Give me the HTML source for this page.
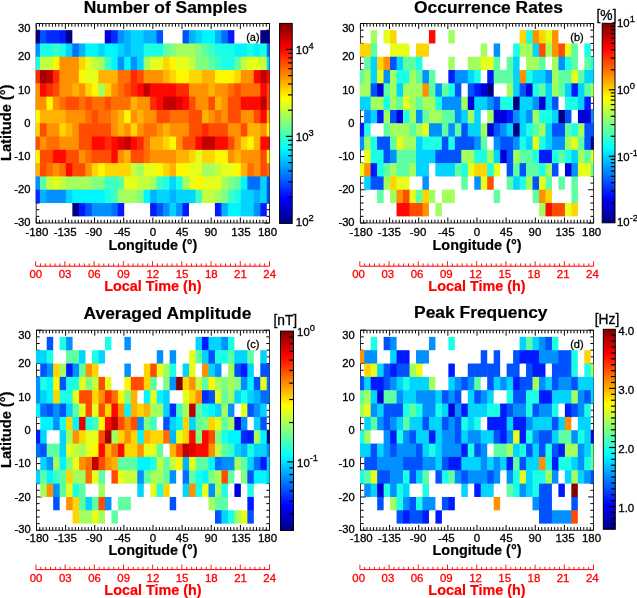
<!DOCTYPE html><html><head><meta charset="utf-8"><style>html,body{margin:0;padding:0;background:#fff;}svg{display:block;will-change:transform;filter:blur(0.35px);}text{font-family:"Liberation Sans",sans-serif;}</style></head><body>
<svg width="637" height="598" viewBox="0 0 637 598">
<rect x="0" y="0" width="637" height="598" fill="#fff"/>
<defs><linearGradient id="jetg" x1="0" y1="1" x2="0" y2="0"><stop offset="0.0000" stop-color="#000080"/><stop offset="0.0312" stop-color="#00009f"/><stop offset="0.0625" stop-color="#0000bf"/><stop offset="0.0938" stop-color="#0000df"/><stop offset="0.1250" stop-color="#0000ff"/><stop offset="0.1562" stop-color="#0020ff"/><stop offset="0.1875" stop-color="#0040ff"/><stop offset="0.2188" stop-color="#0060ff"/><stop offset="0.2500" stop-color="#0080ff"/><stop offset="0.2812" stop-color="#009fff"/><stop offset="0.3125" stop-color="#00bfff"/><stop offset="0.3438" stop-color="#00dfff"/><stop offset="0.3750" stop-color="#00ffff"/><stop offset="0.4062" stop-color="#20ffdf"/><stop offset="0.4375" stop-color="#40ffbf"/><stop offset="0.4688" stop-color="#60ff9f"/><stop offset="0.5000" stop-color="#80ff80"/><stop offset="0.5312" stop-color="#9fff60"/><stop offset="0.5625" stop-color="#bfff40"/><stop offset="0.5938" stop-color="#dfff20"/><stop offset="0.6250" stop-color="#ffff00"/><stop offset="0.6562" stop-color="#ffdf00"/><stop offset="0.6875" stop-color="#ffbf00"/><stop offset="0.7188" stop-color="#ff9f00"/><stop offset="0.7500" stop-color="#ff8000"/><stop offset="0.7812" stop-color="#ff6000"/><stop offset="0.8125" stop-color="#ff4000"/><stop offset="0.8438" stop-color="#ff2000"/><stop offset="0.8750" stop-color="#ff0000"/><stop offset="0.9062" stop-color="#df0000"/><stop offset="0.9375" stop-color="#bf0000"/><stop offset="0.9688" stop-color="#9f0000"/><stop offset="1.0000" stop-color="#800000"/></linearGradient></defs>
<line x1="36.20" y1="223.00" x2="36.20" y2="217.60" stroke="#000" stroke-width="1.00"/>
<line x1="36.20" y1="23.50" x2="36.20" y2="28.90" stroke="#000" stroke-width="1.00"/>
<line x1="39.44" y1="223.00" x2="39.44" y2="219.80" stroke="#000" stroke-width="1.00"/>
<line x1="39.44" y1="23.50" x2="39.44" y2="26.70" stroke="#000" stroke-width="1.00"/>
<line x1="42.68" y1="223.00" x2="42.68" y2="219.80" stroke="#000" stroke-width="1.00"/>
<line x1="42.68" y1="23.50" x2="42.68" y2="26.70" stroke="#000" stroke-width="1.00"/>
<line x1="45.92" y1="223.00" x2="45.92" y2="219.80" stroke="#000" stroke-width="1.00"/>
<line x1="45.92" y1="23.50" x2="45.92" y2="26.70" stroke="#000" stroke-width="1.00"/>
<line x1="49.16" y1="223.00" x2="49.16" y2="219.80" stroke="#000" stroke-width="1.00"/>
<line x1="49.16" y1="23.50" x2="49.16" y2="26.70" stroke="#000" stroke-width="1.00"/>
<line x1="52.40" y1="223.00" x2="52.40" y2="219.80" stroke="#000" stroke-width="1.00"/>
<line x1="52.40" y1="23.50" x2="52.40" y2="26.70" stroke="#000" stroke-width="1.00"/>
<line x1="55.64" y1="223.00" x2="55.64" y2="219.80" stroke="#000" stroke-width="1.00"/>
<line x1="55.64" y1="23.50" x2="55.64" y2="26.70" stroke="#000" stroke-width="1.00"/>
<line x1="58.88" y1="223.00" x2="58.88" y2="219.80" stroke="#000" stroke-width="1.00"/>
<line x1="58.88" y1="23.50" x2="58.88" y2="26.70" stroke="#000" stroke-width="1.00"/>
<line x1="62.12" y1="223.00" x2="62.12" y2="219.80" stroke="#000" stroke-width="1.00"/>
<line x1="62.12" y1="23.50" x2="62.12" y2="26.70" stroke="#000" stroke-width="1.00"/>
<line x1="65.36" y1="223.00" x2="65.36" y2="217.60" stroke="#000" stroke-width="1.00"/>
<line x1="65.36" y1="23.50" x2="65.36" y2="28.90" stroke="#000" stroke-width="1.00"/>
<line x1="68.60" y1="223.00" x2="68.60" y2="219.80" stroke="#000" stroke-width="1.00"/>
<line x1="68.60" y1="23.50" x2="68.60" y2="26.70" stroke="#000" stroke-width="1.00"/>
<line x1="71.84" y1="223.00" x2="71.84" y2="219.80" stroke="#000" stroke-width="1.00"/>
<line x1="71.84" y1="23.50" x2="71.84" y2="26.70" stroke="#000" stroke-width="1.00"/>
<line x1="75.08" y1="223.00" x2="75.08" y2="219.80" stroke="#000" stroke-width="1.00"/>
<line x1="75.08" y1="23.50" x2="75.08" y2="26.70" stroke="#000" stroke-width="1.00"/>
<line x1="78.32" y1="223.00" x2="78.32" y2="219.80" stroke="#000" stroke-width="1.00"/>
<line x1="78.32" y1="23.50" x2="78.32" y2="26.70" stroke="#000" stroke-width="1.00"/>
<line x1="81.56" y1="223.00" x2="81.56" y2="219.80" stroke="#000" stroke-width="1.00"/>
<line x1="81.56" y1="23.50" x2="81.56" y2="26.70" stroke="#000" stroke-width="1.00"/>
<line x1="84.80" y1="223.00" x2="84.80" y2="219.80" stroke="#000" stroke-width="1.00"/>
<line x1="84.80" y1="23.50" x2="84.80" y2="26.70" stroke="#000" stroke-width="1.00"/>
<line x1="88.04" y1="223.00" x2="88.04" y2="219.80" stroke="#000" stroke-width="1.00"/>
<line x1="88.04" y1="23.50" x2="88.04" y2="26.70" stroke="#000" stroke-width="1.00"/>
<line x1="91.28" y1="223.00" x2="91.28" y2="219.80" stroke="#000" stroke-width="1.00"/>
<line x1="91.28" y1="23.50" x2="91.28" y2="26.70" stroke="#000" stroke-width="1.00"/>
<line x1="94.53" y1="223.00" x2="94.53" y2="217.60" stroke="#000" stroke-width="1.00"/>
<line x1="94.53" y1="23.50" x2="94.53" y2="28.90" stroke="#000" stroke-width="1.00"/>
<line x1="97.77" y1="223.00" x2="97.77" y2="219.80" stroke="#000" stroke-width="1.00"/>
<line x1="97.77" y1="23.50" x2="97.77" y2="26.70" stroke="#000" stroke-width="1.00"/>
<line x1="101.01" y1="223.00" x2="101.01" y2="219.80" stroke="#000" stroke-width="1.00"/>
<line x1="101.01" y1="23.50" x2="101.01" y2="26.70" stroke="#000" stroke-width="1.00"/>
<line x1="104.25" y1="223.00" x2="104.25" y2="219.80" stroke="#000" stroke-width="1.00"/>
<line x1="104.25" y1="23.50" x2="104.25" y2="26.70" stroke="#000" stroke-width="1.00"/>
<line x1="107.49" y1="223.00" x2="107.49" y2="219.80" stroke="#000" stroke-width="1.00"/>
<line x1="107.49" y1="23.50" x2="107.49" y2="26.70" stroke="#000" stroke-width="1.00"/>
<line x1="110.73" y1="223.00" x2="110.73" y2="219.80" stroke="#000" stroke-width="1.00"/>
<line x1="110.73" y1="23.50" x2="110.73" y2="26.70" stroke="#000" stroke-width="1.00"/>
<line x1="113.97" y1="223.00" x2="113.97" y2="219.80" stroke="#000" stroke-width="1.00"/>
<line x1="113.97" y1="23.50" x2="113.97" y2="26.70" stroke="#000" stroke-width="1.00"/>
<line x1="117.21" y1="223.00" x2="117.21" y2="219.80" stroke="#000" stroke-width="1.00"/>
<line x1="117.21" y1="23.50" x2="117.21" y2="26.70" stroke="#000" stroke-width="1.00"/>
<line x1="120.45" y1="223.00" x2="120.45" y2="219.80" stroke="#000" stroke-width="1.00"/>
<line x1="120.45" y1="23.50" x2="120.45" y2="26.70" stroke="#000" stroke-width="1.00"/>
<line x1="123.69" y1="223.00" x2="123.69" y2="217.60" stroke="#000" stroke-width="1.00"/>
<line x1="123.69" y1="23.50" x2="123.69" y2="28.90" stroke="#000" stroke-width="1.00"/>
<line x1="126.93" y1="223.00" x2="126.93" y2="219.80" stroke="#000" stroke-width="1.00"/>
<line x1="126.93" y1="23.50" x2="126.93" y2="26.70" stroke="#000" stroke-width="1.00"/>
<line x1="130.17" y1="223.00" x2="130.17" y2="219.80" stroke="#000" stroke-width="1.00"/>
<line x1="130.17" y1="23.50" x2="130.17" y2="26.70" stroke="#000" stroke-width="1.00"/>
<line x1="133.41" y1="223.00" x2="133.41" y2="219.80" stroke="#000" stroke-width="1.00"/>
<line x1="133.41" y1="23.50" x2="133.41" y2="26.70" stroke="#000" stroke-width="1.00"/>
<line x1="136.65" y1="223.00" x2="136.65" y2="219.80" stroke="#000" stroke-width="1.00"/>
<line x1="136.65" y1="23.50" x2="136.65" y2="26.70" stroke="#000" stroke-width="1.00"/>
<line x1="139.89" y1="223.00" x2="139.89" y2="219.80" stroke="#000" stroke-width="1.00"/>
<line x1="139.89" y1="23.50" x2="139.89" y2="26.70" stroke="#000" stroke-width="1.00"/>
<line x1="143.13" y1="223.00" x2="143.13" y2="219.80" stroke="#000" stroke-width="1.00"/>
<line x1="143.13" y1="23.50" x2="143.13" y2="26.70" stroke="#000" stroke-width="1.00"/>
<line x1="146.37" y1="223.00" x2="146.37" y2="219.80" stroke="#000" stroke-width="1.00"/>
<line x1="146.37" y1="23.50" x2="146.37" y2="26.70" stroke="#000" stroke-width="1.00"/>
<line x1="149.61" y1="223.00" x2="149.61" y2="219.80" stroke="#000" stroke-width="1.00"/>
<line x1="149.61" y1="23.50" x2="149.61" y2="26.70" stroke="#000" stroke-width="1.00"/>
<line x1="152.85" y1="223.00" x2="152.85" y2="217.60" stroke="#000" stroke-width="1.00"/>
<line x1="152.85" y1="23.50" x2="152.85" y2="28.90" stroke="#000" stroke-width="1.00"/>
<line x1="156.09" y1="223.00" x2="156.09" y2="219.80" stroke="#000" stroke-width="1.00"/>
<line x1="156.09" y1="23.50" x2="156.09" y2="26.70" stroke="#000" stroke-width="1.00"/>
<line x1="159.33" y1="223.00" x2="159.33" y2="219.80" stroke="#000" stroke-width="1.00"/>
<line x1="159.33" y1="23.50" x2="159.33" y2="26.70" stroke="#000" stroke-width="1.00"/>
<line x1="162.57" y1="223.00" x2="162.57" y2="219.80" stroke="#000" stroke-width="1.00"/>
<line x1="162.57" y1="23.50" x2="162.57" y2="26.70" stroke="#000" stroke-width="1.00"/>
<line x1="165.81" y1="223.00" x2="165.81" y2="219.80" stroke="#000" stroke-width="1.00"/>
<line x1="165.81" y1="23.50" x2="165.81" y2="26.70" stroke="#000" stroke-width="1.00"/>
<line x1="169.05" y1="223.00" x2="169.05" y2="219.80" stroke="#000" stroke-width="1.00"/>
<line x1="169.05" y1="23.50" x2="169.05" y2="26.70" stroke="#000" stroke-width="1.00"/>
<line x1="172.29" y1="223.00" x2="172.29" y2="219.80" stroke="#000" stroke-width="1.00"/>
<line x1="172.29" y1="23.50" x2="172.29" y2="26.70" stroke="#000" stroke-width="1.00"/>
<line x1="175.53" y1="223.00" x2="175.53" y2="219.80" stroke="#000" stroke-width="1.00"/>
<line x1="175.53" y1="23.50" x2="175.53" y2="26.70" stroke="#000" stroke-width="1.00"/>
<line x1="178.77" y1="223.00" x2="178.77" y2="219.80" stroke="#000" stroke-width="1.00"/>
<line x1="178.77" y1="23.50" x2="178.77" y2="26.70" stroke="#000" stroke-width="1.00"/>
<line x1="182.01" y1="223.00" x2="182.01" y2="217.60" stroke="#000" stroke-width="1.00"/>
<line x1="182.01" y1="23.50" x2="182.01" y2="28.90" stroke="#000" stroke-width="1.00"/>
<line x1="185.25" y1="223.00" x2="185.25" y2="219.80" stroke="#000" stroke-width="1.00"/>
<line x1="185.25" y1="23.50" x2="185.25" y2="26.70" stroke="#000" stroke-width="1.00"/>
<line x1="188.49" y1="223.00" x2="188.49" y2="219.80" stroke="#000" stroke-width="1.00"/>
<line x1="188.49" y1="23.50" x2="188.49" y2="26.70" stroke="#000" stroke-width="1.00"/>
<line x1="191.73" y1="223.00" x2="191.73" y2="219.80" stroke="#000" stroke-width="1.00"/>
<line x1="191.73" y1="23.50" x2="191.73" y2="26.70" stroke="#000" stroke-width="1.00"/>
<line x1="194.97" y1="223.00" x2="194.97" y2="219.80" stroke="#000" stroke-width="1.00"/>
<line x1="194.97" y1="23.50" x2="194.97" y2="26.70" stroke="#000" stroke-width="1.00"/>
<line x1="198.21" y1="223.00" x2="198.21" y2="219.80" stroke="#000" stroke-width="1.00"/>
<line x1="198.21" y1="23.50" x2="198.21" y2="26.70" stroke="#000" stroke-width="1.00"/>
<line x1="201.45" y1="223.00" x2="201.45" y2="219.80" stroke="#000" stroke-width="1.00"/>
<line x1="201.45" y1="23.50" x2="201.45" y2="26.70" stroke="#000" stroke-width="1.00"/>
<line x1="204.69" y1="223.00" x2="204.69" y2="219.80" stroke="#000" stroke-width="1.00"/>
<line x1="204.69" y1="23.50" x2="204.69" y2="26.70" stroke="#000" stroke-width="1.00"/>
<line x1="207.93" y1="223.00" x2="207.93" y2="219.80" stroke="#000" stroke-width="1.00"/>
<line x1="207.93" y1="23.50" x2="207.93" y2="26.70" stroke="#000" stroke-width="1.00"/>
<line x1="211.18" y1="223.00" x2="211.18" y2="217.60" stroke="#000" stroke-width="1.00"/>
<line x1="211.18" y1="23.50" x2="211.18" y2="28.90" stroke="#000" stroke-width="1.00"/>
<line x1="214.42" y1="223.00" x2="214.42" y2="219.80" stroke="#000" stroke-width="1.00"/>
<line x1="214.42" y1="23.50" x2="214.42" y2="26.70" stroke="#000" stroke-width="1.00"/>
<line x1="217.66" y1="223.00" x2="217.66" y2="219.80" stroke="#000" stroke-width="1.00"/>
<line x1="217.66" y1="23.50" x2="217.66" y2="26.70" stroke="#000" stroke-width="1.00"/>
<line x1="220.90" y1="223.00" x2="220.90" y2="219.80" stroke="#000" stroke-width="1.00"/>
<line x1="220.90" y1="23.50" x2="220.90" y2="26.70" stroke="#000" stroke-width="1.00"/>
<line x1="224.14" y1="223.00" x2="224.14" y2="219.80" stroke="#000" stroke-width="1.00"/>
<line x1="224.14" y1="23.50" x2="224.14" y2="26.70" stroke="#000" stroke-width="1.00"/>
<line x1="227.38" y1="223.00" x2="227.38" y2="219.80" stroke="#000" stroke-width="1.00"/>
<line x1="227.38" y1="23.50" x2="227.38" y2="26.70" stroke="#000" stroke-width="1.00"/>
<line x1="230.62" y1="223.00" x2="230.62" y2="219.80" stroke="#000" stroke-width="1.00"/>
<line x1="230.62" y1="23.50" x2="230.62" y2="26.70" stroke="#000" stroke-width="1.00"/>
<line x1="233.86" y1="223.00" x2="233.86" y2="219.80" stroke="#000" stroke-width="1.00"/>
<line x1="233.86" y1="23.50" x2="233.86" y2="26.70" stroke="#000" stroke-width="1.00"/>
<line x1="237.10" y1="223.00" x2="237.10" y2="219.80" stroke="#000" stroke-width="1.00"/>
<line x1="237.10" y1="23.50" x2="237.10" y2="26.70" stroke="#000" stroke-width="1.00"/>
<line x1="240.34" y1="223.00" x2="240.34" y2="217.60" stroke="#000" stroke-width="1.00"/>
<line x1="240.34" y1="23.50" x2="240.34" y2="28.90" stroke="#000" stroke-width="1.00"/>
<line x1="243.58" y1="223.00" x2="243.58" y2="219.80" stroke="#000" stroke-width="1.00"/>
<line x1="243.58" y1="23.50" x2="243.58" y2="26.70" stroke="#000" stroke-width="1.00"/>
<line x1="246.82" y1="223.00" x2="246.82" y2="219.80" stroke="#000" stroke-width="1.00"/>
<line x1="246.82" y1="23.50" x2="246.82" y2="26.70" stroke="#000" stroke-width="1.00"/>
<line x1="250.06" y1="223.00" x2="250.06" y2="219.80" stroke="#000" stroke-width="1.00"/>
<line x1="250.06" y1="23.50" x2="250.06" y2="26.70" stroke="#000" stroke-width="1.00"/>
<line x1="253.30" y1="223.00" x2="253.30" y2="219.80" stroke="#000" stroke-width="1.00"/>
<line x1="253.30" y1="23.50" x2="253.30" y2="26.70" stroke="#000" stroke-width="1.00"/>
<line x1="256.54" y1="223.00" x2="256.54" y2="219.80" stroke="#000" stroke-width="1.00"/>
<line x1="256.54" y1="23.50" x2="256.54" y2="26.70" stroke="#000" stroke-width="1.00"/>
<line x1="259.78" y1="223.00" x2="259.78" y2="219.80" stroke="#000" stroke-width="1.00"/>
<line x1="259.78" y1="23.50" x2="259.78" y2="26.70" stroke="#000" stroke-width="1.00"/>
<line x1="263.02" y1="223.00" x2="263.02" y2="219.80" stroke="#000" stroke-width="1.00"/>
<line x1="263.02" y1="23.50" x2="263.02" y2="26.70" stroke="#000" stroke-width="1.00"/>
<line x1="266.26" y1="223.00" x2="266.26" y2="219.80" stroke="#000" stroke-width="1.00"/>
<line x1="266.26" y1="23.50" x2="266.26" y2="26.70" stroke="#000" stroke-width="1.00"/>
<line x1="269.50" y1="223.00" x2="269.50" y2="217.60" stroke="#000" stroke-width="1.00"/>
<line x1="269.50" y1="23.50" x2="269.50" y2="28.90" stroke="#000" stroke-width="1.00"/>
<line x1="36.20" y1="223.00" x2="41.60" y2="223.00" stroke="#000" stroke-width="1.00"/>
<line x1="269.50" y1="223.00" x2="264.10" y2="223.00" stroke="#000" stroke-width="1.00"/>
<line x1="36.20" y1="216.35" x2="39.40" y2="216.35" stroke="#000" stroke-width="1.00"/>
<line x1="269.50" y1="216.35" x2="266.30" y2="216.35" stroke="#000" stroke-width="1.00"/>
<line x1="36.20" y1="209.70" x2="39.40" y2="209.70" stroke="#000" stroke-width="1.00"/>
<line x1="269.50" y1="209.70" x2="266.30" y2="209.70" stroke="#000" stroke-width="1.00"/>
<line x1="36.20" y1="203.05" x2="39.40" y2="203.05" stroke="#000" stroke-width="1.00"/>
<line x1="269.50" y1="203.05" x2="266.30" y2="203.05" stroke="#000" stroke-width="1.00"/>
<line x1="36.20" y1="196.40" x2="39.40" y2="196.40" stroke="#000" stroke-width="1.00"/>
<line x1="269.50" y1="196.40" x2="266.30" y2="196.40" stroke="#000" stroke-width="1.00"/>
<line x1="36.20" y1="189.75" x2="41.60" y2="189.75" stroke="#000" stroke-width="1.00"/>
<line x1="269.50" y1="189.75" x2="264.10" y2="189.75" stroke="#000" stroke-width="1.00"/>
<line x1="36.20" y1="183.10" x2="39.40" y2="183.10" stroke="#000" stroke-width="1.00"/>
<line x1="269.50" y1="183.10" x2="266.30" y2="183.10" stroke="#000" stroke-width="1.00"/>
<line x1="36.20" y1="176.45" x2="39.40" y2="176.45" stroke="#000" stroke-width="1.00"/>
<line x1="269.50" y1="176.45" x2="266.30" y2="176.45" stroke="#000" stroke-width="1.00"/>
<line x1="36.20" y1="169.80" x2="39.40" y2="169.80" stroke="#000" stroke-width="1.00"/>
<line x1="269.50" y1="169.80" x2="266.30" y2="169.80" stroke="#000" stroke-width="1.00"/>
<line x1="36.20" y1="163.15" x2="39.40" y2="163.15" stroke="#000" stroke-width="1.00"/>
<line x1="269.50" y1="163.15" x2="266.30" y2="163.15" stroke="#000" stroke-width="1.00"/>
<line x1="36.20" y1="156.50" x2="41.60" y2="156.50" stroke="#000" stroke-width="1.00"/>
<line x1="269.50" y1="156.50" x2="264.10" y2="156.50" stroke="#000" stroke-width="1.00"/>
<line x1="36.20" y1="149.85" x2="39.40" y2="149.85" stroke="#000" stroke-width="1.00"/>
<line x1="269.50" y1="149.85" x2="266.30" y2="149.85" stroke="#000" stroke-width="1.00"/>
<line x1="36.20" y1="143.20" x2="39.40" y2="143.20" stroke="#000" stroke-width="1.00"/>
<line x1="269.50" y1="143.20" x2="266.30" y2="143.20" stroke="#000" stroke-width="1.00"/>
<line x1="36.20" y1="136.55" x2="39.40" y2="136.55" stroke="#000" stroke-width="1.00"/>
<line x1="269.50" y1="136.55" x2="266.30" y2="136.55" stroke="#000" stroke-width="1.00"/>
<line x1="36.20" y1="129.90" x2="39.40" y2="129.90" stroke="#000" stroke-width="1.00"/>
<line x1="269.50" y1="129.90" x2="266.30" y2="129.90" stroke="#000" stroke-width="1.00"/>
<line x1="36.20" y1="123.25" x2="41.60" y2="123.25" stroke="#000" stroke-width="1.00"/>
<line x1="269.50" y1="123.25" x2="264.10" y2="123.25" stroke="#000" stroke-width="1.00"/>
<line x1="36.20" y1="116.60" x2="39.40" y2="116.60" stroke="#000" stroke-width="1.00"/>
<line x1="269.50" y1="116.60" x2="266.30" y2="116.60" stroke="#000" stroke-width="1.00"/>
<line x1="36.20" y1="109.95" x2="39.40" y2="109.95" stroke="#000" stroke-width="1.00"/>
<line x1="269.50" y1="109.95" x2="266.30" y2="109.95" stroke="#000" stroke-width="1.00"/>
<line x1="36.20" y1="103.30" x2="39.40" y2="103.30" stroke="#000" stroke-width="1.00"/>
<line x1="269.50" y1="103.30" x2="266.30" y2="103.30" stroke="#000" stroke-width="1.00"/>
<line x1="36.20" y1="96.65" x2="39.40" y2="96.65" stroke="#000" stroke-width="1.00"/>
<line x1="269.50" y1="96.65" x2="266.30" y2="96.65" stroke="#000" stroke-width="1.00"/>
<line x1="36.20" y1="90.00" x2="41.60" y2="90.00" stroke="#000" stroke-width="1.00"/>
<line x1="269.50" y1="90.00" x2="264.10" y2="90.00" stroke="#000" stroke-width="1.00"/>
<line x1="36.20" y1="83.35" x2="39.40" y2="83.35" stroke="#000" stroke-width="1.00"/>
<line x1="269.50" y1="83.35" x2="266.30" y2="83.35" stroke="#000" stroke-width="1.00"/>
<line x1="36.20" y1="76.70" x2="39.40" y2="76.70" stroke="#000" stroke-width="1.00"/>
<line x1="269.50" y1="76.70" x2="266.30" y2="76.70" stroke="#000" stroke-width="1.00"/>
<line x1="36.20" y1="70.05" x2="39.40" y2="70.05" stroke="#000" stroke-width="1.00"/>
<line x1="269.50" y1="70.05" x2="266.30" y2="70.05" stroke="#000" stroke-width="1.00"/>
<line x1="36.20" y1="63.40" x2="39.40" y2="63.40" stroke="#000" stroke-width="1.00"/>
<line x1="269.50" y1="63.40" x2="266.30" y2="63.40" stroke="#000" stroke-width="1.00"/>
<line x1="36.20" y1="56.75" x2="41.60" y2="56.75" stroke="#000" stroke-width="1.00"/>
<line x1="269.50" y1="56.75" x2="264.10" y2="56.75" stroke="#000" stroke-width="1.00"/>
<line x1="36.20" y1="50.10" x2="39.40" y2="50.10" stroke="#000" stroke-width="1.00"/>
<line x1="269.50" y1="50.10" x2="266.30" y2="50.10" stroke="#000" stroke-width="1.00"/>
<line x1="36.20" y1="43.45" x2="39.40" y2="43.45" stroke="#000" stroke-width="1.00"/>
<line x1="269.50" y1="43.45" x2="266.30" y2="43.45" stroke="#000" stroke-width="1.00"/>
<line x1="36.20" y1="36.80" x2="39.40" y2="36.80" stroke="#000" stroke-width="1.00"/>
<line x1="269.50" y1="36.80" x2="266.30" y2="36.80" stroke="#000" stroke-width="1.00"/>
<line x1="36.20" y1="30.15" x2="39.40" y2="30.15" stroke="#000" stroke-width="1.00"/>
<line x1="269.50" y1="30.15" x2="266.30" y2="30.15" stroke="#000" stroke-width="1.00"/>
<line x1="36.20" y1="23.50" x2="41.60" y2="23.50" stroke="#000" stroke-width="1.00"/>
<line x1="269.50" y1="23.50" x2="264.10" y2="23.50" stroke="#000" stroke-width="1.00"/>
<rect x="36.20" y="23.50" width="233.30" height="199.50" fill="none" stroke="#111" stroke-width="0.85"/>
<g>
<rect x="35.70" y="30.15" width="4.84" height="13.90" fill="#000080"/>
<rect x="39.94" y="30.15" width="7.08" height="13.90" fill="#0052ff"/>
<rect x="46.42" y="30.15" width="7.08" height="13.90" fill="#002aff"/>
<rect x="52.90" y="30.15" width="7.08" height="13.90" fill="#002aff"/>
<rect x="59.38" y="30.15" width="7.08" height="13.90" fill="#001aff"/>
<rect x="65.86" y="30.15" width="6.48" height="13.90" fill="#000080"/>
<rect x="104.75" y="30.15" width="7.08" height="13.90" fill="#0000db"/>
<rect x="111.23" y="30.15" width="7.08" height="13.90" fill="#002aff"/>
<rect x="117.71" y="30.15" width="7.08" height="13.90" fill="#0090ff"/>
<rect x="124.19" y="30.15" width="7.08" height="13.90" fill="#00b2ff"/>
<rect x="130.67" y="30.15" width="7.08" height="13.90" fill="#00d4ff"/>
<rect x="137.15" y="30.15" width="7.08" height="13.90" fill="#00d4ff"/>
<rect x="143.63" y="30.15" width="7.08" height="13.90" fill="#00b2ff"/>
<rect x="150.11" y="30.15" width="7.08" height="13.90" fill="#00b2ff"/>
<rect x="156.59" y="30.15" width="6.48" height="13.90" fill="#0052ff"/>
<rect x="182.51" y="30.15" width="7.08" height="13.90" fill="#0052ff"/>
<rect x="188.99" y="30.15" width="7.08" height="13.90" fill="#00b2ff"/>
<rect x="195.47" y="30.15" width="7.08" height="13.90" fill="#00d4ff"/>
<rect x="201.95" y="30.15" width="7.08" height="13.90" fill="#00f6ff"/>
<rect x="208.43" y="30.15" width="7.08" height="13.90" fill="#00f6ff"/>
<rect x="214.92" y="30.15" width="7.08" height="13.90" fill="#00b2ff"/>
<rect x="221.40" y="30.15" width="7.08" height="13.90" fill="#006eff"/>
<rect x="227.88" y="30.15" width="6.48" height="13.90" fill="#001aff"/>
<rect x="260.28" y="30.15" width="7.08" height="13.90" fill="#000080"/>
<rect x="266.76" y="30.15" width="2.74" height="13.90" fill="#000080"/>
<rect x="35.70" y="43.45" width="4.84" height="13.90" fill="#0090ff"/>
<rect x="39.94" y="43.45" width="7.08" height="13.90" fill="#1affe5"/>
<rect x="46.42" y="43.45" width="7.08" height="13.90" fill="#1affe5"/>
<rect x="52.90" y="43.45" width="7.08" height="13.90" fill="#3cffc3"/>
<rect x="59.38" y="43.45" width="7.08" height="13.90" fill="#1affe5"/>
<rect x="65.86" y="43.45" width="7.08" height="13.90" fill="#00d4ff"/>
<rect x="72.34" y="43.45" width="7.08" height="13.90" fill="#006eff"/>
<rect x="78.82" y="43.45" width="7.08" height="13.90" fill="#00b2ff"/>
<rect x="85.30" y="43.45" width="7.08" height="13.90" fill="#00f6ff"/>
<rect x="91.78" y="43.45" width="7.08" height="13.90" fill="#00f6ff"/>
<rect x="98.27" y="43.45" width="7.08" height="13.90" fill="#00d4ff"/>
<rect x="104.75" y="43.45" width="7.08" height="13.90" fill="#00f6ff"/>
<rect x="111.23" y="43.45" width="7.08" height="13.90" fill="#00f6ff"/>
<rect x="117.71" y="43.45" width="7.08" height="13.90" fill="#00d4ff"/>
<rect x="124.19" y="43.45" width="7.08" height="13.90" fill="#00b2ff"/>
<rect x="130.67" y="43.45" width="7.08" height="13.90" fill="#00d4ff"/>
<rect x="137.15" y="43.45" width="7.08" height="13.90" fill="#00d4ff"/>
<rect x="143.63" y="43.45" width="7.08" height="13.90" fill="#1affe5"/>
<rect x="150.11" y="43.45" width="7.08" height="13.90" fill="#1affe5"/>
<rect x="156.59" y="43.45" width="7.08" height="13.90" fill="#1affe5"/>
<rect x="163.07" y="43.45" width="7.08" height="13.90" fill="#5effa2"/>
<rect x="169.55" y="43.45" width="7.08" height="13.90" fill="#80ff80"/>
<rect x="176.03" y="43.45" width="7.08" height="13.90" fill="#a2ff5e"/>
<rect x="182.51" y="43.45" width="7.08" height="13.90" fill="#a2ff5e"/>
<rect x="188.99" y="43.45" width="7.08" height="13.90" fill="#a2ff5e"/>
<rect x="195.47" y="43.45" width="7.08" height="13.90" fill="#80ff80"/>
<rect x="201.95" y="43.45" width="7.08" height="13.90" fill="#5effa2"/>
<rect x="208.43" y="43.45" width="7.08" height="13.90" fill="#3cffc3"/>
<rect x="214.92" y="43.45" width="7.08" height="13.90" fill="#1affe5"/>
<rect x="221.40" y="43.45" width="7.08" height="13.90" fill="#1affe5"/>
<rect x="227.88" y="43.45" width="7.08" height="13.90" fill="#1affe5"/>
<rect x="234.36" y="43.45" width="7.08" height="13.90" fill="#00f6ff"/>
<rect x="240.84" y="43.45" width="7.08" height="13.90" fill="#00f6ff"/>
<rect x="247.32" y="43.45" width="7.08" height="13.90" fill="#1affe5"/>
<rect x="253.80" y="43.45" width="7.08" height="13.90" fill="#00f6ff"/>
<rect x="260.28" y="43.45" width="7.08" height="13.90" fill="#1affe5"/>
<rect x="266.76" y="43.45" width="2.74" height="13.90" fill="#006eff"/>
<rect x="35.70" y="56.75" width="4.84" height="13.90" fill="#1affe5"/>
<rect x="39.94" y="56.75" width="7.08" height="13.90" fill="#c3ff3c"/>
<rect x="46.42" y="56.75" width="7.08" height="13.90" fill="#c3ff3c"/>
<rect x="52.90" y="56.75" width="7.08" height="13.90" fill="#fff700"/>
<rect x="59.38" y="56.75" width="7.08" height="13.90" fill="#ff9100"/>
<rect x="65.86" y="56.75" width="7.08" height="13.90" fill="#ff9100"/>
<rect x="72.34" y="56.75" width="7.08" height="13.90" fill="#ff9100"/>
<rect x="78.82" y="56.75" width="7.08" height="13.90" fill="#ffd500"/>
<rect x="85.30" y="56.75" width="7.08" height="13.90" fill="#e5ff1a"/>
<rect x="91.78" y="56.75" width="7.08" height="13.90" fill="#c3ff3c"/>
<rect x="98.27" y="56.75" width="7.08" height="13.90" fill="#a2ff5e"/>
<rect x="104.75" y="56.75" width="7.08" height="13.90" fill="#3cffc3"/>
<rect x="111.23" y="56.75" width="7.08" height="13.90" fill="#00f6ff"/>
<rect x="117.71" y="56.75" width="7.08" height="13.90" fill="#0090ff"/>
<rect x="124.19" y="56.75" width="7.08" height="13.90" fill="#00f6ff"/>
<rect x="130.67" y="56.75" width="7.08" height="13.90" fill="#0090ff"/>
<rect x="137.15" y="56.75" width="7.08" height="13.90" fill="#00d4ff"/>
<rect x="143.63" y="56.75" width="7.08" height="13.90" fill="#a2ff5e"/>
<rect x="150.11" y="56.75" width="7.08" height="13.90" fill="#e5ff1a"/>
<rect x="156.59" y="56.75" width="7.08" height="13.90" fill="#e5ff1a"/>
<rect x="163.07" y="56.75" width="7.08" height="13.90" fill="#ffd500"/>
<rect x="169.55" y="56.75" width="7.08" height="13.90" fill="#fff700"/>
<rect x="176.03" y="56.75" width="7.08" height="13.90" fill="#e5ff1a"/>
<rect x="182.51" y="56.75" width="7.08" height="13.90" fill="#e5ff1a"/>
<rect x="188.99" y="56.75" width="7.08" height="13.90" fill="#c3ff3c"/>
<rect x="195.47" y="56.75" width="7.08" height="13.90" fill="#80ff80"/>
<rect x="201.95" y="56.75" width="7.08" height="13.90" fill="#80ff80"/>
<rect x="208.43" y="56.75" width="7.08" height="13.90" fill="#5effa2"/>
<rect x="214.92" y="56.75" width="7.08" height="13.90" fill="#3cffc3"/>
<rect x="221.40" y="56.75" width="7.08" height="13.90" fill="#1affe5"/>
<rect x="227.88" y="56.75" width="7.08" height="13.90" fill="#1affe5"/>
<rect x="234.36" y="56.75" width="7.08" height="13.90" fill="#5effa2"/>
<rect x="240.84" y="56.75" width="7.08" height="13.90" fill="#c3ff3c"/>
<rect x="247.32" y="56.75" width="7.08" height="13.90" fill="#e5ff1a"/>
<rect x="253.80" y="56.75" width="7.08" height="13.90" fill="#e5ff1a"/>
<rect x="260.28" y="56.75" width="7.08" height="13.90" fill="#c3ff3c"/>
<rect x="266.76" y="56.75" width="2.74" height="13.90" fill="#00d4ff"/>
<rect x="35.70" y="70.05" width="4.84" height="13.90" fill="#ff2a00"/>
<rect x="39.94" y="70.05" width="7.08" height="13.90" fill="#a20000"/>
<rect x="46.42" y="70.05" width="7.08" height="13.90" fill="#c30000"/>
<rect x="52.90" y="70.05" width="7.08" height="13.90" fill="#ff2a00"/>
<rect x="59.38" y="70.05" width="7.08" height="13.90" fill="#ff9100"/>
<rect x="65.86" y="70.05" width="7.08" height="13.90" fill="#ff9100"/>
<rect x="72.34" y="70.05" width="7.08" height="13.90" fill="#ff9100"/>
<rect x="78.82" y="70.05" width="7.08" height="13.90" fill="#fff700"/>
<rect x="85.30" y="70.05" width="7.08" height="13.90" fill="#e5ff1a"/>
<rect x="91.78" y="70.05" width="7.08" height="13.90" fill="#e5ff1a"/>
<rect x="98.27" y="70.05" width="7.08" height="13.90" fill="#ffb300"/>
<rect x="104.75" y="70.05" width="7.08" height="13.90" fill="#ffb300"/>
<rect x="111.23" y="70.05" width="7.08" height="13.90" fill="#ffb300"/>
<rect x="117.71" y="70.05" width="7.08" height="13.90" fill="#ff6e00"/>
<rect x="124.19" y="70.05" width="7.08" height="13.90" fill="#ff6e00"/>
<rect x="130.67" y="70.05" width="7.08" height="13.90" fill="#ff2a00"/>
<rect x="137.15" y="70.05" width="7.08" height="13.90" fill="#ff4c00"/>
<rect x="143.63" y="70.05" width="7.08" height="13.90" fill="#ff9100"/>
<rect x="150.11" y="70.05" width="7.08" height="13.90" fill="#ff9100"/>
<rect x="156.59" y="70.05" width="7.08" height="13.90" fill="#ff9100"/>
<rect x="163.07" y="70.05" width="7.08" height="13.90" fill="#ffb300"/>
<rect x="169.55" y="70.05" width="7.08" height="13.90" fill="#ffd500"/>
<rect x="176.03" y="70.05" width="7.08" height="13.90" fill="#fff700"/>
<rect x="182.51" y="70.05" width="7.08" height="13.90" fill="#fff700"/>
<rect x="188.99" y="70.05" width="7.08" height="13.90" fill="#ffd500"/>
<rect x="195.47" y="70.05" width="7.08" height="13.90" fill="#ffd500"/>
<rect x="201.95" y="70.05" width="7.08" height="13.90" fill="#ffb300"/>
<rect x="208.43" y="70.05" width="7.08" height="13.90" fill="#ffb300"/>
<rect x="214.92" y="70.05" width="7.08" height="13.90" fill="#fff700"/>
<rect x="221.40" y="70.05" width="7.08" height="13.90" fill="#fff700"/>
<rect x="227.88" y="70.05" width="7.08" height="13.90" fill="#fff700"/>
<rect x="234.36" y="70.05" width="7.08" height="13.90" fill="#ffd500"/>
<rect x="240.84" y="70.05" width="7.08" height="13.90" fill="#ff9100"/>
<rect x="247.32" y="70.05" width="7.08" height="13.90" fill="#ff9100"/>
<rect x="253.80" y="70.05" width="7.08" height="13.90" fill="#ff0800"/>
<rect x="260.28" y="70.05" width="7.08" height="13.90" fill="#c30000"/>
<rect x="266.76" y="70.05" width="2.74" height="13.90" fill="#ff0800"/>
<rect x="35.70" y="83.35" width="4.84" height="13.90" fill="#ff9100"/>
<rect x="39.94" y="83.35" width="7.08" height="13.90" fill="#ff0800"/>
<rect x="46.42" y="83.35" width="7.08" height="13.90" fill="#ff2a00"/>
<rect x="52.90" y="83.35" width="7.08" height="13.90" fill="#ff4c00"/>
<rect x="59.38" y="83.35" width="7.08" height="13.90" fill="#ff9100"/>
<rect x="65.86" y="83.35" width="7.08" height="13.90" fill="#ff9100"/>
<rect x="72.34" y="83.35" width="7.08" height="13.90" fill="#ffb300"/>
<rect x="78.82" y="83.35" width="7.08" height="13.90" fill="#ff9100"/>
<rect x="85.30" y="83.35" width="7.08" height="13.90" fill="#ffd500"/>
<rect x="91.78" y="83.35" width="7.08" height="13.90" fill="#fff700"/>
<rect x="98.27" y="83.35" width="7.08" height="13.90" fill="#a2ff5e"/>
<rect x="104.75" y="83.35" width="7.08" height="13.90" fill="#ffd500"/>
<rect x="111.23" y="83.35" width="7.08" height="13.90" fill="#ff9100"/>
<rect x="117.71" y="83.35" width="7.08" height="13.90" fill="#ff6e00"/>
<rect x="124.19" y="83.35" width="7.08" height="13.90" fill="#ff4c00"/>
<rect x="130.67" y="83.35" width="7.08" height="13.90" fill="#ff2a00"/>
<rect x="137.15" y="83.35" width="7.08" height="13.90" fill="#ff0800"/>
<rect x="143.63" y="83.35" width="7.08" height="13.90" fill="#c30000"/>
<rect x="150.11" y="83.35" width="7.08" height="13.90" fill="#ff0800"/>
<rect x="156.59" y="83.35" width="7.08" height="13.90" fill="#ff0800"/>
<rect x="163.07" y="83.35" width="7.08" height="13.90" fill="#ff0800"/>
<rect x="169.55" y="83.35" width="7.08" height="13.90" fill="#ff0800"/>
<rect x="176.03" y="83.35" width="7.08" height="13.90" fill="#ff2a00"/>
<rect x="182.51" y="83.35" width="7.08" height="13.90" fill="#ff2a00"/>
<rect x="188.99" y="83.35" width="7.08" height="13.90" fill="#ff9100"/>
<rect x="195.47" y="83.35" width="7.08" height="13.90" fill="#ff9100"/>
<rect x="201.95" y="83.35" width="7.08" height="13.90" fill="#ff9100"/>
<rect x="208.43" y="83.35" width="7.08" height="13.90" fill="#ffb300"/>
<rect x="214.92" y="83.35" width="7.08" height="13.90" fill="#ff9100"/>
<rect x="221.40" y="83.35" width="7.08" height="13.90" fill="#ff9100"/>
<rect x="227.88" y="83.35" width="7.08" height="13.90" fill="#ff6e00"/>
<rect x="234.36" y="83.35" width="7.08" height="13.90" fill="#ff4c00"/>
<rect x="240.84" y="83.35" width="7.08" height="13.90" fill="#ff6e00"/>
<rect x="247.32" y="83.35" width="7.08" height="13.90" fill="#ff6e00"/>
<rect x="253.80" y="83.35" width="7.08" height="13.90" fill="#ff6e00"/>
<rect x="260.28" y="83.35" width="7.08" height="13.90" fill="#ff0800"/>
<rect x="266.76" y="83.35" width="2.74" height="13.90" fill="#ff4c00"/>
<rect x="35.70" y="96.65" width="4.84" height="13.90" fill="#ff9100"/>
<rect x="39.94" y="96.65" width="7.08" height="13.90" fill="#ff9100"/>
<rect x="46.42" y="96.65" width="7.08" height="13.90" fill="#fff700"/>
<rect x="52.90" y="96.65" width="7.08" height="13.90" fill="#ff9100"/>
<rect x="59.38" y="96.65" width="7.08" height="13.90" fill="#ff6e00"/>
<rect x="65.86" y="96.65" width="7.08" height="13.90" fill="#ff4c00"/>
<rect x="72.34" y="96.65" width="7.08" height="13.90" fill="#ff4c00"/>
<rect x="78.82" y="96.65" width="7.08" height="13.90" fill="#ff6e00"/>
<rect x="85.30" y="96.65" width="7.08" height="13.90" fill="#ff4c00"/>
<rect x="91.78" y="96.65" width="7.08" height="13.90" fill="#ff6e00"/>
<rect x="98.27" y="96.65" width="7.08" height="13.90" fill="#ff6e00"/>
<rect x="104.75" y="96.65" width="7.08" height="13.90" fill="#ff4c00"/>
<rect x="111.23" y="96.65" width="7.08" height="13.90" fill="#ff6e00"/>
<rect x="117.71" y="96.65" width="7.08" height="13.90" fill="#ff6e00"/>
<rect x="124.19" y="96.65" width="7.08" height="13.90" fill="#ff6e00"/>
<rect x="130.67" y="96.65" width="7.08" height="13.90" fill="#ffb300"/>
<rect x="137.15" y="96.65" width="7.08" height="13.90" fill="#ff9100"/>
<rect x="143.63" y="96.65" width="7.08" height="13.90" fill="#ff9100"/>
<rect x="150.11" y="96.65" width="7.08" height="13.90" fill="#ff2a00"/>
<rect x="156.59" y="96.65" width="7.08" height="13.90" fill="#ff0800"/>
<rect x="163.07" y="96.65" width="7.08" height="13.90" fill="#c30000"/>
<rect x="169.55" y="96.65" width="7.08" height="13.90" fill="#c30000"/>
<rect x="176.03" y="96.65" width="7.08" height="13.90" fill="#e50000"/>
<rect x="182.51" y="96.65" width="7.08" height="13.90" fill="#ff0800"/>
<rect x="188.99" y="96.65" width="7.08" height="13.90" fill="#ff4c00"/>
<rect x="195.47" y="96.65" width="7.08" height="13.90" fill="#ff9100"/>
<rect x="201.95" y="96.65" width="7.08" height="13.90" fill="#ff9100"/>
<rect x="208.43" y="96.65" width="7.08" height="13.90" fill="#ff4c00"/>
<rect x="214.92" y="96.65" width="7.08" height="13.90" fill="#ffb300"/>
<rect x="221.40" y="96.65" width="7.08" height="13.90" fill="#ff9100"/>
<rect x="227.88" y="96.65" width="7.08" height="13.90" fill="#ff4c00"/>
<rect x="234.36" y="96.65" width="7.08" height="13.90" fill="#ff4c00"/>
<rect x="240.84" y="96.65" width="7.08" height="13.90" fill="#ff0800"/>
<rect x="247.32" y="96.65" width="7.08" height="13.90" fill="#ff0800"/>
<rect x="253.80" y="96.65" width="7.08" height="13.90" fill="#ff0800"/>
<rect x="260.28" y="96.65" width="7.08" height="13.90" fill="#c30000"/>
<rect x="266.76" y="96.65" width="2.74" height="13.90" fill="#ff4c00"/>
<rect x="35.70" y="109.95" width="4.84" height="13.90" fill="#fff700"/>
<rect x="39.94" y="109.95" width="7.08" height="13.90" fill="#ffb300"/>
<rect x="46.42" y="109.95" width="7.08" height="13.90" fill="#ffb300"/>
<rect x="52.90" y="109.95" width="7.08" height="13.90" fill="#ffb300"/>
<rect x="59.38" y="109.95" width="7.08" height="13.90" fill="#ffb300"/>
<rect x="65.86" y="109.95" width="7.08" height="13.90" fill="#ff9100"/>
<rect x="72.34" y="109.95" width="7.08" height="13.90" fill="#ff9100"/>
<rect x="78.82" y="109.95" width="7.08" height="13.90" fill="#ff9100"/>
<rect x="85.30" y="109.95" width="7.08" height="13.90" fill="#ff6e00"/>
<rect x="91.78" y="109.95" width="7.08" height="13.90" fill="#ff4c00"/>
<rect x="98.27" y="109.95" width="7.08" height="13.90" fill="#ff6e00"/>
<rect x="104.75" y="109.95" width="7.08" height="13.90" fill="#ff6e00"/>
<rect x="111.23" y="109.95" width="7.08" height="13.90" fill="#ff9100"/>
<rect x="117.71" y="109.95" width="7.08" height="13.90" fill="#ffb300"/>
<rect x="124.19" y="109.95" width="7.08" height="13.90" fill="#fff700"/>
<rect x="130.67" y="109.95" width="7.08" height="13.90" fill="#ff9100"/>
<rect x="137.15" y="109.95" width="7.08" height="13.90" fill="#ffb300"/>
<rect x="143.63" y="109.95" width="7.08" height="13.90" fill="#ff9100"/>
<rect x="150.11" y="109.95" width="7.08" height="13.90" fill="#ff9100"/>
<rect x="156.59" y="109.95" width="7.08" height="13.90" fill="#ff4c00"/>
<rect x="163.07" y="109.95" width="7.08" height="13.90" fill="#ff4c00"/>
<rect x="169.55" y="109.95" width="7.08" height="13.90" fill="#ff6e00"/>
<rect x="176.03" y="109.95" width="7.08" height="13.90" fill="#ff6e00"/>
<rect x="182.51" y="109.95" width="7.08" height="13.90" fill="#ff6e00"/>
<rect x="188.99" y="109.95" width="7.08" height="13.90" fill="#ff4c00"/>
<rect x="195.47" y="109.95" width="7.08" height="13.90" fill="#ff4c00"/>
<rect x="201.95" y="109.95" width="7.08" height="13.90" fill="#ffb300"/>
<rect x="208.43" y="109.95" width="7.08" height="13.90" fill="#ff9100"/>
<rect x="214.92" y="109.95" width="7.08" height="13.90" fill="#ff6e00"/>
<rect x="221.40" y="109.95" width="7.08" height="13.90" fill="#ff9100"/>
<rect x="227.88" y="109.95" width="7.08" height="13.90" fill="#ff4c00"/>
<rect x="234.36" y="109.95" width="7.08" height="13.90" fill="#ff4c00"/>
<rect x="240.84" y="109.95" width="7.08" height="13.90" fill="#ff9100"/>
<rect x="247.32" y="109.95" width="7.08" height="13.90" fill="#ff9100"/>
<rect x="253.80" y="109.95" width="7.08" height="13.90" fill="#ff4c00"/>
<rect x="260.28" y="109.95" width="7.08" height="13.90" fill="#ff0800"/>
<rect x="266.76" y="109.95" width="2.74" height="13.90" fill="#ffb300"/>
<rect x="35.70" y="123.25" width="4.84" height="13.90" fill="#ffd500"/>
<rect x="39.94" y="123.25" width="7.08" height="13.90" fill="#ff4c00"/>
<rect x="46.42" y="123.25" width="7.08" height="13.90" fill="#ff9100"/>
<rect x="52.90" y="123.25" width="7.08" height="13.90" fill="#ff9100"/>
<rect x="59.38" y="123.25" width="7.08" height="13.90" fill="#ffd500"/>
<rect x="65.86" y="123.25" width="7.08" height="13.90" fill="#ffb300"/>
<rect x="72.34" y="123.25" width="7.08" height="13.90" fill="#ff9100"/>
<rect x="78.82" y="123.25" width="7.08" height="13.90" fill="#ff4c00"/>
<rect x="85.30" y="123.25" width="7.08" height="13.90" fill="#ff4c00"/>
<rect x="91.78" y="123.25" width="7.08" height="13.90" fill="#ff4c00"/>
<rect x="98.27" y="123.25" width="7.08" height="13.90" fill="#ff4c00"/>
<rect x="104.75" y="123.25" width="7.08" height="13.90" fill="#ff4c00"/>
<rect x="111.23" y="123.25" width="7.08" height="13.90" fill="#ff9100"/>
<rect x="117.71" y="123.25" width="7.08" height="13.90" fill="#ffb300"/>
<rect x="124.19" y="123.25" width="7.08" height="13.90" fill="#ff9100"/>
<rect x="130.67" y="123.25" width="7.08" height="13.90" fill="#ffd500"/>
<rect x="137.15" y="123.25" width="7.08" height="13.90" fill="#ff9100"/>
<rect x="143.63" y="123.25" width="7.08" height="13.90" fill="#ff6e00"/>
<rect x="150.11" y="123.25" width="7.08" height="13.90" fill="#ff6e00"/>
<rect x="156.59" y="123.25" width="7.08" height="13.90" fill="#ff9100"/>
<rect x="163.07" y="123.25" width="7.08" height="13.90" fill="#ffb300"/>
<rect x="169.55" y="123.25" width="7.08" height="13.90" fill="#ff9100"/>
<rect x="176.03" y="123.25" width="7.08" height="13.90" fill="#ff9100"/>
<rect x="182.51" y="123.25" width="7.08" height="13.90" fill="#ff9100"/>
<rect x="188.99" y="123.25" width="7.08" height="13.90" fill="#ff4c00"/>
<rect x="195.47" y="123.25" width="7.08" height="13.90" fill="#ff4c00"/>
<rect x="201.95" y="123.25" width="7.08" height="13.90" fill="#ff2a00"/>
<rect x="208.43" y="123.25" width="7.08" height="13.90" fill="#ff4c00"/>
<rect x="214.92" y="123.25" width="7.08" height="13.90" fill="#ff4c00"/>
<rect x="221.40" y="123.25" width="7.08" height="13.90" fill="#ff4c00"/>
<rect x="227.88" y="123.25" width="7.08" height="13.90" fill="#ff9100"/>
<rect x="234.36" y="123.25" width="7.08" height="13.90" fill="#ff9100"/>
<rect x="240.84" y="123.25" width="7.08" height="13.90" fill="#ff4c00"/>
<rect x="247.32" y="123.25" width="7.08" height="13.90" fill="#ffb300"/>
<rect x="253.80" y="123.25" width="7.08" height="13.90" fill="#ffb300"/>
<rect x="260.28" y="123.25" width="7.08" height="13.90" fill="#ff9100"/>
<rect x="266.76" y="123.25" width="2.74" height="13.90" fill="#fff700"/>
<rect x="35.70" y="136.55" width="4.84" height="13.90" fill="#ff4c00"/>
<rect x="39.94" y="136.55" width="7.08" height="13.90" fill="#ff9100"/>
<rect x="46.42" y="136.55" width="7.08" height="13.90" fill="#ff6e00"/>
<rect x="52.90" y="136.55" width="7.08" height="13.90" fill="#ff6e00"/>
<rect x="59.38" y="136.55" width="7.08" height="13.90" fill="#ff9100"/>
<rect x="65.86" y="136.55" width="7.08" height="13.90" fill="#ff9100"/>
<rect x="72.34" y="136.55" width="7.08" height="13.90" fill="#ff9100"/>
<rect x="78.82" y="136.55" width="7.08" height="13.90" fill="#ff4c00"/>
<rect x="85.30" y="136.55" width="7.08" height="13.90" fill="#ff4c00"/>
<rect x="91.78" y="136.55" width="7.08" height="13.90" fill="#ff0800"/>
<rect x="98.27" y="136.55" width="7.08" height="13.90" fill="#ff0800"/>
<rect x="104.75" y="136.55" width="7.08" height="13.90" fill="#ff2a00"/>
<rect x="111.23" y="136.55" width="7.08" height="13.90" fill="#ff0800"/>
<rect x="117.71" y="136.55" width="7.08" height="13.90" fill="#e50000"/>
<rect x="124.19" y="136.55" width="7.08" height="13.90" fill="#c30000"/>
<rect x="130.67" y="136.55" width="7.08" height="13.90" fill="#ff0800"/>
<rect x="137.15" y="136.55" width="7.08" height="13.90" fill="#ff2a00"/>
<rect x="143.63" y="136.55" width="7.08" height="13.90" fill="#ff6e00"/>
<rect x="150.11" y="136.55" width="7.08" height="13.90" fill="#ffb300"/>
<rect x="156.59" y="136.55" width="7.08" height="13.90" fill="#ffb300"/>
<rect x="163.07" y="136.55" width="7.08" height="13.90" fill="#ffd500"/>
<rect x="169.55" y="136.55" width="7.08" height="13.90" fill="#fff700"/>
<rect x="176.03" y="136.55" width="7.08" height="13.90" fill="#ff9100"/>
<rect x="182.51" y="136.55" width="7.08" height="13.90" fill="#ff4c00"/>
<rect x="188.99" y="136.55" width="7.08" height="13.90" fill="#ff4c00"/>
<rect x="195.47" y="136.55" width="7.08" height="13.90" fill="#ff0800"/>
<rect x="201.95" y="136.55" width="7.08" height="13.90" fill="#c30000"/>
<rect x="208.43" y="136.55" width="7.08" height="13.90" fill="#c30000"/>
<rect x="214.92" y="136.55" width="7.08" height="13.90" fill="#ff0800"/>
<rect x="221.40" y="136.55" width="7.08" height="13.90" fill="#ff0800"/>
<rect x="227.88" y="136.55" width="7.08" height="13.90" fill="#ff4c00"/>
<rect x="234.36" y="136.55" width="7.08" height="13.90" fill="#ff9100"/>
<rect x="240.84" y="136.55" width="7.08" height="13.90" fill="#ffd500"/>
<rect x="247.32" y="136.55" width="7.08" height="13.90" fill="#fff700"/>
<rect x="253.80" y="136.55" width="7.08" height="13.90" fill="#ffb300"/>
<rect x="260.28" y="136.55" width="7.08" height="13.90" fill="#ff0800"/>
<rect x="266.76" y="136.55" width="2.74" height="13.90" fill="#ff0800"/>
<rect x="35.70" y="149.85" width="4.84" height="13.90" fill="#fff700"/>
<rect x="39.94" y="149.85" width="7.08" height="13.90" fill="#ff4c00"/>
<rect x="46.42" y="149.85" width="7.08" height="13.90" fill="#ff4c00"/>
<rect x="52.90" y="149.85" width="7.08" height="13.90" fill="#ff0800"/>
<rect x="59.38" y="149.85" width="7.08" height="13.90" fill="#ff0800"/>
<rect x="65.86" y="149.85" width="7.08" height="13.90" fill="#ff4c00"/>
<rect x="72.34" y="149.85" width="7.08" height="13.90" fill="#ff4c00"/>
<rect x="78.82" y="149.85" width="7.08" height="13.90" fill="#ff9100"/>
<rect x="85.30" y="149.85" width="7.08" height="13.90" fill="#ff6e00"/>
<rect x="91.78" y="149.85" width="7.08" height="13.90" fill="#ff4c00"/>
<rect x="98.27" y="149.85" width="7.08" height="13.90" fill="#ff4c00"/>
<rect x="104.75" y="149.85" width="7.08" height="13.90" fill="#ff4c00"/>
<rect x="111.23" y="149.85" width="7.08" height="13.90" fill="#ff0800"/>
<rect x="117.71" y="149.85" width="7.08" height="13.90" fill="#ff9100"/>
<rect x="124.19" y="149.85" width="7.08" height="13.90" fill="#ffb300"/>
<rect x="130.67" y="149.85" width="7.08" height="13.90" fill="#ff4c00"/>
<rect x="137.15" y="149.85" width="7.08" height="13.90" fill="#ff4c00"/>
<rect x="143.63" y="149.85" width="7.08" height="13.90" fill="#ff6e00"/>
<rect x="150.11" y="149.85" width="7.08" height="13.90" fill="#ff9100"/>
<rect x="156.59" y="149.85" width="7.08" height="13.90" fill="#ff9100"/>
<rect x="163.07" y="149.85" width="7.08" height="13.90" fill="#ff9100"/>
<rect x="169.55" y="149.85" width="7.08" height="13.90" fill="#ff9100"/>
<rect x="176.03" y="149.85" width="7.08" height="13.90" fill="#ffb300"/>
<rect x="182.51" y="149.85" width="7.08" height="13.90" fill="#ffb300"/>
<rect x="188.99" y="149.85" width="7.08" height="13.90" fill="#ffd500"/>
<rect x="195.47" y="149.85" width="7.08" height="13.90" fill="#e5ff1a"/>
<rect x="201.95" y="149.85" width="7.08" height="13.90" fill="#ffd500"/>
<rect x="208.43" y="149.85" width="7.08" height="13.90" fill="#ffd500"/>
<rect x="214.92" y="149.85" width="7.08" height="13.90" fill="#fff700"/>
<rect x="221.40" y="149.85" width="7.08" height="13.90" fill="#fff700"/>
<rect x="227.88" y="149.85" width="7.08" height="13.90" fill="#ff9100"/>
<rect x="234.36" y="149.85" width="7.08" height="13.90" fill="#ffb300"/>
<rect x="240.84" y="149.85" width="7.08" height="13.90" fill="#ff9100"/>
<rect x="247.32" y="149.85" width="7.08" height="13.90" fill="#ff9100"/>
<rect x="253.80" y="149.85" width="7.08" height="13.90" fill="#ff9100"/>
<rect x="260.28" y="149.85" width="7.08" height="13.90" fill="#ff4c00"/>
<rect x="266.76" y="149.85" width="2.74" height="13.90" fill="#fff700"/>
<rect x="35.70" y="163.15" width="4.84" height="13.90" fill="#ffb300"/>
<rect x="39.94" y="163.15" width="7.08" height="13.90" fill="#ff4c00"/>
<rect x="46.42" y="163.15" width="7.08" height="13.90" fill="#ff6e00"/>
<rect x="52.90" y="163.15" width="7.08" height="13.90" fill="#ff9100"/>
<rect x="59.38" y="163.15" width="7.08" height="13.90" fill="#ff6e00"/>
<rect x="65.86" y="163.15" width="7.08" height="13.90" fill="#ff0800"/>
<rect x="72.34" y="163.15" width="7.08" height="13.90" fill="#ff4c00"/>
<rect x="78.82" y="163.15" width="7.08" height="13.90" fill="#ff4c00"/>
<rect x="85.30" y="163.15" width="7.08" height="13.90" fill="#ff9100"/>
<rect x="91.78" y="163.15" width="7.08" height="13.90" fill="#ffd500"/>
<rect x="98.27" y="163.15" width="7.08" height="13.90" fill="#fff700"/>
<rect x="104.75" y="163.15" width="7.08" height="13.90" fill="#ffd500"/>
<rect x="111.23" y="163.15" width="7.08" height="13.90" fill="#ffd500"/>
<rect x="117.71" y="163.15" width="7.08" height="13.90" fill="#ffd500"/>
<rect x="124.19" y="163.15" width="7.08" height="13.90" fill="#ffd500"/>
<rect x="130.67" y="163.15" width="7.08" height="13.90" fill="#c3ff3c"/>
<rect x="137.15" y="163.15" width="7.08" height="13.90" fill="#a2ff5e"/>
<rect x="143.63" y="163.15" width="7.08" height="13.90" fill="#e5ff1a"/>
<rect x="150.11" y="163.15" width="7.08" height="13.90" fill="#e5ff1a"/>
<rect x="156.59" y="163.15" width="7.08" height="13.90" fill="#fff700"/>
<rect x="163.07" y="163.15" width="7.08" height="13.90" fill="#ffd500"/>
<rect x="169.55" y="163.15" width="7.08" height="13.90" fill="#ffb300"/>
<rect x="176.03" y="163.15" width="7.08" height="13.90" fill="#fff700"/>
<rect x="182.51" y="163.15" width="7.08" height="13.90" fill="#fff700"/>
<rect x="188.99" y="163.15" width="7.08" height="13.90" fill="#e5ff1a"/>
<rect x="195.47" y="163.15" width="7.08" height="13.90" fill="#e5ff1a"/>
<rect x="201.95" y="163.15" width="7.08" height="13.90" fill="#a2ff5e"/>
<rect x="208.43" y="163.15" width="7.08" height="13.90" fill="#a2ff5e"/>
<rect x="214.92" y="163.15" width="7.08" height="13.90" fill="#c3ff3c"/>
<rect x="221.40" y="163.15" width="7.08" height="13.90" fill="#e5ff1a"/>
<rect x="227.88" y="163.15" width="7.08" height="13.90" fill="#e5ff1a"/>
<rect x="234.36" y="163.15" width="7.08" height="13.90" fill="#fff700"/>
<rect x="240.84" y="163.15" width="7.08" height="13.90" fill="#ffb300"/>
<rect x="247.32" y="163.15" width="7.08" height="13.90" fill="#ff6e00"/>
<rect x="253.80" y="163.15" width="7.08" height="13.90" fill="#ff9100"/>
<rect x="260.28" y="163.15" width="7.08" height="13.90" fill="#ff4c00"/>
<rect x="266.76" y="163.15" width="2.74" height="13.90" fill="#ff6e00"/>
<rect x="35.70" y="176.45" width="4.84" height="13.90" fill="#0090ff"/>
<rect x="39.94" y="176.45" width="7.08" height="13.90" fill="#5effa2"/>
<rect x="46.42" y="176.45" width="7.08" height="13.90" fill="#c3ff3c"/>
<rect x="52.90" y="176.45" width="7.08" height="13.90" fill="#e5ff1a"/>
<rect x="59.38" y="176.45" width="7.08" height="13.90" fill="#c3ff3c"/>
<rect x="65.86" y="176.45" width="7.08" height="13.90" fill="#a2ff5e"/>
<rect x="72.34" y="176.45" width="7.08" height="13.90" fill="#a2ff5e"/>
<rect x="78.82" y="176.45" width="7.08" height="13.90" fill="#a2ff5e"/>
<rect x="85.30" y="176.45" width="7.08" height="13.90" fill="#a2ff5e"/>
<rect x="91.78" y="176.45" width="7.08" height="13.90" fill="#80ff80"/>
<rect x="98.27" y="176.45" width="7.08" height="13.90" fill="#80ff80"/>
<rect x="104.75" y="176.45" width="7.08" height="13.90" fill="#3cffc3"/>
<rect x="111.23" y="176.45" width="7.08" height="13.90" fill="#3cffc3"/>
<rect x="117.71" y="176.45" width="7.08" height="13.90" fill="#5effa2"/>
<rect x="124.19" y="176.45" width="7.08" height="13.90" fill="#e5ff1a"/>
<rect x="130.67" y="176.45" width="7.08" height="13.90" fill="#e5ff1a"/>
<rect x="137.15" y="176.45" width="7.08" height="13.90" fill="#c3ff3c"/>
<rect x="143.63" y="176.45" width="7.08" height="13.90" fill="#c3ff3c"/>
<rect x="150.11" y="176.45" width="7.08" height="13.90" fill="#a2ff5e"/>
<rect x="156.59" y="176.45" width="7.08" height="13.90" fill="#3cffc3"/>
<rect x="163.07" y="176.45" width="7.08" height="13.90" fill="#1affe5"/>
<rect x="169.55" y="176.45" width="7.08" height="13.90" fill="#00d4ff"/>
<rect x="176.03" y="176.45" width="7.08" height="13.90" fill="#1affe5"/>
<rect x="182.51" y="176.45" width="7.08" height="13.90" fill="#a2ff5e"/>
<rect x="188.99" y="176.45" width="7.08" height="13.90" fill="#e5ff1a"/>
<rect x="195.47" y="176.45" width="7.08" height="13.90" fill="#fff700"/>
<rect x="201.95" y="176.45" width="7.08" height="13.90" fill="#e5ff1a"/>
<rect x="208.43" y="176.45" width="7.08" height="13.90" fill="#e5ff1a"/>
<rect x="214.92" y="176.45" width="7.08" height="13.90" fill="#e5ff1a"/>
<rect x="221.40" y="176.45" width="7.08" height="13.90" fill="#a2ff5e"/>
<rect x="227.88" y="176.45" width="7.08" height="13.90" fill="#80ff80"/>
<rect x="234.36" y="176.45" width="7.08" height="13.90" fill="#5effa2"/>
<rect x="240.84" y="176.45" width="7.08" height="13.90" fill="#00f6ff"/>
<rect x="247.32" y="176.45" width="7.08" height="13.90" fill="#006eff"/>
<rect x="253.80" y="176.45" width="7.08" height="13.90" fill="#006eff"/>
<rect x="260.28" y="176.45" width="7.08" height="13.90" fill="#00d4ff"/>
<rect x="266.76" y="176.45" width="2.74" height="13.90" fill="#0052ff"/>
<rect x="35.70" y="189.75" width="4.84" height="13.30" fill="#002aff"/>
<rect x="39.94" y="189.75" width="7.08" height="13.30" fill="#00b2ff"/>
<rect x="46.42" y="189.75" width="7.08" height="13.30" fill="#0090ff"/>
<rect x="52.90" y="189.75" width="7.08" height="13.30" fill="#0090ff"/>
<rect x="59.38" y="189.75" width="7.08" height="13.30" fill="#0090ff"/>
<rect x="65.86" y="189.75" width="7.08" height="13.30" fill="#00d4ff"/>
<rect x="72.34" y="189.75" width="7.08" height="13.90" fill="#00f6ff"/>
<rect x="78.82" y="189.75" width="7.08" height="13.90" fill="#00f6ff"/>
<rect x="85.30" y="189.75" width="7.08" height="13.90" fill="#00f6ff"/>
<rect x="91.78" y="189.75" width="7.08" height="13.90" fill="#00f6ff"/>
<rect x="98.27" y="189.75" width="7.08" height="13.90" fill="#00f6ff"/>
<rect x="104.75" y="189.75" width="7.08" height="13.90" fill="#1affe5"/>
<rect x="111.23" y="189.75" width="7.08" height="13.90" fill="#3cffc3"/>
<rect x="117.71" y="189.75" width="7.08" height="13.90" fill="#a2ff5e"/>
<rect x="124.19" y="189.75" width="7.08" height="13.30" fill="#a2ff5e"/>
<rect x="130.67" y="189.75" width="7.08" height="13.30" fill="#a2ff5e"/>
<rect x="137.15" y="189.75" width="7.08" height="13.30" fill="#80ff80"/>
<rect x="143.63" y="189.75" width="7.08" height="13.30" fill="#00f6ff"/>
<rect x="150.11" y="189.75" width="7.08" height="13.90" fill="#00b2ff"/>
<rect x="156.59" y="189.75" width="7.08" height="13.90" fill="#00d4ff"/>
<rect x="163.07" y="189.75" width="7.08" height="13.90" fill="#00d4ff"/>
<rect x="169.55" y="189.75" width="7.08" height="13.90" fill="#00b2ff"/>
<rect x="176.03" y="189.75" width="7.08" height="13.90" fill="#00d4ff"/>
<rect x="182.51" y="189.75" width="7.08" height="13.90" fill="#00d4ff"/>
<rect x="188.99" y="189.75" width="7.08" height="13.30" fill="#00d4ff"/>
<rect x="195.47" y="189.75" width="7.08" height="13.30" fill="#3cffc3"/>
<rect x="201.95" y="189.75" width="7.08" height="13.30" fill="#c3ff3c"/>
<rect x="208.43" y="189.75" width="7.08" height="13.30" fill="#c3ff3c"/>
<rect x="214.92" y="189.75" width="7.08" height="13.90" fill="#a2ff5e"/>
<rect x="221.40" y="189.75" width="7.08" height="13.90" fill="#80ff80"/>
<rect x="227.88" y="189.75" width="7.08" height="13.90" fill="#3cffc3"/>
<rect x="234.36" y="189.75" width="7.08" height="13.90" fill="#1affe5"/>
<rect x="240.84" y="189.75" width="7.08" height="13.90" fill="#00d4ff"/>
<rect x="247.32" y="189.75" width="7.08" height="13.90" fill="#00d4ff"/>
<rect x="253.80" y="189.75" width="7.08" height="13.90" fill="#00b2ff"/>
<rect x="260.28" y="189.75" width="7.08" height="13.90" fill="#00d4ff"/>
<rect x="266.76" y="189.75" width="2.74" height="13.30" fill="#0052ff"/>
<rect x="72.34" y="203.05" width="7.08" height="13.30" fill="#000080"/>
<rect x="78.82" y="203.05" width="7.08" height="13.30" fill="#001aff"/>
<rect x="85.30" y="203.05" width="7.08" height="13.30" fill="#0052ff"/>
<rect x="91.78" y="203.05" width="7.08" height="13.30" fill="#0090ff"/>
<rect x="98.27" y="203.05" width="7.08" height="13.30" fill="#0090ff"/>
<rect x="104.75" y="203.05" width="7.08" height="13.30" fill="#0090ff"/>
<rect x="111.23" y="203.05" width="7.08" height="13.30" fill="#006eff"/>
<rect x="117.71" y="203.05" width="6.48" height="13.30" fill="#001aff"/>
<rect x="150.11" y="203.05" width="7.08" height="13.30" fill="#001aff"/>
<rect x="156.59" y="203.05" width="7.08" height="13.30" fill="#0052ff"/>
<rect x="163.07" y="203.05" width="7.08" height="13.30" fill="#0090ff"/>
<rect x="169.55" y="203.05" width="7.08" height="13.30" fill="#00d4ff"/>
<rect x="176.03" y="203.05" width="7.08" height="13.30" fill="#0090ff"/>
<rect x="182.51" y="203.05" width="6.48" height="13.30" fill="#001aff"/>
<rect x="214.92" y="203.05" width="7.08" height="13.30" fill="#001aff"/>
<rect x="221.40" y="203.05" width="7.08" height="13.30" fill="#00b2ff"/>
<rect x="227.88" y="203.05" width="7.08" height="13.30" fill="#00f6ff"/>
<rect x="234.36" y="203.05" width="7.08" height="13.30" fill="#00f6ff"/>
<rect x="240.84" y="203.05" width="7.08" height="13.30" fill="#00d4ff"/>
<rect x="247.32" y="203.05" width="7.08" height="13.30" fill="#00d4ff"/>
<rect x="253.80" y="203.05" width="7.08" height="13.30" fill="#0090ff"/>
<rect x="260.28" y="203.05" width="6.48" height="13.30" fill="#001aff"/>
</g>
<text x="36.90" y="235.50" font-size="11.50" text-anchor="middle" font-weight="normal" fill="#000" stroke="#000" stroke-width="0.30" >-180</text>
<text x="65.16" y="235.50" font-size="11.50" text-anchor="middle" font-weight="normal" fill="#000" stroke="#000" stroke-width="0.30" >-135</text>
<text x="93.88" y="235.50" font-size="11.50" text-anchor="middle" font-weight="normal" fill="#000" stroke="#000" stroke-width="0.30" >-90</text>
<text x="122.19" y="235.50" font-size="11.50" text-anchor="middle" font-weight="normal" fill="#000" stroke="#000" stroke-width="0.30" >-45</text>
<text x="152.85" y="235.50" font-size="11.50" text-anchor="middle" font-weight="normal" fill="#000" stroke="#000" stroke-width="0.30" >0</text>
<text x="182.11" y="235.50" font-size="11.50" text-anchor="middle" font-weight="normal" fill="#000" stroke="#000" stroke-width="0.30" >45</text>
<text x="210.88" y="235.50" font-size="11.50" text-anchor="middle" font-weight="normal" fill="#000" stroke="#000" stroke-width="0.30" >90</text>
<text x="240.94" y="235.50" font-size="11.50" text-anchor="middle" font-weight="normal" fill="#000" stroke="#000" stroke-width="0.30" >135</text>
<text x="267.50" y="235.50" font-size="11.50" text-anchor="middle" font-weight="normal" fill="#000" stroke="#000" stroke-width="0.30" >180</text>
<text x="30.40" y="225.60" font-size="11.20" text-anchor="end" font-weight="normal" fill="#000" stroke="#000" stroke-width="0.30" >-30</text>
<text x="30.40" y="193.45" font-size="11.20" text-anchor="end" font-weight="normal" fill="#000" stroke="#000" stroke-width="0.30" >-20</text>
<text x="30.40" y="160.20" font-size="11.20" text-anchor="end" font-weight="normal" fill="#000" stroke="#000" stroke-width="0.30" >-10</text>
<text x="30.40" y="126.95" font-size="11.20" text-anchor="end" font-weight="normal" fill="#000" stroke="#000" stroke-width="0.30" >0</text>
<text x="30.40" y="93.70" font-size="11.20" text-anchor="end" font-weight="normal" fill="#000" stroke="#000" stroke-width="0.30" >10</text>
<text x="30.40" y="60.45" font-size="11.20" text-anchor="end" font-weight="normal" fill="#000" stroke="#000" stroke-width="0.30" >20</text>
<text x="30.40" y="32.00" font-size="11.20" text-anchor="end" font-weight="normal" fill="#000" stroke="#000" stroke-width="0.30" >30</text>
<text x="83.80" y="12.90" font-size="17.40" text-anchor="start" font-weight="bold" fill="#000" stroke="#000" stroke-width="0.20" >Number of Samples</text>
<text x="152.85" y="250.30" font-size="14.40" text-anchor="middle" font-weight="bold" fill="#000" stroke="#000" stroke-width="0.20" >Longitude (°)</text>
<text x="0.00" y="0.00" font-size="14.60" text-anchor="middle" font-weight="bold" fill="#000" stroke="#000" stroke-width="0.20" transform="translate(11.00,122.75) rotate(-90)">Latitude (°)</text>
<line x1="35.60" y1="266.20" x2="269.50" y2="266.20" stroke="#ff0000" stroke-width="1.00"/>
<line x1="35.60" y1="266.20" x2="35.60" y2="261.20" stroke="#ff0000" stroke-width="0.90"/>
<line x1="40.47" y1="266.20" x2="40.47" y2="263.40" stroke="#ff0000" stroke-width="0.90"/>
<line x1="45.35" y1="266.20" x2="45.35" y2="263.40" stroke="#ff0000" stroke-width="0.90"/>
<line x1="50.22" y1="266.20" x2="50.22" y2="263.40" stroke="#ff0000" stroke-width="0.90"/>
<line x1="55.09" y1="266.20" x2="55.09" y2="263.40" stroke="#ff0000" stroke-width="0.90"/>
<line x1="59.96" y1="266.20" x2="59.96" y2="263.40" stroke="#ff0000" stroke-width="0.90"/>
<line x1="64.84" y1="266.20" x2="64.84" y2="261.20" stroke="#ff0000" stroke-width="0.90"/>
<line x1="69.71" y1="266.20" x2="69.71" y2="263.40" stroke="#ff0000" stroke-width="0.90"/>
<line x1="74.58" y1="266.20" x2="74.58" y2="263.40" stroke="#ff0000" stroke-width="0.90"/>
<line x1="79.46" y1="266.20" x2="79.46" y2="263.40" stroke="#ff0000" stroke-width="0.90"/>
<line x1="84.33" y1="266.20" x2="84.33" y2="263.40" stroke="#ff0000" stroke-width="0.90"/>
<line x1="89.20" y1="266.20" x2="89.20" y2="263.40" stroke="#ff0000" stroke-width="0.90"/>
<line x1="94.08" y1="266.20" x2="94.08" y2="261.20" stroke="#ff0000" stroke-width="0.90"/>
<line x1="98.95" y1="266.20" x2="98.95" y2="263.40" stroke="#ff0000" stroke-width="0.90"/>
<line x1="103.82" y1="266.20" x2="103.82" y2="263.40" stroke="#ff0000" stroke-width="0.90"/>
<line x1="108.69" y1="266.20" x2="108.69" y2="263.40" stroke="#ff0000" stroke-width="0.90"/>
<line x1="113.57" y1="266.20" x2="113.57" y2="263.40" stroke="#ff0000" stroke-width="0.90"/>
<line x1="118.44" y1="266.20" x2="118.44" y2="263.40" stroke="#ff0000" stroke-width="0.90"/>
<line x1="123.31" y1="266.20" x2="123.31" y2="261.20" stroke="#ff0000" stroke-width="0.90"/>
<line x1="128.19" y1="266.20" x2="128.19" y2="263.40" stroke="#ff0000" stroke-width="0.90"/>
<line x1="133.06" y1="266.20" x2="133.06" y2="263.40" stroke="#ff0000" stroke-width="0.90"/>
<line x1="137.93" y1="266.20" x2="137.93" y2="263.40" stroke="#ff0000" stroke-width="0.90"/>
<line x1="142.80" y1="266.20" x2="142.80" y2="263.40" stroke="#ff0000" stroke-width="0.90"/>
<line x1="147.68" y1="266.20" x2="147.68" y2="263.40" stroke="#ff0000" stroke-width="0.90"/>
<line x1="152.55" y1="266.20" x2="152.55" y2="261.20" stroke="#ff0000" stroke-width="0.90"/>
<line x1="157.42" y1="266.20" x2="157.42" y2="263.40" stroke="#ff0000" stroke-width="0.90"/>
<line x1="162.30" y1="266.20" x2="162.30" y2="263.40" stroke="#ff0000" stroke-width="0.90"/>
<line x1="167.17" y1="266.20" x2="167.17" y2="263.40" stroke="#ff0000" stroke-width="0.90"/>
<line x1="172.04" y1="266.20" x2="172.04" y2="263.40" stroke="#ff0000" stroke-width="0.90"/>
<line x1="176.91" y1="266.20" x2="176.91" y2="263.40" stroke="#ff0000" stroke-width="0.90"/>
<line x1="181.79" y1="266.20" x2="181.79" y2="261.20" stroke="#ff0000" stroke-width="0.90"/>
<line x1="186.66" y1="266.20" x2="186.66" y2="263.40" stroke="#ff0000" stroke-width="0.90"/>
<line x1="191.53" y1="266.20" x2="191.53" y2="263.40" stroke="#ff0000" stroke-width="0.90"/>
<line x1="196.41" y1="266.20" x2="196.41" y2="263.40" stroke="#ff0000" stroke-width="0.90"/>
<line x1="201.28" y1="266.20" x2="201.28" y2="263.40" stroke="#ff0000" stroke-width="0.90"/>
<line x1="206.15" y1="266.20" x2="206.15" y2="263.40" stroke="#ff0000" stroke-width="0.90"/>
<line x1="211.02" y1="266.20" x2="211.02" y2="261.20" stroke="#ff0000" stroke-width="0.90"/>
<line x1="215.90" y1="266.20" x2="215.90" y2="263.40" stroke="#ff0000" stroke-width="0.90"/>
<line x1="220.77" y1="266.20" x2="220.77" y2="263.40" stroke="#ff0000" stroke-width="0.90"/>
<line x1="225.64" y1="266.20" x2="225.64" y2="263.40" stroke="#ff0000" stroke-width="0.90"/>
<line x1="230.52" y1="266.20" x2="230.52" y2="263.40" stroke="#ff0000" stroke-width="0.90"/>
<line x1="235.39" y1="266.20" x2="235.39" y2="263.40" stroke="#ff0000" stroke-width="0.90"/>
<line x1="240.26" y1="266.20" x2="240.26" y2="261.20" stroke="#ff0000" stroke-width="0.90"/>
<line x1="245.14" y1="266.20" x2="245.14" y2="263.40" stroke="#ff0000" stroke-width="0.90"/>
<line x1="250.01" y1="266.20" x2="250.01" y2="263.40" stroke="#ff0000" stroke-width="0.90"/>
<line x1="254.88" y1="266.20" x2="254.88" y2="263.40" stroke="#ff0000" stroke-width="0.90"/>
<line x1="259.75" y1="266.20" x2="259.75" y2="263.40" stroke="#ff0000" stroke-width="0.90"/>
<line x1="264.63" y1="266.20" x2="264.63" y2="263.40" stroke="#ff0000" stroke-width="0.90"/>
<line x1="269.50" y1="266.20" x2="269.50" y2="261.20" stroke="#ff0000" stroke-width="0.90"/>
<text x="35.80" y="277.90" font-size="11.40" text-anchor="middle" font-weight="normal" fill="#ff0000" stroke="#ff0000" stroke-width="0.30" >00</text>
<text x="65.04" y="277.90" font-size="11.40" text-anchor="middle" font-weight="normal" fill="#ff0000" stroke="#ff0000" stroke-width="0.30" >03</text>
<text x="94.28" y="277.90" font-size="11.40" text-anchor="middle" font-weight="normal" fill="#ff0000" stroke="#ff0000" stroke-width="0.30" >06</text>
<text x="123.51" y="277.90" font-size="11.40" text-anchor="middle" font-weight="normal" fill="#ff0000" stroke="#ff0000" stroke-width="0.30" >09</text>
<text x="152.75" y="277.90" font-size="11.40" text-anchor="middle" font-weight="normal" fill="#ff0000" stroke="#ff0000" stroke-width="0.30" >12</text>
<text x="181.99" y="277.90" font-size="11.40" text-anchor="middle" font-weight="normal" fill="#ff0000" stroke="#ff0000" stroke-width="0.30" >15</text>
<text x="211.22" y="277.90" font-size="11.40" text-anchor="middle" font-weight="normal" fill="#ff0000" stroke="#ff0000" stroke-width="0.30" >18</text>
<text x="240.46" y="277.90" font-size="11.40" text-anchor="middle" font-weight="normal" fill="#ff0000" stroke="#ff0000" stroke-width="0.30" >21</text>
<text x="269.70" y="277.90" font-size="11.40" text-anchor="middle" font-weight="normal" fill="#ff0000" stroke="#ff0000" stroke-width="0.30" >24</text>
<text x="152.85" y="291.00" font-size="14.40" text-anchor="middle" font-weight="bold" fill="#ff0000" stroke="#ff0000" stroke-width="0.20" >Local Time (h)</text>
<text x="252.90" y="41.00" font-size="11.00" text-anchor="middle" font-weight="normal" fill="#000" stroke="#000" stroke-width="0.30" >(a)</text>
<rect x="279.60" y="23.40" width="12.60" height="200.00" fill="url(#jetg)"/>
<line x1="292.20" y1="197.21" x2="287.90" y2="197.21" stroke="#000" stroke-width="1.20"/>
<line x1="292.20" y1="181.89" x2="287.90" y2="181.89" stroke="#000" stroke-width="1.20"/>
<line x1="292.20" y1="171.02" x2="287.90" y2="171.02" stroke="#000" stroke-width="1.20"/>
<line x1="292.20" y1="162.59" x2="287.90" y2="162.59" stroke="#000" stroke-width="1.20"/>
<line x1="292.20" y1="155.70" x2="287.90" y2="155.70" stroke="#000" stroke-width="1.20"/>
<line x1="292.20" y1="149.88" x2="287.90" y2="149.88" stroke="#000" stroke-width="1.20"/>
<line x1="292.20" y1="144.83" x2="287.90" y2="144.83" stroke="#000" stroke-width="1.20"/>
<line x1="292.20" y1="140.38" x2="287.90" y2="140.38" stroke="#000" stroke-width="1.20"/>
<line x1="292.20" y1="136.40" x2="286.00" y2="136.40" stroke="#000" stroke-width="1.20"/>
<line x1="292.20" y1="110.21" x2="287.90" y2="110.21" stroke="#000" stroke-width="1.20"/>
<line x1="292.20" y1="94.89" x2="287.90" y2="94.89" stroke="#000" stroke-width="1.20"/>
<line x1="292.20" y1="84.02" x2="287.90" y2="84.02" stroke="#000" stroke-width="1.20"/>
<line x1="292.20" y1="75.59" x2="287.90" y2="75.59" stroke="#000" stroke-width="1.20"/>
<line x1="292.20" y1="68.70" x2="287.90" y2="68.70" stroke="#000" stroke-width="1.20"/>
<line x1="292.20" y1="62.88" x2="287.90" y2="62.88" stroke="#000" stroke-width="1.20"/>
<line x1="292.20" y1="57.83" x2="287.90" y2="57.83" stroke="#000" stroke-width="1.20"/>
<line x1="292.20" y1="53.38" x2="287.90" y2="53.38" stroke="#000" stroke-width="1.20"/>
<line x1="292.20" y1="49.40" x2="286.00" y2="49.40" stroke="#000" stroke-width="1.20"/>
<rect x="279.60" y="23.40" width="12.60" height="200.00" fill="none" stroke="#000" stroke-width="1.0"/>
<text x="295.80" y="226.05" font-size="11.4" fill="#000" stroke="#000" stroke-width="0.3">10<tspan font-size="9.3" dy="-5.3">2</tspan></text>
<text x="295.80" y="141.05" font-size="11.4" fill="#000" stroke="#000" stroke-width="0.3">10<tspan font-size="9.3" dy="-5.3">3</tspan></text>
<text x="295.80" y="54.05" font-size="11.4" fill="#000" stroke="#000" stroke-width="0.3">10<tspan font-size="9.3" dy="-5.3">4</tspan></text>
<line x1="360.40" y1="223.00" x2="360.40" y2="217.60" stroke="#000" stroke-width="1.00"/>
<line x1="360.40" y1="23.50" x2="360.40" y2="28.90" stroke="#000" stroke-width="1.00"/>
<line x1="363.64" y1="223.00" x2="363.64" y2="219.80" stroke="#000" stroke-width="1.00"/>
<line x1="363.64" y1="23.50" x2="363.64" y2="26.70" stroke="#000" stroke-width="1.00"/>
<line x1="366.88" y1="223.00" x2="366.88" y2="219.80" stroke="#000" stroke-width="1.00"/>
<line x1="366.88" y1="23.50" x2="366.88" y2="26.70" stroke="#000" stroke-width="1.00"/>
<line x1="370.12" y1="223.00" x2="370.12" y2="219.80" stroke="#000" stroke-width="1.00"/>
<line x1="370.12" y1="23.50" x2="370.12" y2="26.70" stroke="#000" stroke-width="1.00"/>
<line x1="373.36" y1="223.00" x2="373.36" y2="219.80" stroke="#000" stroke-width="1.00"/>
<line x1="373.36" y1="23.50" x2="373.36" y2="26.70" stroke="#000" stroke-width="1.00"/>
<line x1="376.59" y1="223.00" x2="376.59" y2="219.80" stroke="#000" stroke-width="1.00"/>
<line x1="376.59" y1="23.50" x2="376.59" y2="26.70" stroke="#000" stroke-width="1.00"/>
<line x1="379.83" y1="223.00" x2="379.83" y2="219.80" stroke="#000" stroke-width="1.00"/>
<line x1="379.83" y1="23.50" x2="379.83" y2="26.70" stroke="#000" stroke-width="1.00"/>
<line x1="383.07" y1="223.00" x2="383.07" y2="219.80" stroke="#000" stroke-width="1.00"/>
<line x1="383.07" y1="23.50" x2="383.07" y2="26.70" stroke="#000" stroke-width="1.00"/>
<line x1="386.31" y1="223.00" x2="386.31" y2="219.80" stroke="#000" stroke-width="1.00"/>
<line x1="386.31" y1="23.50" x2="386.31" y2="26.70" stroke="#000" stroke-width="1.00"/>
<line x1="389.55" y1="223.00" x2="389.55" y2="217.60" stroke="#000" stroke-width="1.00"/>
<line x1="389.55" y1="23.50" x2="389.55" y2="28.90" stroke="#000" stroke-width="1.00"/>
<line x1="392.79" y1="223.00" x2="392.79" y2="219.80" stroke="#000" stroke-width="1.00"/>
<line x1="392.79" y1="23.50" x2="392.79" y2="26.70" stroke="#000" stroke-width="1.00"/>
<line x1="396.03" y1="223.00" x2="396.03" y2="219.80" stroke="#000" stroke-width="1.00"/>
<line x1="396.03" y1="23.50" x2="396.03" y2="26.70" stroke="#000" stroke-width="1.00"/>
<line x1="399.27" y1="223.00" x2="399.27" y2="219.80" stroke="#000" stroke-width="1.00"/>
<line x1="399.27" y1="23.50" x2="399.27" y2="26.70" stroke="#000" stroke-width="1.00"/>
<line x1="402.51" y1="223.00" x2="402.51" y2="219.80" stroke="#000" stroke-width="1.00"/>
<line x1="402.51" y1="23.50" x2="402.51" y2="26.70" stroke="#000" stroke-width="1.00"/>
<line x1="405.74" y1="223.00" x2="405.74" y2="219.80" stroke="#000" stroke-width="1.00"/>
<line x1="405.74" y1="23.50" x2="405.74" y2="26.70" stroke="#000" stroke-width="1.00"/>
<line x1="408.98" y1="223.00" x2="408.98" y2="219.80" stroke="#000" stroke-width="1.00"/>
<line x1="408.98" y1="23.50" x2="408.98" y2="26.70" stroke="#000" stroke-width="1.00"/>
<line x1="412.22" y1="223.00" x2="412.22" y2="219.80" stroke="#000" stroke-width="1.00"/>
<line x1="412.22" y1="23.50" x2="412.22" y2="26.70" stroke="#000" stroke-width="1.00"/>
<line x1="415.46" y1="223.00" x2="415.46" y2="219.80" stroke="#000" stroke-width="1.00"/>
<line x1="415.46" y1="23.50" x2="415.46" y2="26.70" stroke="#000" stroke-width="1.00"/>
<line x1="418.70" y1="223.00" x2="418.70" y2="217.60" stroke="#000" stroke-width="1.00"/>
<line x1="418.70" y1="23.50" x2="418.70" y2="28.90" stroke="#000" stroke-width="1.00"/>
<line x1="421.94" y1="223.00" x2="421.94" y2="219.80" stroke="#000" stroke-width="1.00"/>
<line x1="421.94" y1="23.50" x2="421.94" y2="26.70" stroke="#000" stroke-width="1.00"/>
<line x1="425.18" y1="223.00" x2="425.18" y2="219.80" stroke="#000" stroke-width="1.00"/>
<line x1="425.18" y1="23.50" x2="425.18" y2="26.70" stroke="#000" stroke-width="1.00"/>
<line x1="428.42" y1="223.00" x2="428.42" y2="219.80" stroke="#000" stroke-width="1.00"/>
<line x1="428.42" y1="23.50" x2="428.42" y2="26.70" stroke="#000" stroke-width="1.00"/>
<line x1="431.66" y1="223.00" x2="431.66" y2="219.80" stroke="#000" stroke-width="1.00"/>
<line x1="431.66" y1="23.50" x2="431.66" y2="26.70" stroke="#000" stroke-width="1.00"/>
<line x1="434.89" y1="223.00" x2="434.89" y2="219.80" stroke="#000" stroke-width="1.00"/>
<line x1="434.89" y1="23.50" x2="434.89" y2="26.70" stroke="#000" stroke-width="1.00"/>
<line x1="438.13" y1="223.00" x2="438.13" y2="219.80" stroke="#000" stroke-width="1.00"/>
<line x1="438.13" y1="23.50" x2="438.13" y2="26.70" stroke="#000" stroke-width="1.00"/>
<line x1="441.37" y1="223.00" x2="441.37" y2="219.80" stroke="#000" stroke-width="1.00"/>
<line x1="441.37" y1="23.50" x2="441.37" y2="26.70" stroke="#000" stroke-width="1.00"/>
<line x1="444.61" y1="223.00" x2="444.61" y2="219.80" stroke="#000" stroke-width="1.00"/>
<line x1="444.61" y1="23.50" x2="444.61" y2="26.70" stroke="#000" stroke-width="1.00"/>
<line x1="447.85" y1="223.00" x2="447.85" y2="217.60" stroke="#000" stroke-width="1.00"/>
<line x1="447.85" y1="23.50" x2="447.85" y2="28.90" stroke="#000" stroke-width="1.00"/>
<line x1="451.09" y1="223.00" x2="451.09" y2="219.80" stroke="#000" stroke-width="1.00"/>
<line x1="451.09" y1="23.50" x2="451.09" y2="26.70" stroke="#000" stroke-width="1.00"/>
<line x1="454.33" y1="223.00" x2="454.33" y2="219.80" stroke="#000" stroke-width="1.00"/>
<line x1="454.33" y1="23.50" x2="454.33" y2="26.70" stroke="#000" stroke-width="1.00"/>
<line x1="457.57" y1="223.00" x2="457.57" y2="219.80" stroke="#000" stroke-width="1.00"/>
<line x1="457.57" y1="23.50" x2="457.57" y2="26.70" stroke="#000" stroke-width="1.00"/>
<line x1="460.81" y1="223.00" x2="460.81" y2="219.80" stroke="#000" stroke-width="1.00"/>
<line x1="460.81" y1="23.50" x2="460.81" y2="26.70" stroke="#000" stroke-width="1.00"/>
<line x1="464.04" y1="223.00" x2="464.04" y2="219.80" stroke="#000" stroke-width="1.00"/>
<line x1="464.04" y1="23.50" x2="464.04" y2="26.70" stroke="#000" stroke-width="1.00"/>
<line x1="467.28" y1="223.00" x2="467.28" y2="219.80" stroke="#000" stroke-width="1.00"/>
<line x1="467.28" y1="23.50" x2="467.28" y2="26.70" stroke="#000" stroke-width="1.00"/>
<line x1="470.52" y1="223.00" x2="470.52" y2="219.80" stroke="#000" stroke-width="1.00"/>
<line x1="470.52" y1="23.50" x2="470.52" y2="26.70" stroke="#000" stroke-width="1.00"/>
<line x1="473.76" y1="223.00" x2="473.76" y2="219.80" stroke="#000" stroke-width="1.00"/>
<line x1="473.76" y1="23.50" x2="473.76" y2="26.70" stroke="#000" stroke-width="1.00"/>
<line x1="477.00" y1="223.00" x2="477.00" y2="217.60" stroke="#000" stroke-width="1.00"/>
<line x1="477.00" y1="23.50" x2="477.00" y2="28.90" stroke="#000" stroke-width="1.00"/>
<line x1="480.24" y1="223.00" x2="480.24" y2="219.80" stroke="#000" stroke-width="1.00"/>
<line x1="480.24" y1="23.50" x2="480.24" y2="26.70" stroke="#000" stroke-width="1.00"/>
<line x1="483.48" y1="223.00" x2="483.48" y2="219.80" stroke="#000" stroke-width="1.00"/>
<line x1="483.48" y1="23.50" x2="483.48" y2="26.70" stroke="#000" stroke-width="1.00"/>
<line x1="486.72" y1="223.00" x2="486.72" y2="219.80" stroke="#000" stroke-width="1.00"/>
<line x1="486.72" y1="23.50" x2="486.72" y2="26.70" stroke="#000" stroke-width="1.00"/>
<line x1="489.96" y1="223.00" x2="489.96" y2="219.80" stroke="#000" stroke-width="1.00"/>
<line x1="489.96" y1="23.50" x2="489.96" y2="26.70" stroke="#000" stroke-width="1.00"/>
<line x1="493.19" y1="223.00" x2="493.19" y2="219.80" stroke="#000" stroke-width="1.00"/>
<line x1="493.19" y1="23.50" x2="493.19" y2="26.70" stroke="#000" stroke-width="1.00"/>
<line x1="496.43" y1="223.00" x2="496.43" y2="219.80" stroke="#000" stroke-width="1.00"/>
<line x1="496.43" y1="23.50" x2="496.43" y2="26.70" stroke="#000" stroke-width="1.00"/>
<line x1="499.67" y1="223.00" x2="499.67" y2="219.80" stroke="#000" stroke-width="1.00"/>
<line x1="499.67" y1="23.50" x2="499.67" y2="26.70" stroke="#000" stroke-width="1.00"/>
<line x1="502.91" y1="223.00" x2="502.91" y2="219.80" stroke="#000" stroke-width="1.00"/>
<line x1="502.91" y1="23.50" x2="502.91" y2="26.70" stroke="#000" stroke-width="1.00"/>
<line x1="506.15" y1="223.00" x2="506.15" y2="217.60" stroke="#000" stroke-width="1.00"/>
<line x1="506.15" y1="23.50" x2="506.15" y2="28.90" stroke="#000" stroke-width="1.00"/>
<line x1="509.39" y1="223.00" x2="509.39" y2="219.80" stroke="#000" stroke-width="1.00"/>
<line x1="509.39" y1="23.50" x2="509.39" y2="26.70" stroke="#000" stroke-width="1.00"/>
<line x1="512.63" y1="223.00" x2="512.63" y2="219.80" stroke="#000" stroke-width="1.00"/>
<line x1="512.63" y1="23.50" x2="512.63" y2="26.70" stroke="#000" stroke-width="1.00"/>
<line x1="515.87" y1="223.00" x2="515.87" y2="219.80" stroke="#000" stroke-width="1.00"/>
<line x1="515.87" y1="23.50" x2="515.87" y2="26.70" stroke="#000" stroke-width="1.00"/>
<line x1="519.11" y1="223.00" x2="519.11" y2="219.80" stroke="#000" stroke-width="1.00"/>
<line x1="519.11" y1="23.50" x2="519.11" y2="26.70" stroke="#000" stroke-width="1.00"/>
<line x1="522.34" y1="223.00" x2="522.34" y2="219.80" stroke="#000" stroke-width="1.00"/>
<line x1="522.34" y1="23.50" x2="522.34" y2="26.70" stroke="#000" stroke-width="1.00"/>
<line x1="525.58" y1="223.00" x2="525.58" y2="219.80" stroke="#000" stroke-width="1.00"/>
<line x1="525.58" y1="23.50" x2="525.58" y2="26.70" stroke="#000" stroke-width="1.00"/>
<line x1="528.82" y1="223.00" x2="528.82" y2="219.80" stroke="#000" stroke-width="1.00"/>
<line x1="528.82" y1="23.50" x2="528.82" y2="26.70" stroke="#000" stroke-width="1.00"/>
<line x1="532.06" y1="223.00" x2="532.06" y2="219.80" stroke="#000" stroke-width="1.00"/>
<line x1="532.06" y1="23.50" x2="532.06" y2="26.70" stroke="#000" stroke-width="1.00"/>
<line x1="535.30" y1="223.00" x2="535.30" y2="217.60" stroke="#000" stroke-width="1.00"/>
<line x1="535.30" y1="23.50" x2="535.30" y2="28.90" stroke="#000" stroke-width="1.00"/>
<line x1="538.54" y1="223.00" x2="538.54" y2="219.80" stroke="#000" stroke-width="1.00"/>
<line x1="538.54" y1="23.50" x2="538.54" y2="26.70" stroke="#000" stroke-width="1.00"/>
<line x1="541.78" y1="223.00" x2="541.78" y2="219.80" stroke="#000" stroke-width="1.00"/>
<line x1="541.78" y1="23.50" x2="541.78" y2="26.70" stroke="#000" stroke-width="1.00"/>
<line x1="545.02" y1="223.00" x2="545.02" y2="219.80" stroke="#000" stroke-width="1.00"/>
<line x1="545.02" y1="23.50" x2="545.02" y2="26.70" stroke="#000" stroke-width="1.00"/>
<line x1="548.26" y1="223.00" x2="548.26" y2="219.80" stroke="#000" stroke-width="1.00"/>
<line x1="548.26" y1="23.50" x2="548.26" y2="26.70" stroke="#000" stroke-width="1.00"/>
<line x1="551.49" y1="223.00" x2="551.49" y2="219.80" stroke="#000" stroke-width="1.00"/>
<line x1="551.49" y1="23.50" x2="551.49" y2="26.70" stroke="#000" stroke-width="1.00"/>
<line x1="554.73" y1="223.00" x2="554.73" y2="219.80" stroke="#000" stroke-width="1.00"/>
<line x1="554.73" y1="23.50" x2="554.73" y2="26.70" stroke="#000" stroke-width="1.00"/>
<line x1="557.97" y1="223.00" x2="557.97" y2="219.80" stroke="#000" stroke-width="1.00"/>
<line x1="557.97" y1="23.50" x2="557.97" y2="26.70" stroke="#000" stroke-width="1.00"/>
<line x1="561.21" y1="223.00" x2="561.21" y2="219.80" stroke="#000" stroke-width="1.00"/>
<line x1="561.21" y1="23.50" x2="561.21" y2="26.70" stroke="#000" stroke-width="1.00"/>
<line x1="564.45" y1="223.00" x2="564.45" y2="217.60" stroke="#000" stroke-width="1.00"/>
<line x1="564.45" y1="23.50" x2="564.45" y2="28.90" stroke="#000" stroke-width="1.00"/>
<line x1="567.69" y1="223.00" x2="567.69" y2="219.80" stroke="#000" stroke-width="1.00"/>
<line x1="567.69" y1="23.50" x2="567.69" y2="26.70" stroke="#000" stroke-width="1.00"/>
<line x1="570.93" y1="223.00" x2="570.93" y2="219.80" stroke="#000" stroke-width="1.00"/>
<line x1="570.93" y1="23.50" x2="570.93" y2="26.70" stroke="#000" stroke-width="1.00"/>
<line x1="574.17" y1="223.00" x2="574.17" y2="219.80" stroke="#000" stroke-width="1.00"/>
<line x1="574.17" y1="23.50" x2="574.17" y2="26.70" stroke="#000" stroke-width="1.00"/>
<line x1="577.41" y1="223.00" x2="577.41" y2="219.80" stroke="#000" stroke-width="1.00"/>
<line x1="577.41" y1="23.50" x2="577.41" y2="26.70" stroke="#000" stroke-width="1.00"/>
<line x1="580.64" y1="223.00" x2="580.64" y2="219.80" stroke="#000" stroke-width="1.00"/>
<line x1="580.64" y1="23.50" x2="580.64" y2="26.70" stroke="#000" stroke-width="1.00"/>
<line x1="583.88" y1="223.00" x2="583.88" y2="219.80" stroke="#000" stroke-width="1.00"/>
<line x1="583.88" y1="23.50" x2="583.88" y2="26.70" stroke="#000" stroke-width="1.00"/>
<line x1="587.12" y1="223.00" x2="587.12" y2="219.80" stroke="#000" stroke-width="1.00"/>
<line x1="587.12" y1="23.50" x2="587.12" y2="26.70" stroke="#000" stroke-width="1.00"/>
<line x1="590.36" y1="223.00" x2="590.36" y2="219.80" stroke="#000" stroke-width="1.00"/>
<line x1="590.36" y1="23.50" x2="590.36" y2="26.70" stroke="#000" stroke-width="1.00"/>
<line x1="593.60" y1="223.00" x2="593.60" y2="217.60" stroke="#000" stroke-width="1.00"/>
<line x1="593.60" y1="23.50" x2="593.60" y2="28.90" stroke="#000" stroke-width="1.00"/>
<line x1="360.40" y1="223.00" x2="365.80" y2="223.00" stroke="#000" stroke-width="1.00"/>
<line x1="593.60" y1="223.00" x2="588.20" y2="223.00" stroke="#000" stroke-width="1.00"/>
<line x1="360.40" y1="216.35" x2="363.60" y2="216.35" stroke="#000" stroke-width="1.00"/>
<line x1="593.60" y1="216.35" x2="590.40" y2="216.35" stroke="#000" stroke-width="1.00"/>
<line x1="360.40" y1="209.70" x2="363.60" y2="209.70" stroke="#000" stroke-width="1.00"/>
<line x1="593.60" y1="209.70" x2="590.40" y2="209.70" stroke="#000" stroke-width="1.00"/>
<line x1="360.40" y1="203.05" x2="363.60" y2="203.05" stroke="#000" stroke-width="1.00"/>
<line x1="593.60" y1="203.05" x2="590.40" y2="203.05" stroke="#000" stroke-width="1.00"/>
<line x1="360.40" y1="196.40" x2="363.60" y2="196.40" stroke="#000" stroke-width="1.00"/>
<line x1="593.60" y1="196.40" x2="590.40" y2="196.40" stroke="#000" stroke-width="1.00"/>
<line x1="360.40" y1="189.75" x2="365.80" y2="189.75" stroke="#000" stroke-width="1.00"/>
<line x1="593.60" y1="189.75" x2="588.20" y2="189.75" stroke="#000" stroke-width="1.00"/>
<line x1="360.40" y1="183.10" x2="363.60" y2="183.10" stroke="#000" stroke-width="1.00"/>
<line x1="593.60" y1="183.10" x2="590.40" y2="183.10" stroke="#000" stroke-width="1.00"/>
<line x1="360.40" y1="176.45" x2="363.60" y2="176.45" stroke="#000" stroke-width="1.00"/>
<line x1="593.60" y1="176.45" x2="590.40" y2="176.45" stroke="#000" stroke-width="1.00"/>
<line x1="360.40" y1="169.80" x2="363.60" y2="169.80" stroke="#000" stroke-width="1.00"/>
<line x1="593.60" y1="169.80" x2="590.40" y2="169.80" stroke="#000" stroke-width="1.00"/>
<line x1="360.40" y1="163.15" x2="363.60" y2="163.15" stroke="#000" stroke-width="1.00"/>
<line x1="593.60" y1="163.15" x2="590.40" y2="163.15" stroke="#000" stroke-width="1.00"/>
<line x1="360.40" y1="156.50" x2="365.80" y2="156.50" stroke="#000" stroke-width="1.00"/>
<line x1="593.60" y1="156.50" x2="588.20" y2="156.50" stroke="#000" stroke-width="1.00"/>
<line x1="360.40" y1="149.85" x2="363.60" y2="149.85" stroke="#000" stroke-width="1.00"/>
<line x1="593.60" y1="149.85" x2="590.40" y2="149.85" stroke="#000" stroke-width="1.00"/>
<line x1="360.40" y1="143.20" x2="363.60" y2="143.20" stroke="#000" stroke-width="1.00"/>
<line x1="593.60" y1="143.20" x2="590.40" y2="143.20" stroke="#000" stroke-width="1.00"/>
<line x1="360.40" y1="136.55" x2="363.60" y2="136.55" stroke="#000" stroke-width="1.00"/>
<line x1="593.60" y1="136.55" x2="590.40" y2="136.55" stroke="#000" stroke-width="1.00"/>
<line x1="360.40" y1="129.90" x2="363.60" y2="129.90" stroke="#000" stroke-width="1.00"/>
<line x1="593.60" y1="129.90" x2="590.40" y2="129.90" stroke="#000" stroke-width="1.00"/>
<line x1="360.40" y1="123.25" x2="365.80" y2="123.25" stroke="#000" stroke-width="1.00"/>
<line x1="593.60" y1="123.25" x2="588.20" y2="123.25" stroke="#000" stroke-width="1.00"/>
<line x1="360.40" y1="116.60" x2="363.60" y2="116.60" stroke="#000" stroke-width="1.00"/>
<line x1="593.60" y1="116.60" x2="590.40" y2="116.60" stroke="#000" stroke-width="1.00"/>
<line x1="360.40" y1="109.95" x2="363.60" y2="109.95" stroke="#000" stroke-width="1.00"/>
<line x1="593.60" y1="109.95" x2="590.40" y2="109.95" stroke="#000" stroke-width="1.00"/>
<line x1="360.40" y1="103.30" x2="363.60" y2="103.30" stroke="#000" stroke-width="1.00"/>
<line x1="593.60" y1="103.30" x2="590.40" y2="103.30" stroke="#000" stroke-width="1.00"/>
<line x1="360.40" y1="96.65" x2="363.60" y2="96.65" stroke="#000" stroke-width="1.00"/>
<line x1="593.60" y1="96.65" x2="590.40" y2="96.65" stroke="#000" stroke-width="1.00"/>
<line x1="360.40" y1="90.00" x2="365.80" y2="90.00" stroke="#000" stroke-width="1.00"/>
<line x1="593.60" y1="90.00" x2="588.20" y2="90.00" stroke="#000" stroke-width="1.00"/>
<line x1="360.40" y1="83.35" x2="363.60" y2="83.35" stroke="#000" stroke-width="1.00"/>
<line x1="593.60" y1="83.35" x2="590.40" y2="83.35" stroke="#000" stroke-width="1.00"/>
<line x1="360.40" y1="76.70" x2="363.60" y2="76.70" stroke="#000" stroke-width="1.00"/>
<line x1="593.60" y1="76.70" x2="590.40" y2="76.70" stroke="#000" stroke-width="1.00"/>
<line x1="360.40" y1="70.05" x2="363.60" y2="70.05" stroke="#000" stroke-width="1.00"/>
<line x1="593.60" y1="70.05" x2="590.40" y2="70.05" stroke="#000" stroke-width="1.00"/>
<line x1="360.40" y1="63.40" x2="363.60" y2="63.40" stroke="#000" stroke-width="1.00"/>
<line x1="593.60" y1="63.40" x2="590.40" y2="63.40" stroke="#000" stroke-width="1.00"/>
<line x1="360.40" y1="56.75" x2="365.80" y2="56.75" stroke="#000" stroke-width="1.00"/>
<line x1="593.60" y1="56.75" x2="588.20" y2="56.75" stroke="#000" stroke-width="1.00"/>
<line x1="360.40" y1="50.10" x2="363.60" y2="50.10" stroke="#000" stroke-width="1.00"/>
<line x1="593.60" y1="50.10" x2="590.40" y2="50.10" stroke="#000" stroke-width="1.00"/>
<line x1="360.40" y1="43.45" x2="363.60" y2="43.45" stroke="#000" stroke-width="1.00"/>
<line x1="593.60" y1="43.45" x2="590.40" y2="43.45" stroke="#000" stroke-width="1.00"/>
<line x1="360.40" y1="36.80" x2="363.60" y2="36.80" stroke="#000" stroke-width="1.00"/>
<line x1="593.60" y1="36.80" x2="590.40" y2="36.80" stroke="#000" stroke-width="1.00"/>
<line x1="360.40" y1="30.15" x2="363.60" y2="30.15" stroke="#000" stroke-width="1.00"/>
<line x1="593.60" y1="30.15" x2="590.40" y2="30.15" stroke="#000" stroke-width="1.00"/>
<line x1="360.40" y1="23.50" x2="365.80" y2="23.50" stroke="#000" stroke-width="1.00"/>
<line x1="593.60" y1="23.50" x2="588.20" y2="23.50" stroke="#000" stroke-width="1.00"/>
<rect x="360.40" y="23.50" width="233.20" height="199.50" fill="none" stroke="#111" stroke-width="0.85"/>
<g>
<rect x="370.62" y="30.15" width="6.48" height="13.90" fill="#a2ff5e"/>
<rect x="383.57" y="30.15" width="7.08" height="13.30" fill="#e5ff1a"/>
<rect x="390.05" y="30.15" width="6.48" height="13.90" fill="#ffd500"/>
<rect x="428.92" y="30.15" width="6.48" height="13.30" fill="#ff0800"/>
<rect x="448.35" y="30.15" width="6.48" height="13.30" fill="#a2ff5e"/>
<rect x="519.61" y="30.15" width="7.08" height="13.90" fill="#ffd500"/>
<rect x="526.08" y="30.15" width="7.08" height="13.90" fill="#1affe5"/>
<rect x="532.56" y="30.15" width="7.08" height="13.90" fill="#ff9100"/>
<rect x="539.04" y="30.15" width="7.08" height="13.90" fill="#ffd500"/>
<rect x="545.52" y="30.15" width="7.08" height="13.90" fill="#e5ff1a"/>
<rect x="551.99" y="30.15" width="6.48" height="13.90" fill="#ff9100"/>
<rect x="359.90" y="43.45" width="4.84" height="13.30" fill="#ffd500"/>
<rect x="364.14" y="43.45" width="7.08" height="13.90" fill="#ffd500"/>
<rect x="370.62" y="43.45" width="6.48" height="13.90" fill="#5effa2"/>
<rect x="390.05" y="43.45" width="7.08" height="13.90" fill="#e5ff1a"/>
<rect x="396.53" y="43.45" width="7.08" height="13.90" fill="#e5ff1a"/>
<rect x="403.01" y="43.45" width="6.48" height="13.90" fill="#e5ff1a"/>
<rect x="415.96" y="43.45" width="7.08" height="13.90" fill="#ffd500"/>
<rect x="422.44" y="43.45" width="6.48" height="13.30" fill="#ffd500"/>
<rect x="480.74" y="43.45" width="6.48" height="13.90" fill="#a2ff5e"/>
<rect x="493.69" y="43.45" width="6.48" height="13.90" fill="#0090ff"/>
<rect x="513.13" y="43.45" width="7.08" height="13.90" fill="#1affe5"/>
<rect x="519.61" y="43.45" width="7.08" height="13.30" fill="#a2ff5e"/>
<rect x="526.08" y="43.45" width="7.08" height="13.90" fill="#a2ff5e"/>
<rect x="532.56" y="43.45" width="7.08" height="13.90" fill="#00d4ff"/>
<rect x="539.04" y="43.45" width="7.08" height="13.90" fill="#ff4c00"/>
<rect x="545.52" y="43.45" width="7.08" height="13.30" fill="#a2ff5e"/>
<rect x="551.99" y="43.45" width="7.08" height="13.90" fill="#ff9100"/>
<rect x="558.47" y="43.45" width="7.08" height="13.90" fill="#ff4c00"/>
<rect x="564.95" y="43.45" width="7.08" height="13.90" fill="#e5ff1a"/>
<rect x="571.43" y="43.45" width="6.48" height="13.90" fill="#5effa2"/>
<rect x="584.38" y="43.45" width="6.48" height="13.90" fill="#1affe5"/>
<rect x="364.14" y="56.75" width="7.08" height="13.90" fill="#5effa2"/>
<rect x="370.62" y="56.75" width="7.08" height="13.90" fill="#00d4ff"/>
<rect x="377.09" y="56.75" width="7.08" height="13.90" fill="#ffd500"/>
<rect x="383.57" y="56.75" width="7.08" height="13.90" fill="#ff9100"/>
<rect x="390.05" y="56.75" width="7.08" height="13.90" fill="#0052ff"/>
<rect x="396.53" y="56.75" width="7.08" height="13.90" fill="#00d4ff"/>
<rect x="403.01" y="56.75" width="7.08" height="13.90" fill="#5effa2"/>
<rect x="409.48" y="56.75" width="7.08" height="13.90" fill="#5effa2"/>
<rect x="415.96" y="56.75" width="6.48" height="13.90" fill="#1affe5"/>
<rect x="448.35" y="56.75" width="6.48" height="13.90" fill="#a2ff5e"/>
<rect x="467.78" y="56.75" width="7.08" height="13.90" fill="#a2ff5e"/>
<rect x="474.26" y="56.75" width="7.08" height="13.90" fill="#a2ff5e"/>
<rect x="480.74" y="56.75" width="7.08" height="13.30" fill="#e5ff1a"/>
<rect x="487.22" y="56.75" width="7.08" height="13.90" fill="#e5ff1a"/>
<rect x="493.69" y="56.75" width="6.48" height="13.90" fill="#5effa2"/>
<rect x="506.65" y="56.75" width="7.08" height="13.90" fill="#5effa2"/>
<rect x="513.13" y="56.75" width="6.48" height="13.90" fill="#00d4ff"/>
<rect x="526.08" y="56.75" width="7.08" height="13.90" fill="#a2ff5e"/>
<rect x="532.56" y="56.75" width="7.08" height="13.90" fill="#a2ff5e"/>
<rect x="539.04" y="56.75" width="6.48" height="13.90" fill="#5effa2"/>
<rect x="551.99" y="56.75" width="7.08" height="13.90" fill="#a2ff5e"/>
<rect x="558.47" y="56.75" width="7.08" height="13.90" fill="#0090ff"/>
<rect x="564.95" y="56.75" width="7.08" height="13.90" fill="#1affe5"/>
<rect x="571.43" y="56.75" width="6.48" height="13.90" fill="#5effa2"/>
<rect x="584.38" y="56.75" width="7.08" height="13.90" fill="#5effa2"/>
<rect x="590.86" y="56.75" width="2.74" height="13.90" fill="#1affe5"/>
<rect x="359.90" y="70.05" width="4.84" height="13.90" fill="#5effa2"/>
<rect x="364.14" y="70.05" width="7.08" height="13.90" fill="#a2ff5e"/>
<rect x="370.62" y="70.05" width="7.08" height="13.90" fill="#00d4ff"/>
<rect x="377.09" y="70.05" width="7.08" height="13.90" fill="#e5ff1a"/>
<rect x="383.57" y="70.05" width="7.08" height="13.90" fill="#0090ff"/>
<rect x="390.05" y="70.05" width="7.08" height="13.90" fill="#a2ff5e"/>
<rect x="396.53" y="70.05" width="7.08" height="13.90" fill="#1affe5"/>
<rect x="403.01" y="70.05" width="7.08" height="13.90" fill="#1affe5"/>
<rect x="409.48" y="70.05" width="7.08" height="13.90" fill="#a2ff5e"/>
<rect x="415.96" y="70.05" width="7.08" height="13.90" fill="#5effa2"/>
<rect x="422.44" y="70.05" width="7.08" height="13.90" fill="#0090ff"/>
<rect x="428.92" y="70.05" width="6.48" height="13.90" fill="#5effa2"/>
<rect x="448.35" y="70.05" width="7.08" height="13.90" fill="#001aff"/>
<rect x="454.83" y="70.05" width="7.08" height="13.90" fill="#0090ff"/>
<rect x="461.31" y="70.05" width="7.08" height="13.30" fill="#0090ff"/>
<rect x="467.78" y="70.05" width="7.08" height="13.90" fill="#00d4ff"/>
<rect x="474.26" y="70.05" width="6.48" height="13.90" fill="#1affe5"/>
<rect x="487.22" y="70.05" width="7.08" height="13.90" fill="#001aff"/>
<rect x="493.69" y="70.05" width="7.08" height="13.30" fill="#5effa2"/>
<rect x="500.17" y="70.05" width="7.08" height="13.30" fill="#5effa2"/>
<rect x="506.65" y="70.05" width="7.08" height="13.90" fill="#5effa2"/>
<rect x="513.13" y="70.05" width="7.08" height="13.90" fill="#00d4ff"/>
<rect x="519.61" y="70.05" width="7.08" height="13.90" fill="#ff9100"/>
<rect x="526.08" y="70.05" width="7.08" height="13.90" fill="#1affe5"/>
<rect x="532.56" y="70.05" width="7.08" height="13.90" fill="#00d4ff"/>
<rect x="539.04" y="70.05" width="7.08" height="13.90" fill="#00d4ff"/>
<rect x="545.52" y="70.05" width="7.08" height="13.90" fill="#0090ff"/>
<rect x="551.99" y="70.05" width="7.08" height="13.90" fill="#a2ff5e"/>
<rect x="558.47" y="70.05" width="7.08" height="13.90" fill="#5effa2"/>
<rect x="564.95" y="70.05" width="7.08" height="13.90" fill="#5effa2"/>
<rect x="571.43" y="70.05" width="7.08" height="13.90" fill="#e5ff1a"/>
<rect x="577.91" y="70.05" width="7.08" height="13.90" fill="#5effa2"/>
<rect x="584.38" y="70.05" width="7.08" height="13.90" fill="#00d4ff"/>
<rect x="590.86" y="70.05" width="2.74" height="13.90" fill="#00d4ff"/>
<rect x="359.90" y="83.35" width="4.84" height="13.90" fill="#a2ff5e"/>
<rect x="364.14" y="83.35" width="7.08" height="13.90" fill="#a2ff5e"/>
<rect x="370.62" y="83.35" width="7.08" height="13.90" fill="#0052ff"/>
<rect x="377.09" y="83.35" width="7.08" height="13.90" fill="#0000db"/>
<rect x="383.57" y="83.35" width="7.08" height="13.90" fill="#5effa2"/>
<rect x="390.05" y="83.35" width="7.08" height="13.90" fill="#a2ff5e"/>
<rect x="396.53" y="83.35" width="7.08" height="13.90" fill="#00d4ff"/>
<rect x="403.01" y="83.35" width="7.08" height="13.90" fill="#a2ff5e"/>
<rect x="409.48" y="83.35" width="7.08" height="13.90" fill="#a2ff5e"/>
<rect x="415.96" y="83.35" width="7.08" height="13.90" fill="#a2ff5e"/>
<rect x="422.44" y="83.35" width="7.08" height="13.90" fill="#ff9100"/>
<rect x="428.92" y="83.35" width="7.08" height="13.90" fill="#5effa2"/>
<rect x="435.39" y="83.35" width="7.08" height="13.90" fill="#0090ff"/>
<rect x="441.87" y="83.35" width="7.08" height="13.90" fill="#5effa2"/>
<rect x="448.35" y="83.35" width="7.08" height="13.90" fill="#1affe5"/>
<rect x="454.83" y="83.35" width="6.48" height="13.90" fill="#0052ff"/>
<rect x="467.78" y="83.35" width="7.08" height="13.90" fill="#0052ff"/>
<rect x="474.26" y="83.35" width="7.08" height="13.90" fill="#001aff"/>
<rect x="480.74" y="83.35" width="7.08" height="13.90" fill="#0000db"/>
<rect x="487.22" y="83.35" width="6.48" height="13.90" fill="#000080"/>
<rect x="506.65" y="83.35" width="7.08" height="13.90" fill="#a2ff5e"/>
<rect x="513.13" y="83.35" width="7.08" height="13.90" fill="#00d4ff"/>
<rect x="519.61" y="83.35" width="7.08" height="13.90" fill="#0052ff"/>
<rect x="526.08" y="83.35" width="7.08" height="13.90" fill="#0000db"/>
<rect x="532.56" y="83.35" width="7.08" height="13.90" fill="#1affe5"/>
<rect x="539.04" y="83.35" width="7.08" height="13.90" fill="#5effa2"/>
<rect x="545.52" y="83.35" width="7.08" height="13.90" fill="#00d4ff"/>
<rect x="551.99" y="83.35" width="7.08" height="13.90" fill="#a2ff5e"/>
<rect x="558.47" y="83.35" width="7.08" height="13.30" fill="#5effa2"/>
<rect x="564.95" y="83.35" width="7.08" height="13.90" fill="#00d4ff"/>
<rect x="571.43" y="83.35" width="7.08" height="13.90" fill="#001aff"/>
<rect x="577.91" y="83.35" width="7.08" height="13.90" fill="#00d4ff"/>
<rect x="584.38" y="83.35" width="7.08" height="13.90" fill="#5effa2"/>
<rect x="590.86" y="83.35" width="2.74" height="13.30" fill="#a2ff5e"/>
<rect x="359.90" y="96.65" width="4.84" height="13.30" fill="#00d4ff"/>
<rect x="364.14" y="96.65" width="7.08" height="13.90" fill="#00d4ff"/>
<rect x="370.62" y="96.65" width="7.08" height="13.90" fill="#a2ff5e"/>
<rect x="377.09" y="96.65" width="7.08" height="13.90" fill="#a2ff5e"/>
<rect x="383.57" y="96.65" width="7.08" height="13.90" fill="#1affe5"/>
<rect x="390.05" y="96.65" width="7.08" height="13.90" fill="#a2ff5e"/>
<rect x="396.53" y="96.65" width="7.08" height="13.90" fill="#5effa2"/>
<rect x="403.01" y="96.65" width="7.08" height="13.90" fill="#e5ff1a"/>
<rect x="409.48" y="96.65" width="7.08" height="13.90" fill="#a2ff5e"/>
<rect x="415.96" y="96.65" width="7.08" height="13.90" fill="#5effa2"/>
<rect x="422.44" y="96.65" width="7.08" height="13.90" fill="#a2ff5e"/>
<rect x="428.92" y="96.65" width="7.08" height="13.90" fill="#a2ff5e"/>
<rect x="435.39" y="96.65" width="7.08" height="13.90" fill="#1affe5"/>
<rect x="441.87" y="96.65" width="7.08" height="13.90" fill="#0090ff"/>
<rect x="448.35" y="96.65" width="7.08" height="13.90" fill="#0090ff"/>
<rect x="454.83" y="96.65" width="7.08" height="13.90" fill="#0090ff"/>
<rect x="461.31" y="96.65" width="7.08" height="13.90" fill="#a2ff5e"/>
<rect x="467.78" y="96.65" width="7.08" height="13.90" fill="#0000db"/>
<rect x="474.26" y="96.65" width="7.08" height="13.90" fill="#00d4ff"/>
<rect x="480.74" y="96.65" width="7.08" height="13.30" fill="#00d4ff"/>
<rect x="487.22" y="96.65" width="7.08" height="13.90" fill="#0090ff"/>
<rect x="493.69" y="96.65" width="7.08" height="13.90" fill="#0052ff"/>
<rect x="500.17" y="96.65" width="7.08" height="13.90" fill="#1affe5"/>
<rect x="506.65" y="96.65" width="7.08" height="13.90" fill="#1affe5"/>
<rect x="513.13" y="96.65" width="7.08" height="13.90" fill="#000080"/>
<rect x="519.61" y="96.65" width="7.08" height="13.90" fill="#00d4ff"/>
<rect x="526.08" y="96.65" width="7.08" height="13.90" fill="#00d4ff"/>
<rect x="532.56" y="96.65" width="7.08" height="13.90" fill="#0090ff"/>
<rect x="539.04" y="96.65" width="7.08" height="13.90" fill="#0000db"/>
<rect x="545.52" y="96.65" width="7.08" height="13.90" fill="#00d4ff"/>
<rect x="551.99" y="96.65" width="6.48" height="13.90" fill="#0052ff"/>
<rect x="564.95" y="96.65" width="7.08" height="13.90" fill="#1affe5"/>
<rect x="571.43" y="96.65" width="7.08" height="13.30" fill="#1affe5"/>
<rect x="577.91" y="96.65" width="7.08" height="13.90" fill="#00d4ff"/>
<rect x="584.38" y="96.65" width="6.48" height="13.90" fill="#001aff"/>
<rect x="364.14" y="109.95" width="7.08" height="13.90" fill="#0090ff"/>
<rect x="370.62" y="109.95" width="7.08" height="13.30" fill="#00d4ff"/>
<rect x="377.09" y="109.95" width="7.08" height="13.30" fill="#001aff"/>
<rect x="383.57" y="109.95" width="7.08" height="13.90" fill="#a2ff5e"/>
<rect x="390.05" y="109.95" width="7.08" height="13.90" fill="#0052ff"/>
<rect x="396.53" y="109.95" width="7.08" height="13.90" fill="#0000db"/>
<rect x="403.01" y="109.95" width="7.08" height="13.90" fill="#1affe5"/>
<rect x="409.48" y="109.95" width="7.08" height="13.90" fill="#a2ff5e"/>
<rect x="415.96" y="109.95" width="7.08" height="13.90" fill="#0090ff"/>
<rect x="422.44" y="109.95" width="7.08" height="13.90" fill="#5effa2"/>
<rect x="428.92" y="109.95" width="7.08" height="13.90" fill="#a2ff5e"/>
<rect x="435.39" y="109.95" width="7.08" height="13.90" fill="#a2ff5e"/>
<rect x="441.87" y="109.95" width="7.08" height="13.90" fill="#5effa2"/>
<rect x="448.35" y="109.95" width="7.08" height="13.90" fill="#5effa2"/>
<rect x="454.83" y="109.95" width="7.08" height="13.90" fill="#0090ff"/>
<rect x="461.31" y="109.95" width="7.08" height="13.90" fill="#00d4ff"/>
<rect x="467.78" y="109.95" width="7.08" height="13.90" fill="#a2ff5e"/>
<rect x="474.26" y="109.95" width="6.48" height="13.90" fill="#00d4ff"/>
<rect x="487.22" y="109.95" width="7.08" height="13.90" fill="#a2ff5e"/>
<rect x="493.69" y="109.95" width="7.08" height="13.90" fill="#0000db"/>
<rect x="500.17" y="109.95" width="7.08" height="13.90" fill="#0000db"/>
<rect x="506.65" y="109.95" width="7.08" height="13.90" fill="#001aff"/>
<rect x="513.13" y="109.95" width="7.08" height="13.90" fill="#0090ff"/>
<rect x="519.61" y="109.95" width="7.08" height="13.90" fill="#00d4ff"/>
<rect x="526.08" y="109.95" width="7.08" height="13.90" fill="#0090ff"/>
<rect x="532.56" y="109.95" width="7.08" height="13.90" fill="#a2ff5e"/>
<rect x="539.04" y="109.95" width="7.08" height="13.90" fill="#1affe5"/>
<rect x="545.52" y="109.95" width="7.08" height="13.90" fill="#1affe5"/>
<rect x="551.99" y="109.95" width="7.08" height="13.90" fill="#00d4ff"/>
<rect x="558.47" y="109.95" width="7.08" height="13.90" fill="#000080"/>
<rect x="564.95" y="109.95" width="6.48" height="13.90" fill="#0052ff"/>
<rect x="577.91" y="109.95" width="7.08" height="13.90" fill="#0000db"/>
<rect x="584.38" y="109.95" width="7.08" height="13.90" fill="#0000db"/>
<rect x="590.86" y="109.95" width="2.74" height="13.90" fill="#0090ff"/>
<rect x="359.90" y="123.25" width="4.84" height="13.90" fill="#001aff"/>
<rect x="364.14" y="123.25" width="6.48" height="13.90" fill="#1affe5"/>
<rect x="383.57" y="123.25" width="7.08" height="13.90" fill="#5effa2"/>
<rect x="390.05" y="123.25" width="7.08" height="13.90" fill="#a2ff5e"/>
<rect x="396.53" y="123.25" width="7.08" height="13.90" fill="#a2ff5e"/>
<rect x="403.01" y="123.25" width="7.08" height="13.90" fill="#a2ff5e"/>
<rect x="409.48" y="123.25" width="7.08" height="13.90" fill="#5effa2"/>
<rect x="415.96" y="123.25" width="7.08" height="13.90" fill="#a2ff5e"/>
<rect x="422.44" y="123.25" width="7.08" height="13.90" fill="#e5ff1a"/>
<rect x="428.92" y="123.25" width="7.08" height="13.90" fill="#0090ff"/>
<rect x="435.39" y="123.25" width="7.08" height="13.90" fill="#0090ff"/>
<rect x="441.87" y="123.25" width="7.08" height="13.90" fill="#5effa2"/>
<rect x="448.35" y="123.25" width="7.08" height="13.90" fill="#0090ff"/>
<rect x="454.83" y="123.25" width="7.08" height="13.90" fill="#5effa2"/>
<rect x="461.31" y="123.25" width="7.08" height="13.90" fill="#0052ff"/>
<rect x="467.78" y="123.25" width="7.08" height="13.90" fill="#00d4ff"/>
<rect x="474.26" y="123.25" width="7.08" height="13.90" fill="#00d4ff"/>
<rect x="480.74" y="123.25" width="7.08" height="13.90" fill="#a2ff5e"/>
<rect x="487.22" y="123.25" width="7.08" height="13.30" fill="#0000db"/>
<rect x="493.69" y="123.25" width="7.08" height="13.90" fill="#0052ff"/>
<rect x="500.17" y="123.25" width="7.08" height="13.90" fill="#0090ff"/>
<rect x="506.65" y="123.25" width="7.08" height="13.90" fill="#00d4ff"/>
<rect x="513.13" y="123.25" width="7.08" height="13.90" fill="#000080"/>
<rect x="519.61" y="123.25" width="7.08" height="13.90" fill="#00d4ff"/>
<rect x="526.08" y="123.25" width="7.08" height="13.90" fill="#1affe5"/>
<rect x="532.56" y="123.25" width="7.08" height="13.90" fill="#5effa2"/>
<rect x="539.04" y="123.25" width="7.08" height="13.90" fill="#a2ff5e"/>
<rect x="545.52" y="123.25" width="7.08" height="13.90" fill="#00d4ff"/>
<rect x="551.99" y="123.25" width="7.08" height="13.90" fill="#0052ff"/>
<rect x="558.47" y="123.25" width="7.08" height="13.90" fill="#0052ff"/>
<rect x="564.95" y="123.25" width="7.08" height="13.90" fill="#5effa2"/>
<rect x="571.43" y="123.25" width="7.08" height="13.90" fill="#1affe5"/>
<rect x="577.91" y="123.25" width="7.08" height="13.90" fill="#a2ff5e"/>
<rect x="584.38" y="123.25" width="7.08" height="13.90" fill="#0052ff"/>
<rect x="590.86" y="123.25" width="2.74" height="13.90" fill="#0052ff"/>
<rect x="359.90" y="136.55" width="4.84" height="13.30" fill="#0090ff"/>
<rect x="364.14" y="136.55" width="7.08" height="13.90" fill="#a2ff5e"/>
<rect x="370.62" y="136.55" width="7.08" height="13.90" fill="#1affe5"/>
<rect x="377.09" y="136.55" width="7.08" height="13.90" fill="#0052ff"/>
<rect x="383.57" y="136.55" width="7.08" height="13.90" fill="#0052ff"/>
<rect x="390.05" y="136.55" width="7.08" height="13.90" fill="#5effa2"/>
<rect x="396.53" y="136.55" width="7.08" height="13.90" fill="#e5ff1a"/>
<rect x="403.01" y="136.55" width="7.08" height="13.90" fill="#a2ff5e"/>
<rect x="409.48" y="136.55" width="7.08" height="13.90" fill="#a2ff5e"/>
<rect x="415.96" y="136.55" width="7.08" height="13.90" fill="#00d4ff"/>
<rect x="422.44" y="136.55" width="7.08" height="13.90" fill="#1affe5"/>
<rect x="428.92" y="136.55" width="7.08" height="13.90" fill="#1affe5"/>
<rect x="435.39" y="136.55" width="7.08" height="13.90" fill="#1affe5"/>
<rect x="441.87" y="136.55" width="7.08" height="13.90" fill="#0052ff"/>
<rect x="448.35" y="136.55" width="7.08" height="13.90" fill="#1affe5"/>
<rect x="454.83" y="136.55" width="7.08" height="13.90" fill="#0052ff"/>
<rect x="461.31" y="136.55" width="7.08" height="13.90" fill="#0052ff"/>
<rect x="467.78" y="136.55" width="7.08" height="13.90" fill="#0052ff"/>
<rect x="474.26" y="136.55" width="7.08" height="13.90" fill="#0090ff"/>
<rect x="480.74" y="136.55" width="6.48" height="13.90" fill="#5effa2"/>
<rect x="493.69" y="136.55" width="7.08" height="13.90" fill="#0090ff"/>
<rect x="500.17" y="136.55" width="7.08" height="13.90" fill="#0052ff"/>
<rect x="506.65" y="136.55" width="7.08" height="13.90" fill="#0052ff"/>
<rect x="513.13" y="136.55" width="7.08" height="13.90" fill="#0090ff"/>
<rect x="519.61" y="136.55" width="7.08" height="13.90" fill="#1affe5"/>
<rect x="526.08" y="136.55" width="7.08" height="13.90" fill="#00d4ff"/>
<rect x="532.56" y="136.55" width="7.08" height="13.90" fill="#e5ff1a"/>
<rect x="539.04" y="136.55" width="7.08" height="13.90" fill="#1affe5"/>
<rect x="545.52" y="136.55" width="7.08" height="13.90" fill="#00d4ff"/>
<rect x="551.99" y="136.55" width="7.08" height="13.90" fill="#0090ff"/>
<rect x="558.47" y="136.55" width="7.08" height="13.90" fill="#0090ff"/>
<rect x="564.95" y="136.55" width="7.08" height="13.90" fill="#a2ff5e"/>
<rect x="571.43" y="136.55" width="7.08" height="13.90" fill="#e5ff1a"/>
<rect x="577.91" y="136.55" width="7.08" height="13.90" fill="#5effa2"/>
<rect x="584.38" y="136.55" width="7.08" height="13.90" fill="#0052ff"/>
<rect x="590.86" y="136.55" width="2.74" height="13.90" fill="#000080"/>
<rect x="364.14" y="149.85" width="7.08" height="13.90" fill="#e5ff1a"/>
<rect x="370.62" y="149.85" width="7.08" height="13.90" fill="#1affe5"/>
<rect x="377.09" y="149.85" width="7.08" height="13.90" fill="#1affe5"/>
<rect x="383.57" y="149.85" width="7.08" height="13.90" fill="#0052ff"/>
<rect x="390.05" y="149.85" width="7.08" height="13.90" fill="#0090ff"/>
<rect x="396.53" y="149.85" width="7.08" height="13.90" fill="#5effa2"/>
<rect x="403.01" y="149.85" width="7.08" height="13.90" fill="#5effa2"/>
<rect x="409.48" y="149.85" width="7.08" height="13.90" fill="#5effa2"/>
<rect x="415.96" y="149.85" width="7.08" height="13.90" fill="#00d4ff"/>
<rect x="422.44" y="149.85" width="7.08" height="13.90" fill="#00d4ff"/>
<rect x="428.92" y="149.85" width="7.08" height="13.30" fill="#00d4ff"/>
<rect x="435.39" y="149.85" width="7.08" height="13.90" fill="#0052ff"/>
<rect x="441.87" y="149.85" width="7.08" height="13.90" fill="#0052ff"/>
<rect x="448.35" y="149.85" width="7.08" height="13.90" fill="#0052ff"/>
<rect x="454.83" y="149.85" width="7.08" height="13.90" fill="#0052ff"/>
<rect x="461.31" y="149.85" width="7.08" height="13.90" fill="#a2ff5e"/>
<rect x="467.78" y="149.85" width="7.08" height="13.90" fill="#a2ff5e"/>
<rect x="474.26" y="149.85" width="7.08" height="13.90" fill="#1affe5"/>
<rect x="480.74" y="149.85" width="7.08" height="13.90" fill="#1affe5"/>
<rect x="487.22" y="149.85" width="7.08" height="13.90" fill="#a2ff5e"/>
<rect x="493.69" y="149.85" width="7.08" height="13.90" fill="#00d4ff"/>
<rect x="500.17" y="149.85" width="7.08" height="13.30" fill="#0000db"/>
<rect x="506.65" y="149.85" width="7.08" height="13.90" fill="#0052ff"/>
<rect x="513.13" y="149.85" width="7.08" height="13.90" fill="#a2ff5e"/>
<rect x="519.61" y="149.85" width="7.08" height="13.90" fill="#5effa2"/>
<rect x="526.08" y="149.85" width="7.08" height="13.90" fill="#5effa2"/>
<rect x="532.56" y="149.85" width="7.08" height="13.90" fill="#1affe5"/>
<rect x="539.04" y="149.85" width="7.08" height="13.90" fill="#001aff"/>
<rect x="545.52" y="149.85" width="7.08" height="13.90" fill="#001aff"/>
<rect x="551.99" y="149.85" width="7.08" height="13.90" fill="#1affe5"/>
<rect x="558.47" y="149.85" width="7.08" height="13.30" fill="#5effa2"/>
<rect x="564.95" y="149.85" width="7.08" height="13.90" fill="#1affe5"/>
<rect x="571.43" y="149.85" width="7.08" height="13.90" fill="#00d4ff"/>
<rect x="577.91" y="149.85" width="7.08" height="13.90" fill="#a2ff5e"/>
<rect x="584.38" y="149.85" width="7.08" height="13.90" fill="#5effa2"/>
<rect x="590.86" y="149.85" width="2.74" height="13.90" fill="#e5ff1a"/>
<rect x="359.90" y="163.15" width="4.84" height="13.30" fill="#e5ff1a"/>
<rect x="364.14" y="163.15" width="7.08" height="13.90" fill="#ff9100"/>
<rect x="370.62" y="163.15" width="7.08" height="13.90" fill="#001aff"/>
<rect x="377.09" y="163.15" width="7.08" height="13.90" fill="#1affe5"/>
<rect x="383.57" y="163.15" width="7.08" height="13.90" fill="#5effa2"/>
<rect x="390.05" y="163.15" width="7.08" height="13.90" fill="#a2ff5e"/>
<rect x="396.53" y="163.15" width="7.08" height="13.90" fill="#5effa2"/>
<rect x="403.01" y="163.15" width="7.08" height="13.90" fill="#5effa2"/>
<rect x="409.48" y="163.15" width="7.08" height="13.30" fill="#a2ff5e"/>
<rect x="415.96" y="163.15" width="7.08" height="13.30" fill="#00d4ff"/>
<rect x="422.44" y="163.15" width="6.48" height="13.90" fill="#00d4ff"/>
<rect x="435.39" y="163.15" width="7.08" height="13.30" fill="#00d4ff"/>
<rect x="441.87" y="163.15" width="7.08" height="13.30" fill="#00d4ff"/>
<rect x="448.35" y="163.15" width="7.08" height="13.30" fill="#00d4ff"/>
<rect x="454.83" y="163.15" width="7.08" height="13.30" fill="#5effa2"/>
<rect x="461.31" y="163.15" width="7.08" height="13.90" fill="#1affe5"/>
<rect x="467.78" y="163.15" width="7.08" height="13.30" fill="#e5ff1a"/>
<rect x="474.26" y="163.15" width="7.08" height="13.90" fill="#ffd500"/>
<rect x="480.74" y="163.15" width="7.08" height="13.90" fill="#ffd500"/>
<rect x="487.22" y="163.15" width="7.08" height="13.90" fill="#1affe5"/>
<rect x="493.69" y="163.15" width="6.48" height="13.30" fill="#e5ff1a"/>
<rect x="506.65" y="163.15" width="7.08" height="13.90" fill="#0052ff"/>
<rect x="513.13" y="163.15" width="7.08" height="13.90" fill="#5effa2"/>
<rect x="519.61" y="163.15" width="7.08" height="13.90" fill="#0052ff"/>
<rect x="526.08" y="163.15" width="7.08" height="13.90" fill="#5effa2"/>
<rect x="532.56" y="163.15" width="7.08" height="13.90" fill="#5effa2"/>
<rect x="539.04" y="163.15" width="7.08" height="13.90" fill="#1affe5"/>
<rect x="545.52" y="163.15" width="7.08" height="13.90" fill="#a2ff5e"/>
<rect x="551.99" y="163.15" width="6.48" height="13.30" fill="#0052ff"/>
<rect x="564.95" y="163.15" width="7.08" height="13.30" fill="#0000db"/>
<rect x="571.43" y="163.15" width="7.08" height="13.90" fill="#0090ff"/>
<rect x="577.91" y="163.15" width="7.08" height="13.30" fill="#e5ff1a"/>
<rect x="584.38" y="163.15" width="7.08" height="13.30" fill="#e5ff1a"/>
<rect x="590.86" y="163.15" width="2.74" height="13.30" fill="#5effa2"/>
<rect x="364.14" y="176.45" width="7.08" height="13.30" fill="#00d4ff"/>
<rect x="370.62" y="176.45" width="7.08" height="13.30" fill="#0052ff"/>
<rect x="377.09" y="176.45" width="7.08" height="13.90" fill="#0052ff"/>
<rect x="383.57" y="176.45" width="7.08" height="13.30" fill="#a2ff5e"/>
<rect x="390.05" y="176.45" width="7.08" height="13.90" fill="#ffd500"/>
<rect x="396.53" y="176.45" width="7.08" height="13.90" fill="#e5ff1a"/>
<rect x="403.01" y="176.45" width="6.48" height="13.90" fill="#e5ff1a"/>
<rect x="422.44" y="176.45" width="6.48" height="13.90" fill="#0090ff"/>
<rect x="461.31" y="176.45" width="6.48" height="13.30" fill="#5effa2"/>
<rect x="474.26" y="176.45" width="7.08" height="13.30" fill="#0090ff"/>
<rect x="480.74" y="176.45" width="7.08" height="13.30" fill="#e5ff1a"/>
<rect x="487.22" y="176.45" width="6.48" height="13.30" fill="#ff4c00"/>
<rect x="506.65" y="176.45" width="7.08" height="13.30" fill="#5effa2"/>
<rect x="513.13" y="176.45" width="7.08" height="13.30" fill="#00d4ff"/>
<rect x="519.61" y="176.45" width="7.08" height="13.30" fill="#1affe5"/>
<rect x="526.08" y="176.45" width="7.08" height="13.30" fill="#a2ff5e"/>
<rect x="532.56" y="176.45" width="7.08" height="13.90" fill="#0052ff"/>
<rect x="539.04" y="176.45" width="7.08" height="13.90" fill="#e5ff1a"/>
<rect x="545.52" y="176.45" width="6.48" height="13.90" fill="#5effa2"/>
<rect x="558.47" y="176.45" width="6.48" height="13.30" fill="#5effa2"/>
<rect x="571.43" y="176.45" width="6.48" height="13.90" fill="#5effa2"/>
<rect x="377.09" y="189.75" width="6.48" height="13.30" fill="#5effa2"/>
<rect x="390.05" y="189.75" width="7.08" height="13.30" fill="#a2ff5e"/>
<rect x="396.53" y="189.75" width="7.08" height="13.90" fill="#ff9100"/>
<rect x="403.01" y="189.75" width="7.08" height="13.90" fill="#ff4c00"/>
<rect x="409.48" y="189.75" width="7.08" height="13.90" fill="#e5ff1a"/>
<rect x="415.96" y="189.75" width="7.08" height="13.90" fill="#5effa2"/>
<rect x="422.44" y="189.75" width="7.08" height="13.90" fill="#ffd500"/>
<rect x="428.92" y="189.75" width="6.48" height="13.30" fill="#a2ff5e"/>
<rect x="441.87" y="189.75" width="7.08" height="13.30" fill="#a2ff5e"/>
<rect x="448.35" y="189.75" width="6.48" height="13.30" fill="#a2ff5e"/>
<rect x="493.69" y="189.75" width="6.48" height="13.30" fill="#5effa2"/>
<rect x="532.56" y="189.75" width="7.08" height="13.30" fill="#5effa2"/>
<rect x="539.04" y="189.75" width="7.08" height="13.90" fill="#ff9100"/>
<rect x="545.52" y="189.75" width="6.48" height="13.90" fill="#ffd500"/>
<rect x="571.43" y="189.75" width="6.48" height="13.90" fill="#5effa2"/>
<rect x="396.53" y="203.05" width="7.08" height="13.30" fill="#ff0800"/>
<rect x="403.01" y="203.05" width="7.08" height="13.30" fill="#ff0800"/>
<rect x="409.48" y="203.05" width="7.08" height="13.30" fill="#ff4c00"/>
<rect x="415.96" y="203.05" width="7.08" height="13.30" fill="#ff4c00"/>
<rect x="422.44" y="203.05" width="6.48" height="13.30" fill="#ff9100"/>
<rect x="435.39" y="203.05" width="6.48" height="13.30" fill="#a2ff5e"/>
<rect x="539.04" y="203.05" width="7.08" height="13.30" fill="#a2ff5e"/>
<rect x="545.52" y="203.05" width="7.08" height="13.30" fill="#ff0800"/>
<rect x="551.99" y="203.05" width="7.08" height="13.30" fill="#ff4c00"/>
<rect x="558.47" y="203.05" width="7.08" height="13.30" fill="#ff4c00"/>
<rect x="564.95" y="203.05" width="7.08" height="13.30" fill="#e5ff1a"/>
<rect x="571.43" y="203.05" width="6.48" height="13.30" fill="#ffd500"/>
</g>
<text x="361.10" y="235.50" font-size="11.50" text-anchor="middle" font-weight="normal" fill="#000" stroke="#000" stroke-width="0.30" >-180</text>
<text x="389.35" y="235.50" font-size="11.50" text-anchor="middle" font-weight="normal" fill="#000" stroke="#000" stroke-width="0.30" >-135</text>
<text x="418.05" y="235.50" font-size="11.50" text-anchor="middle" font-weight="normal" fill="#000" stroke="#000" stroke-width="0.30" >-90</text>
<text x="446.35" y="235.50" font-size="11.50" text-anchor="middle" font-weight="normal" fill="#000" stroke="#000" stroke-width="0.30" >-45</text>
<text x="477.00" y="235.50" font-size="11.50" text-anchor="middle" font-weight="normal" fill="#000" stroke="#000" stroke-width="0.30" >0</text>
<text x="506.25" y="235.50" font-size="11.50" text-anchor="middle" font-weight="normal" fill="#000" stroke="#000" stroke-width="0.30" >45</text>
<text x="535.00" y="235.50" font-size="11.50" text-anchor="middle" font-weight="normal" fill="#000" stroke="#000" stroke-width="0.30" >90</text>
<text x="565.05" y="235.50" font-size="11.50" text-anchor="middle" font-weight="normal" fill="#000" stroke="#000" stroke-width="0.30" >135</text>
<text x="591.60" y="235.50" font-size="11.50" text-anchor="middle" font-weight="normal" fill="#000" stroke="#000" stroke-width="0.30" >180</text>
<text x="354.60" y="225.60" font-size="11.20" text-anchor="end" font-weight="normal" fill="#000" stroke="#000" stroke-width="0.30" >-30</text>
<text x="354.60" y="193.45" font-size="11.20" text-anchor="end" font-weight="normal" fill="#000" stroke="#000" stroke-width="0.30" >-20</text>
<text x="354.60" y="160.20" font-size="11.20" text-anchor="end" font-weight="normal" fill="#000" stroke="#000" stroke-width="0.30" >-10</text>
<text x="354.60" y="126.95" font-size="11.20" text-anchor="end" font-weight="normal" fill="#000" stroke="#000" stroke-width="0.30" >0</text>
<text x="354.60" y="93.70" font-size="11.20" text-anchor="end" font-weight="normal" fill="#000" stroke="#000" stroke-width="0.30" >10</text>
<text x="354.60" y="60.45" font-size="11.20" text-anchor="end" font-weight="normal" fill="#000" stroke="#000" stroke-width="0.30" >20</text>
<text x="354.60" y="32.00" font-size="11.20" text-anchor="end" font-weight="normal" fill="#000" stroke="#000" stroke-width="0.30" >30</text>
<text x="414.10" y="12.90" font-size="17.40" text-anchor="start" font-weight="bold" fill="#000" stroke="#000" stroke-width="0.20" >Occurrence Rates</text>
<text x="477.00" y="250.30" font-size="14.40" text-anchor="middle" font-weight="bold" fill="#000" stroke="#000" stroke-width="0.20" >Longitude (°)</text>
<line x1="359.80" y1="266.20" x2="593.60" y2="266.20" stroke="#ff0000" stroke-width="1.00"/>
<line x1="359.80" y1="266.20" x2="359.80" y2="261.20" stroke="#ff0000" stroke-width="0.90"/>
<line x1="364.67" y1="266.20" x2="364.67" y2="263.40" stroke="#ff0000" stroke-width="0.90"/>
<line x1="369.54" y1="266.20" x2="369.54" y2="263.40" stroke="#ff0000" stroke-width="0.90"/>
<line x1="374.41" y1="266.20" x2="374.41" y2="263.40" stroke="#ff0000" stroke-width="0.90"/>
<line x1="379.28" y1="266.20" x2="379.28" y2="263.40" stroke="#ff0000" stroke-width="0.90"/>
<line x1="384.15" y1="266.20" x2="384.15" y2="263.40" stroke="#ff0000" stroke-width="0.90"/>
<line x1="389.02" y1="266.20" x2="389.02" y2="261.20" stroke="#ff0000" stroke-width="0.90"/>
<line x1="393.90" y1="266.20" x2="393.90" y2="263.40" stroke="#ff0000" stroke-width="0.90"/>
<line x1="398.77" y1="266.20" x2="398.77" y2="263.40" stroke="#ff0000" stroke-width="0.90"/>
<line x1="403.64" y1="266.20" x2="403.64" y2="263.40" stroke="#ff0000" stroke-width="0.90"/>
<line x1="408.51" y1="266.20" x2="408.51" y2="263.40" stroke="#ff0000" stroke-width="0.90"/>
<line x1="413.38" y1="266.20" x2="413.38" y2="263.40" stroke="#ff0000" stroke-width="0.90"/>
<line x1="418.25" y1="266.20" x2="418.25" y2="261.20" stroke="#ff0000" stroke-width="0.90"/>
<line x1="423.12" y1="266.20" x2="423.12" y2="263.40" stroke="#ff0000" stroke-width="0.90"/>
<line x1="427.99" y1="266.20" x2="427.99" y2="263.40" stroke="#ff0000" stroke-width="0.90"/>
<line x1="432.86" y1="266.20" x2="432.86" y2="263.40" stroke="#ff0000" stroke-width="0.90"/>
<line x1="437.73" y1="266.20" x2="437.73" y2="263.40" stroke="#ff0000" stroke-width="0.90"/>
<line x1="442.60" y1="266.20" x2="442.60" y2="263.40" stroke="#ff0000" stroke-width="0.90"/>
<line x1="447.47" y1="266.20" x2="447.47" y2="261.20" stroke="#ff0000" stroke-width="0.90"/>
<line x1="452.35" y1="266.20" x2="452.35" y2="263.40" stroke="#ff0000" stroke-width="0.90"/>
<line x1="457.22" y1="266.20" x2="457.22" y2="263.40" stroke="#ff0000" stroke-width="0.90"/>
<line x1="462.09" y1="266.20" x2="462.09" y2="263.40" stroke="#ff0000" stroke-width="0.90"/>
<line x1="466.96" y1="266.20" x2="466.96" y2="263.40" stroke="#ff0000" stroke-width="0.90"/>
<line x1="471.83" y1="266.20" x2="471.83" y2="263.40" stroke="#ff0000" stroke-width="0.90"/>
<line x1="476.70" y1="266.20" x2="476.70" y2="261.20" stroke="#ff0000" stroke-width="0.90"/>
<line x1="481.57" y1="266.20" x2="481.57" y2="263.40" stroke="#ff0000" stroke-width="0.90"/>
<line x1="486.44" y1="266.20" x2="486.44" y2="263.40" stroke="#ff0000" stroke-width="0.90"/>
<line x1="491.31" y1="266.20" x2="491.31" y2="263.40" stroke="#ff0000" stroke-width="0.90"/>
<line x1="496.18" y1="266.20" x2="496.18" y2="263.40" stroke="#ff0000" stroke-width="0.90"/>
<line x1="501.05" y1="266.20" x2="501.05" y2="263.40" stroke="#ff0000" stroke-width="0.90"/>
<line x1="505.92" y1="266.20" x2="505.92" y2="261.20" stroke="#ff0000" stroke-width="0.90"/>
<line x1="510.80" y1="266.20" x2="510.80" y2="263.40" stroke="#ff0000" stroke-width="0.90"/>
<line x1="515.67" y1="266.20" x2="515.67" y2="263.40" stroke="#ff0000" stroke-width="0.90"/>
<line x1="520.54" y1="266.20" x2="520.54" y2="263.40" stroke="#ff0000" stroke-width="0.90"/>
<line x1="525.41" y1="266.20" x2="525.41" y2="263.40" stroke="#ff0000" stroke-width="0.90"/>
<line x1="530.28" y1="266.20" x2="530.28" y2="263.40" stroke="#ff0000" stroke-width="0.90"/>
<line x1="535.15" y1="266.20" x2="535.15" y2="261.20" stroke="#ff0000" stroke-width="0.90"/>
<line x1="540.02" y1="266.20" x2="540.02" y2="263.40" stroke="#ff0000" stroke-width="0.90"/>
<line x1="544.89" y1="266.20" x2="544.89" y2="263.40" stroke="#ff0000" stroke-width="0.90"/>
<line x1="549.76" y1="266.20" x2="549.76" y2="263.40" stroke="#ff0000" stroke-width="0.90"/>
<line x1="554.63" y1="266.20" x2="554.63" y2="263.40" stroke="#ff0000" stroke-width="0.90"/>
<line x1="559.50" y1="266.20" x2="559.50" y2="263.40" stroke="#ff0000" stroke-width="0.90"/>
<line x1="564.38" y1="266.20" x2="564.38" y2="261.20" stroke="#ff0000" stroke-width="0.90"/>
<line x1="569.25" y1="266.20" x2="569.25" y2="263.40" stroke="#ff0000" stroke-width="0.90"/>
<line x1="574.12" y1="266.20" x2="574.12" y2="263.40" stroke="#ff0000" stroke-width="0.90"/>
<line x1="578.99" y1="266.20" x2="578.99" y2="263.40" stroke="#ff0000" stroke-width="0.90"/>
<line x1="583.86" y1="266.20" x2="583.86" y2="263.40" stroke="#ff0000" stroke-width="0.90"/>
<line x1="588.73" y1="266.20" x2="588.73" y2="263.40" stroke="#ff0000" stroke-width="0.90"/>
<line x1="593.60" y1="266.20" x2="593.60" y2="261.20" stroke="#ff0000" stroke-width="0.90"/>
<text x="358.60" y="277.90" font-size="11.40" text-anchor="middle" font-weight="normal" fill="#ff0000" stroke="#ff0000" stroke-width="0.30" >00</text>
<text x="387.82" y="277.90" font-size="11.40" text-anchor="middle" font-weight="normal" fill="#ff0000" stroke="#ff0000" stroke-width="0.30" >03</text>
<text x="417.05" y="277.90" font-size="11.40" text-anchor="middle" font-weight="normal" fill="#ff0000" stroke="#ff0000" stroke-width="0.30" >06</text>
<text x="446.27" y="277.90" font-size="11.40" text-anchor="middle" font-weight="normal" fill="#ff0000" stroke="#ff0000" stroke-width="0.30" >09</text>
<text x="475.50" y="277.90" font-size="11.40" text-anchor="middle" font-weight="normal" fill="#ff0000" stroke="#ff0000" stroke-width="0.30" >12</text>
<text x="504.72" y="277.90" font-size="11.40" text-anchor="middle" font-weight="normal" fill="#ff0000" stroke="#ff0000" stroke-width="0.30" >15</text>
<text x="533.95" y="277.90" font-size="11.40" text-anchor="middle" font-weight="normal" fill="#ff0000" stroke="#ff0000" stroke-width="0.30" >18</text>
<text x="563.17" y="277.90" font-size="11.40" text-anchor="middle" font-weight="normal" fill="#ff0000" stroke="#ff0000" stroke-width="0.30" >21</text>
<text x="592.40" y="277.90" font-size="11.40" text-anchor="middle" font-weight="normal" fill="#ff0000" stroke="#ff0000" stroke-width="0.30" >24</text>
<text x="477.00" y="291.00" font-size="14.40" text-anchor="middle" font-weight="bold" fill="#ff0000" stroke="#ff0000" stroke-width="0.20" >Local Time (h)</text>
<text x="577.00" y="41.00" font-size="11.00" text-anchor="middle" font-weight="normal" fill="#000" stroke="#000" stroke-width="0.30" >(b)</text>
<rect x="602.20" y="23.30" width="12.80" height="199.50" fill="url(#jetg)"/>
<line x1="615.00" y1="202.78" x2="610.70" y2="202.78" stroke="#000" stroke-width="1.20"/>
<line x1="615.00" y1="191.07" x2="610.70" y2="191.07" stroke="#000" stroke-width="1.20"/>
<line x1="615.00" y1="182.76" x2="610.70" y2="182.76" stroke="#000" stroke-width="1.20"/>
<line x1="615.00" y1="176.32" x2="610.70" y2="176.32" stroke="#000" stroke-width="1.20"/>
<line x1="615.00" y1="171.05" x2="610.70" y2="171.05" stroke="#000" stroke-width="1.20"/>
<line x1="615.00" y1="166.60" x2="610.70" y2="166.60" stroke="#000" stroke-width="1.20"/>
<line x1="615.00" y1="162.74" x2="610.70" y2="162.74" stroke="#000" stroke-width="1.20"/>
<line x1="615.00" y1="159.34" x2="610.70" y2="159.34" stroke="#000" stroke-width="1.20"/>
<line x1="615.00" y1="156.30" x2="608.80" y2="156.30" stroke="#000" stroke-width="1.20"/>
<line x1="615.00" y1="136.28" x2="610.70" y2="136.28" stroke="#000" stroke-width="1.20"/>
<line x1="615.00" y1="124.57" x2="610.70" y2="124.57" stroke="#000" stroke-width="1.20"/>
<line x1="615.00" y1="116.26" x2="610.70" y2="116.26" stroke="#000" stroke-width="1.20"/>
<line x1="615.00" y1="109.82" x2="610.70" y2="109.82" stroke="#000" stroke-width="1.20"/>
<line x1="615.00" y1="104.55" x2="610.70" y2="104.55" stroke="#000" stroke-width="1.20"/>
<line x1="615.00" y1="100.10" x2="610.70" y2="100.10" stroke="#000" stroke-width="1.20"/>
<line x1="615.00" y1="96.24" x2="610.70" y2="96.24" stroke="#000" stroke-width="1.20"/>
<line x1="615.00" y1="92.84" x2="610.70" y2="92.84" stroke="#000" stroke-width="1.20"/>
<line x1="615.00" y1="89.80" x2="608.80" y2="89.80" stroke="#000" stroke-width="1.20"/>
<line x1="615.00" y1="69.78" x2="610.70" y2="69.78" stroke="#000" stroke-width="1.20"/>
<line x1="615.00" y1="58.07" x2="610.70" y2="58.07" stroke="#000" stroke-width="1.20"/>
<line x1="615.00" y1="49.76" x2="610.70" y2="49.76" stroke="#000" stroke-width="1.20"/>
<line x1="615.00" y1="43.32" x2="610.70" y2="43.32" stroke="#000" stroke-width="1.20"/>
<line x1="615.00" y1="38.05" x2="610.70" y2="38.05" stroke="#000" stroke-width="1.20"/>
<line x1="615.00" y1="33.60" x2="610.70" y2="33.60" stroke="#000" stroke-width="1.20"/>
<line x1="615.00" y1="29.74" x2="610.70" y2="29.74" stroke="#000" stroke-width="1.20"/>
<line x1="615.00" y1="26.34" x2="610.70" y2="26.34" stroke="#000" stroke-width="1.20"/>
<rect x="602.20" y="23.30" width="12.80" height="199.50" fill="none" stroke="#000" stroke-width="1.0"/>
<text x="617.00" y="225.95" font-size="11.4" fill="#000" stroke="#000" stroke-width="0.3">10<tspan font-size="9.3" dy="-5.3">-2</tspan></text>
<text x="617.00" y="160.95" font-size="11.4" fill="#000" stroke="#000" stroke-width="0.3">10<tspan font-size="9.3" dy="-5.3">-1</tspan></text>
<text x="617.00" y="94.45" font-size="11.4" fill="#000" stroke="#000" stroke-width="0.3">10<tspan font-size="9.3" dy="-5.3">0</tspan></text>
<text x="617.00" y="26.95" font-size="11.4" fill="#000" stroke="#000" stroke-width="0.3">10<tspan font-size="9.3" dy="-5.3">1</tspan></text>
<text x="606.50" y="19.60" font-size="13.80" text-anchor="middle" font-weight="normal" fill="#000" stroke="#000" stroke-width="0.30" >[%]</text>
<line x1="36.50" y1="530.30" x2="36.50" y2="524.90" stroke="#000" stroke-width="1.00"/>
<line x1="36.50" y1="330.20" x2="36.50" y2="335.60" stroke="#000" stroke-width="1.00"/>
<line x1="39.74" y1="530.30" x2="39.74" y2="527.10" stroke="#000" stroke-width="1.00"/>
<line x1="39.74" y1="330.20" x2="39.74" y2="333.40" stroke="#000" stroke-width="1.00"/>
<line x1="42.97" y1="530.30" x2="42.97" y2="527.10" stroke="#000" stroke-width="1.00"/>
<line x1="42.97" y1="330.20" x2="42.97" y2="333.40" stroke="#000" stroke-width="1.00"/>
<line x1="46.21" y1="530.30" x2="46.21" y2="527.10" stroke="#000" stroke-width="1.00"/>
<line x1="46.21" y1="330.20" x2="46.21" y2="333.40" stroke="#000" stroke-width="1.00"/>
<line x1="49.44" y1="530.30" x2="49.44" y2="527.10" stroke="#000" stroke-width="1.00"/>
<line x1="49.44" y1="330.20" x2="49.44" y2="333.40" stroke="#000" stroke-width="1.00"/>
<line x1="52.68" y1="530.30" x2="52.68" y2="527.10" stroke="#000" stroke-width="1.00"/>
<line x1="52.68" y1="330.20" x2="52.68" y2="333.40" stroke="#000" stroke-width="1.00"/>
<line x1="55.92" y1="530.30" x2="55.92" y2="527.10" stroke="#000" stroke-width="1.00"/>
<line x1="55.92" y1="330.20" x2="55.92" y2="333.40" stroke="#000" stroke-width="1.00"/>
<line x1="59.15" y1="530.30" x2="59.15" y2="527.10" stroke="#000" stroke-width="1.00"/>
<line x1="59.15" y1="330.20" x2="59.15" y2="333.40" stroke="#000" stroke-width="1.00"/>
<line x1="62.39" y1="530.30" x2="62.39" y2="527.10" stroke="#000" stroke-width="1.00"/>
<line x1="62.39" y1="330.20" x2="62.39" y2="333.40" stroke="#000" stroke-width="1.00"/>
<line x1="65.62" y1="530.30" x2="65.62" y2="524.90" stroke="#000" stroke-width="1.00"/>
<line x1="65.62" y1="330.20" x2="65.62" y2="335.60" stroke="#000" stroke-width="1.00"/>
<line x1="68.86" y1="530.30" x2="68.86" y2="527.10" stroke="#000" stroke-width="1.00"/>
<line x1="68.86" y1="330.20" x2="68.86" y2="333.40" stroke="#000" stroke-width="1.00"/>
<line x1="72.10" y1="530.30" x2="72.10" y2="527.10" stroke="#000" stroke-width="1.00"/>
<line x1="72.10" y1="330.20" x2="72.10" y2="333.40" stroke="#000" stroke-width="1.00"/>
<line x1="75.33" y1="530.30" x2="75.33" y2="527.10" stroke="#000" stroke-width="1.00"/>
<line x1="75.33" y1="330.20" x2="75.33" y2="333.40" stroke="#000" stroke-width="1.00"/>
<line x1="78.57" y1="530.30" x2="78.57" y2="527.10" stroke="#000" stroke-width="1.00"/>
<line x1="78.57" y1="330.20" x2="78.57" y2="333.40" stroke="#000" stroke-width="1.00"/>
<line x1="81.81" y1="530.30" x2="81.81" y2="527.10" stroke="#000" stroke-width="1.00"/>
<line x1="81.81" y1="330.20" x2="81.81" y2="333.40" stroke="#000" stroke-width="1.00"/>
<line x1="85.04" y1="530.30" x2="85.04" y2="527.10" stroke="#000" stroke-width="1.00"/>
<line x1="85.04" y1="330.20" x2="85.04" y2="333.40" stroke="#000" stroke-width="1.00"/>
<line x1="88.28" y1="530.30" x2="88.28" y2="527.10" stroke="#000" stroke-width="1.00"/>
<line x1="88.28" y1="330.20" x2="88.28" y2="333.40" stroke="#000" stroke-width="1.00"/>
<line x1="91.51" y1="530.30" x2="91.51" y2="527.10" stroke="#000" stroke-width="1.00"/>
<line x1="91.51" y1="330.20" x2="91.51" y2="333.40" stroke="#000" stroke-width="1.00"/>
<line x1="94.75" y1="530.30" x2="94.75" y2="524.90" stroke="#000" stroke-width="1.00"/>
<line x1="94.75" y1="330.20" x2="94.75" y2="335.60" stroke="#000" stroke-width="1.00"/>
<line x1="97.99" y1="530.30" x2="97.99" y2="527.10" stroke="#000" stroke-width="1.00"/>
<line x1="97.99" y1="330.20" x2="97.99" y2="333.40" stroke="#000" stroke-width="1.00"/>
<line x1="101.22" y1="530.30" x2="101.22" y2="527.10" stroke="#000" stroke-width="1.00"/>
<line x1="101.22" y1="330.20" x2="101.22" y2="333.40" stroke="#000" stroke-width="1.00"/>
<line x1="104.46" y1="530.30" x2="104.46" y2="527.10" stroke="#000" stroke-width="1.00"/>
<line x1="104.46" y1="330.20" x2="104.46" y2="333.40" stroke="#000" stroke-width="1.00"/>
<line x1="107.69" y1="530.30" x2="107.69" y2="527.10" stroke="#000" stroke-width="1.00"/>
<line x1="107.69" y1="330.20" x2="107.69" y2="333.40" stroke="#000" stroke-width="1.00"/>
<line x1="110.93" y1="530.30" x2="110.93" y2="527.10" stroke="#000" stroke-width="1.00"/>
<line x1="110.93" y1="330.20" x2="110.93" y2="333.40" stroke="#000" stroke-width="1.00"/>
<line x1="114.17" y1="530.30" x2="114.17" y2="527.10" stroke="#000" stroke-width="1.00"/>
<line x1="114.17" y1="330.20" x2="114.17" y2="333.40" stroke="#000" stroke-width="1.00"/>
<line x1="117.40" y1="530.30" x2="117.40" y2="527.10" stroke="#000" stroke-width="1.00"/>
<line x1="117.40" y1="330.20" x2="117.40" y2="333.40" stroke="#000" stroke-width="1.00"/>
<line x1="120.64" y1="530.30" x2="120.64" y2="527.10" stroke="#000" stroke-width="1.00"/>
<line x1="120.64" y1="330.20" x2="120.64" y2="333.40" stroke="#000" stroke-width="1.00"/>
<line x1="123.88" y1="530.30" x2="123.88" y2="524.90" stroke="#000" stroke-width="1.00"/>
<line x1="123.88" y1="330.20" x2="123.88" y2="335.60" stroke="#000" stroke-width="1.00"/>
<line x1="127.11" y1="530.30" x2="127.11" y2="527.10" stroke="#000" stroke-width="1.00"/>
<line x1="127.11" y1="330.20" x2="127.11" y2="333.40" stroke="#000" stroke-width="1.00"/>
<line x1="130.35" y1="530.30" x2="130.35" y2="527.10" stroke="#000" stroke-width="1.00"/>
<line x1="130.35" y1="330.20" x2="130.35" y2="333.40" stroke="#000" stroke-width="1.00"/>
<line x1="133.58" y1="530.30" x2="133.58" y2="527.10" stroke="#000" stroke-width="1.00"/>
<line x1="133.58" y1="330.20" x2="133.58" y2="333.40" stroke="#000" stroke-width="1.00"/>
<line x1="136.82" y1="530.30" x2="136.82" y2="527.10" stroke="#000" stroke-width="1.00"/>
<line x1="136.82" y1="330.20" x2="136.82" y2="333.40" stroke="#000" stroke-width="1.00"/>
<line x1="140.06" y1="530.30" x2="140.06" y2="527.10" stroke="#000" stroke-width="1.00"/>
<line x1="140.06" y1="330.20" x2="140.06" y2="333.40" stroke="#000" stroke-width="1.00"/>
<line x1="143.29" y1="530.30" x2="143.29" y2="527.10" stroke="#000" stroke-width="1.00"/>
<line x1="143.29" y1="330.20" x2="143.29" y2="333.40" stroke="#000" stroke-width="1.00"/>
<line x1="146.53" y1="530.30" x2="146.53" y2="527.10" stroke="#000" stroke-width="1.00"/>
<line x1="146.53" y1="330.20" x2="146.53" y2="333.40" stroke="#000" stroke-width="1.00"/>
<line x1="149.76" y1="530.30" x2="149.76" y2="527.10" stroke="#000" stroke-width="1.00"/>
<line x1="149.76" y1="330.20" x2="149.76" y2="333.40" stroke="#000" stroke-width="1.00"/>
<line x1="153.00" y1="530.30" x2="153.00" y2="524.90" stroke="#000" stroke-width="1.00"/>
<line x1="153.00" y1="330.20" x2="153.00" y2="335.60" stroke="#000" stroke-width="1.00"/>
<line x1="156.24" y1="530.30" x2="156.24" y2="527.10" stroke="#000" stroke-width="1.00"/>
<line x1="156.24" y1="330.20" x2="156.24" y2="333.40" stroke="#000" stroke-width="1.00"/>
<line x1="159.47" y1="530.30" x2="159.47" y2="527.10" stroke="#000" stroke-width="1.00"/>
<line x1="159.47" y1="330.20" x2="159.47" y2="333.40" stroke="#000" stroke-width="1.00"/>
<line x1="162.71" y1="530.30" x2="162.71" y2="527.10" stroke="#000" stroke-width="1.00"/>
<line x1="162.71" y1="330.20" x2="162.71" y2="333.40" stroke="#000" stroke-width="1.00"/>
<line x1="165.94" y1="530.30" x2="165.94" y2="527.10" stroke="#000" stroke-width="1.00"/>
<line x1="165.94" y1="330.20" x2="165.94" y2="333.40" stroke="#000" stroke-width="1.00"/>
<line x1="169.18" y1="530.30" x2="169.18" y2="527.10" stroke="#000" stroke-width="1.00"/>
<line x1="169.18" y1="330.20" x2="169.18" y2="333.40" stroke="#000" stroke-width="1.00"/>
<line x1="172.42" y1="530.30" x2="172.42" y2="527.10" stroke="#000" stroke-width="1.00"/>
<line x1="172.42" y1="330.20" x2="172.42" y2="333.40" stroke="#000" stroke-width="1.00"/>
<line x1="175.65" y1="530.30" x2="175.65" y2="527.10" stroke="#000" stroke-width="1.00"/>
<line x1="175.65" y1="330.20" x2="175.65" y2="333.40" stroke="#000" stroke-width="1.00"/>
<line x1="178.89" y1="530.30" x2="178.89" y2="527.10" stroke="#000" stroke-width="1.00"/>
<line x1="178.89" y1="330.20" x2="178.89" y2="333.40" stroke="#000" stroke-width="1.00"/>
<line x1="182.12" y1="530.30" x2="182.12" y2="524.90" stroke="#000" stroke-width="1.00"/>
<line x1="182.12" y1="330.20" x2="182.12" y2="335.60" stroke="#000" stroke-width="1.00"/>
<line x1="185.36" y1="530.30" x2="185.36" y2="527.10" stroke="#000" stroke-width="1.00"/>
<line x1="185.36" y1="330.20" x2="185.36" y2="333.40" stroke="#000" stroke-width="1.00"/>
<line x1="188.60" y1="530.30" x2="188.60" y2="527.10" stroke="#000" stroke-width="1.00"/>
<line x1="188.60" y1="330.20" x2="188.60" y2="333.40" stroke="#000" stroke-width="1.00"/>
<line x1="191.83" y1="530.30" x2="191.83" y2="527.10" stroke="#000" stroke-width="1.00"/>
<line x1="191.83" y1="330.20" x2="191.83" y2="333.40" stroke="#000" stroke-width="1.00"/>
<line x1="195.07" y1="530.30" x2="195.07" y2="527.10" stroke="#000" stroke-width="1.00"/>
<line x1="195.07" y1="330.20" x2="195.07" y2="333.40" stroke="#000" stroke-width="1.00"/>
<line x1="198.31" y1="530.30" x2="198.31" y2="527.10" stroke="#000" stroke-width="1.00"/>
<line x1="198.31" y1="330.20" x2="198.31" y2="333.40" stroke="#000" stroke-width="1.00"/>
<line x1="201.54" y1="530.30" x2="201.54" y2="527.10" stroke="#000" stroke-width="1.00"/>
<line x1="201.54" y1="330.20" x2="201.54" y2="333.40" stroke="#000" stroke-width="1.00"/>
<line x1="204.78" y1="530.30" x2="204.78" y2="527.10" stroke="#000" stroke-width="1.00"/>
<line x1="204.78" y1="330.20" x2="204.78" y2="333.40" stroke="#000" stroke-width="1.00"/>
<line x1="208.01" y1="530.30" x2="208.01" y2="527.10" stroke="#000" stroke-width="1.00"/>
<line x1="208.01" y1="330.20" x2="208.01" y2="333.40" stroke="#000" stroke-width="1.00"/>
<line x1="211.25" y1="530.30" x2="211.25" y2="524.90" stroke="#000" stroke-width="1.00"/>
<line x1="211.25" y1="330.20" x2="211.25" y2="335.60" stroke="#000" stroke-width="1.00"/>
<line x1="214.49" y1="530.30" x2="214.49" y2="527.10" stroke="#000" stroke-width="1.00"/>
<line x1="214.49" y1="330.20" x2="214.49" y2="333.40" stroke="#000" stroke-width="1.00"/>
<line x1="217.72" y1="530.30" x2="217.72" y2="527.10" stroke="#000" stroke-width="1.00"/>
<line x1="217.72" y1="330.20" x2="217.72" y2="333.40" stroke="#000" stroke-width="1.00"/>
<line x1="220.96" y1="530.30" x2="220.96" y2="527.10" stroke="#000" stroke-width="1.00"/>
<line x1="220.96" y1="330.20" x2="220.96" y2="333.40" stroke="#000" stroke-width="1.00"/>
<line x1="224.19" y1="530.30" x2="224.19" y2="527.10" stroke="#000" stroke-width="1.00"/>
<line x1="224.19" y1="330.20" x2="224.19" y2="333.40" stroke="#000" stroke-width="1.00"/>
<line x1="227.43" y1="530.30" x2="227.43" y2="527.10" stroke="#000" stroke-width="1.00"/>
<line x1="227.43" y1="330.20" x2="227.43" y2="333.40" stroke="#000" stroke-width="1.00"/>
<line x1="230.67" y1="530.30" x2="230.67" y2="527.10" stroke="#000" stroke-width="1.00"/>
<line x1="230.67" y1="330.20" x2="230.67" y2="333.40" stroke="#000" stroke-width="1.00"/>
<line x1="233.90" y1="530.30" x2="233.90" y2="527.10" stroke="#000" stroke-width="1.00"/>
<line x1="233.90" y1="330.20" x2="233.90" y2="333.40" stroke="#000" stroke-width="1.00"/>
<line x1="237.14" y1="530.30" x2="237.14" y2="527.10" stroke="#000" stroke-width="1.00"/>
<line x1="237.14" y1="330.20" x2="237.14" y2="333.40" stroke="#000" stroke-width="1.00"/>
<line x1="240.38" y1="530.30" x2="240.38" y2="524.90" stroke="#000" stroke-width="1.00"/>
<line x1="240.38" y1="330.20" x2="240.38" y2="335.60" stroke="#000" stroke-width="1.00"/>
<line x1="243.61" y1="530.30" x2="243.61" y2="527.10" stroke="#000" stroke-width="1.00"/>
<line x1="243.61" y1="330.20" x2="243.61" y2="333.40" stroke="#000" stroke-width="1.00"/>
<line x1="246.85" y1="530.30" x2="246.85" y2="527.10" stroke="#000" stroke-width="1.00"/>
<line x1="246.85" y1="330.20" x2="246.85" y2="333.40" stroke="#000" stroke-width="1.00"/>
<line x1="250.08" y1="530.30" x2="250.08" y2="527.10" stroke="#000" stroke-width="1.00"/>
<line x1="250.08" y1="330.20" x2="250.08" y2="333.40" stroke="#000" stroke-width="1.00"/>
<line x1="253.32" y1="530.30" x2="253.32" y2="527.10" stroke="#000" stroke-width="1.00"/>
<line x1="253.32" y1="330.20" x2="253.32" y2="333.40" stroke="#000" stroke-width="1.00"/>
<line x1="256.56" y1="530.30" x2="256.56" y2="527.10" stroke="#000" stroke-width="1.00"/>
<line x1="256.56" y1="330.20" x2="256.56" y2="333.40" stroke="#000" stroke-width="1.00"/>
<line x1="259.79" y1="530.30" x2="259.79" y2="527.10" stroke="#000" stroke-width="1.00"/>
<line x1="259.79" y1="330.20" x2="259.79" y2="333.40" stroke="#000" stroke-width="1.00"/>
<line x1="263.03" y1="530.30" x2="263.03" y2="527.10" stroke="#000" stroke-width="1.00"/>
<line x1="263.03" y1="330.20" x2="263.03" y2="333.40" stroke="#000" stroke-width="1.00"/>
<line x1="266.26" y1="530.30" x2="266.26" y2="527.10" stroke="#000" stroke-width="1.00"/>
<line x1="266.26" y1="330.20" x2="266.26" y2="333.40" stroke="#000" stroke-width="1.00"/>
<line x1="269.50" y1="530.30" x2="269.50" y2="524.90" stroke="#000" stroke-width="1.00"/>
<line x1="269.50" y1="330.20" x2="269.50" y2="335.60" stroke="#000" stroke-width="1.00"/>
<line x1="36.50" y1="530.30" x2="41.90" y2="530.30" stroke="#000" stroke-width="1.00"/>
<line x1="269.50" y1="530.30" x2="264.10" y2="530.30" stroke="#000" stroke-width="1.00"/>
<line x1="36.50" y1="523.63" x2="39.70" y2="523.63" stroke="#000" stroke-width="1.00"/>
<line x1="269.50" y1="523.63" x2="266.30" y2="523.63" stroke="#000" stroke-width="1.00"/>
<line x1="36.50" y1="516.96" x2="39.70" y2="516.96" stroke="#000" stroke-width="1.00"/>
<line x1="269.50" y1="516.96" x2="266.30" y2="516.96" stroke="#000" stroke-width="1.00"/>
<line x1="36.50" y1="510.29" x2="39.70" y2="510.29" stroke="#000" stroke-width="1.00"/>
<line x1="269.50" y1="510.29" x2="266.30" y2="510.29" stroke="#000" stroke-width="1.00"/>
<line x1="36.50" y1="503.62" x2="39.70" y2="503.62" stroke="#000" stroke-width="1.00"/>
<line x1="269.50" y1="503.62" x2="266.30" y2="503.62" stroke="#000" stroke-width="1.00"/>
<line x1="36.50" y1="496.95" x2="41.90" y2="496.95" stroke="#000" stroke-width="1.00"/>
<line x1="269.50" y1="496.95" x2="264.10" y2="496.95" stroke="#000" stroke-width="1.00"/>
<line x1="36.50" y1="490.28" x2="39.70" y2="490.28" stroke="#000" stroke-width="1.00"/>
<line x1="269.50" y1="490.28" x2="266.30" y2="490.28" stroke="#000" stroke-width="1.00"/>
<line x1="36.50" y1="483.61" x2="39.70" y2="483.61" stroke="#000" stroke-width="1.00"/>
<line x1="269.50" y1="483.61" x2="266.30" y2="483.61" stroke="#000" stroke-width="1.00"/>
<line x1="36.50" y1="476.94" x2="39.70" y2="476.94" stroke="#000" stroke-width="1.00"/>
<line x1="269.50" y1="476.94" x2="266.30" y2="476.94" stroke="#000" stroke-width="1.00"/>
<line x1="36.50" y1="470.27" x2="39.70" y2="470.27" stroke="#000" stroke-width="1.00"/>
<line x1="269.50" y1="470.27" x2="266.30" y2="470.27" stroke="#000" stroke-width="1.00"/>
<line x1="36.50" y1="463.60" x2="41.90" y2="463.60" stroke="#000" stroke-width="1.00"/>
<line x1="269.50" y1="463.60" x2="264.10" y2="463.60" stroke="#000" stroke-width="1.00"/>
<line x1="36.50" y1="456.93" x2="39.70" y2="456.93" stroke="#000" stroke-width="1.00"/>
<line x1="269.50" y1="456.93" x2="266.30" y2="456.93" stroke="#000" stroke-width="1.00"/>
<line x1="36.50" y1="450.26" x2="39.70" y2="450.26" stroke="#000" stroke-width="1.00"/>
<line x1="269.50" y1="450.26" x2="266.30" y2="450.26" stroke="#000" stroke-width="1.00"/>
<line x1="36.50" y1="443.59" x2="39.70" y2="443.59" stroke="#000" stroke-width="1.00"/>
<line x1="269.50" y1="443.59" x2="266.30" y2="443.59" stroke="#000" stroke-width="1.00"/>
<line x1="36.50" y1="436.92" x2="39.70" y2="436.92" stroke="#000" stroke-width="1.00"/>
<line x1="269.50" y1="436.92" x2="266.30" y2="436.92" stroke="#000" stroke-width="1.00"/>
<line x1="36.50" y1="430.25" x2="41.90" y2="430.25" stroke="#000" stroke-width="1.00"/>
<line x1="269.50" y1="430.25" x2="264.10" y2="430.25" stroke="#000" stroke-width="1.00"/>
<line x1="36.50" y1="423.58" x2="39.70" y2="423.58" stroke="#000" stroke-width="1.00"/>
<line x1="269.50" y1="423.58" x2="266.30" y2="423.58" stroke="#000" stroke-width="1.00"/>
<line x1="36.50" y1="416.91" x2="39.70" y2="416.91" stroke="#000" stroke-width="1.00"/>
<line x1="269.50" y1="416.91" x2="266.30" y2="416.91" stroke="#000" stroke-width="1.00"/>
<line x1="36.50" y1="410.24" x2="39.70" y2="410.24" stroke="#000" stroke-width="1.00"/>
<line x1="269.50" y1="410.24" x2="266.30" y2="410.24" stroke="#000" stroke-width="1.00"/>
<line x1="36.50" y1="403.57" x2="39.70" y2="403.57" stroke="#000" stroke-width="1.00"/>
<line x1="269.50" y1="403.57" x2="266.30" y2="403.57" stroke="#000" stroke-width="1.00"/>
<line x1="36.50" y1="396.90" x2="41.90" y2="396.90" stroke="#000" stroke-width="1.00"/>
<line x1="269.50" y1="396.90" x2="264.10" y2="396.90" stroke="#000" stroke-width="1.00"/>
<line x1="36.50" y1="390.23" x2="39.70" y2="390.23" stroke="#000" stroke-width="1.00"/>
<line x1="269.50" y1="390.23" x2="266.30" y2="390.23" stroke="#000" stroke-width="1.00"/>
<line x1="36.50" y1="383.56" x2="39.70" y2="383.56" stroke="#000" stroke-width="1.00"/>
<line x1="269.50" y1="383.56" x2="266.30" y2="383.56" stroke="#000" stroke-width="1.00"/>
<line x1="36.50" y1="376.89" x2="39.70" y2="376.89" stroke="#000" stroke-width="1.00"/>
<line x1="269.50" y1="376.89" x2="266.30" y2="376.89" stroke="#000" stroke-width="1.00"/>
<line x1="36.50" y1="370.22" x2="39.70" y2="370.22" stroke="#000" stroke-width="1.00"/>
<line x1="269.50" y1="370.22" x2="266.30" y2="370.22" stroke="#000" stroke-width="1.00"/>
<line x1="36.50" y1="363.55" x2="41.90" y2="363.55" stroke="#000" stroke-width="1.00"/>
<line x1="269.50" y1="363.55" x2="264.10" y2="363.55" stroke="#000" stroke-width="1.00"/>
<line x1="36.50" y1="356.88" x2="39.70" y2="356.88" stroke="#000" stroke-width="1.00"/>
<line x1="269.50" y1="356.88" x2="266.30" y2="356.88" stroke="#000" stroke-width="1.00"/>
<line x1="36.50" y1="350.21" x2="39.70" y2="350.21" stroke="#000" stroke-width="1.00"/>
<line x1="269.50" y1="350.21" x2="266.30" y2="350.21" stroke="#000" stroke-width="1.00"/>
<line x1="36.50" y1="343.54" x2="39.70" y2="343.54" stroke="#000" stroke-width="1.00"/>
<line x1="269.50" y1="343.54" x2="266.30" y2="343.54" stroke="#000" stroke-width="1.00"/>
<line x1="36.50" y1="336.87" x2="39.70" y2="336.87" stroke="#000" stroke-width="1.00"/>
<line x1="269.50" y1="336.87" x2="266.30" y2="336.87" stroke="#000" stroke-width="1.00"/>
<line x1="36.50" y1="330.20" x2="41.90" y2="330.20" stroke="#000" stroke-width="1.00"/>
<line x1="269.50" y1="330.20" x2="264.10" y2="330.20" stroke="#000" stroke-width="1.00"/>
<rect x="36.50" y="330.20" width="233.00" height="200.10" fill="none" stroke="#111" stroke-width="0.85"/>
<g>
<rect x="46.71" y="336.87" width="6.47" height="13.94" fill="#0052ff"/>
<rect x="59.65" y="336.87" width="7.07" height="13.34" fill="#1affe5"/>
<rect x="66.12" y="336.87" width="6.47" height="13.94" fill="#0090ff"/>
<rect x="104.96" y="336.87" width="6.47" height="13.34" fill="#1affe5"/>
<rect x="124.38" y="336.87" width="6.47" height="13.34" fill="#0090ff"/>
<rect x="195.57" y="336.87" width="7.07" height="13.94" fill="#00d4ff"/>
<rect x="202.04" y="336.87" width="7.07" height="13.94" fill="#001aff"/>
<rect x="208.51" y="336.87" width="7.07" height="13.94" fill="#00d4ff"/>
<rect x="214.99" y="336.87" width="7.07" height="13.94" fill="#00d4ff"/>
<rect x="221.46" y="336.87" width="7.07" height="13.94" fill="#0090ff"/>
<rect x="227.93" y="336.87" width="6.47" height="13.94" fill="#1affe5"/>
<rect x="36.00" y="350.21" width="4.84" height="13.34" fill="#00d4ff"/>
<rect x="40.24" y="350.21" width="7.07" height="13.94" fill="#00d4ff"/>
<rect x="46.71" y="350.21" width="6.47" height="13.94" fill="#1affe5"/>
<rect x="66.12" y="350.21" width="7.07" height="13.94" fill="#5effa2"/>
<rect x="72.60" y="350.21" width="7.07" height="13.94" fill="#5effa2"/>
<rect x="79.07" y="350.21" width="6.47" height="13.94" fill="#00d4ff"/>
<rect x="92.01" y="350.21" width="7.07" height="13.94" fill="#1affe5"/>
<rect x="98.49" y="350.21" width="6.47" height="13.34" fill="#00d4ff"/>
<rect x="156.74" y="350.21" width="6.47" height="13.94" fill="#0090ff"/>
<rect x="169.68" y="350.21" width="6.47" height="13.94" fill="#0090ff"/>
<rect x="189.10" y="350.21" width="7.07" height="13.94" fill="#e5ff1a"/>
<rect x="195.57" y="350.21" width="7.07" height="13.34" fill="#5effa2"/>
<rect x="202.04" y="350.21" width="7.07" height="13.94" fill="#00d4ff"/>
<rect x="208.51" y="350.21" width="7.07" height="13.94" fill="#0052ff"/>
<rect x="214.99" y="350.21" width="7.07" height="13.94" fill="#1affe5"/>
<rect x="221.46" y="350.21" width="7.07" height="13.34" fill="#1affe5"/>
<rect x="227.93" y="350.21" width="7.07" height="13.94" fill="#5effa2"/>
<rect x="234.40" y="350.21" width="7.07" height="13.94" fill="#00d4ff"/>
<rect x="240.88" y="350.21" width="7.07" height="13.94" fill="#00d4ff"/>
<rect x="247.35" y="350.21" width="6.47" height="13.94" fill="#5effa2"/>
<rect x="260.29" y="350.21" width="6.47" height="13.94" fill="#00d4ff"/>
<rect x="40.24" y="363.55" width="7.07" height="13.94" fill="#0052ff"/>
<rect x="46.71" y="363.55" width="7.07" height="13.94" fill="#0090ff"/>
<rect x="53.18" y="363.55" width="7.07" height="13.94" fill="#ffd500"/>
<rect x="59.65" y="363.55" width="7.07" height="13.94" fill="#a2ff5e"/>
<rect x="66.12" y="363.55" width="7.07" height="13.94" fill="#001aff"/>
<rect x="72.60" y="363.55" width="7.07" height="13.94" fill="#0090ff"/>
<rect x="79.07" y="363.55" width="7.07" height="13.94" fill="#5effa2"/>
<rect x="85.54" y="363.55" width="7.07" height="13.94" fill="#ff9100"/>
<rect x="92.01" y="363.55" width="6.47" height="13.94" fill="#ffd500"/>
<rect x="124.38" y="363.55" width="6.47" height="13.94" fill="#0090ff"/>
<rect x="143.79" y="363.55" width="7.07" height="13.94" fill="#ffd500"/>
<rect x="150.26" y="363.55" width="7.07" height="13.94" fill="#ff4c00"/>
<rect x="156.74" y="363.55" width="7.07" height="13.34" fill="#e5ff1a"/>
<rect x="163.21" y="363.55" width="7.07" height="13.94" fill="#a2ff5e"/>
<rect x="169.68" y="363.55" width="6.47" height="13.94" fill="#1affe5"/>
<rect x="182.62" y="363.55" width="7.07" height="13.94" fill="#00d4ff"/>
<rect x="189.10" y="363.55" width="6.47" height="13.94" fill="#e5ff1a"/>
<rect x="202.04" y="363.55" width="7.07" height="13.94" fill="#ff9100"/>
<rect x="208.51" y="363.55" width="7.07" height="13.94" fill="#00d4ff"/>
<rect x="214.99" y="363.55" width="6.47" height="13.94" fill="#0090ff"/>
<rect x="227.93" y="363.55" width="7.07" height="13.94" fill="#a2ff5e"/>
<rect x="234.40" y="363.55" width="7.07" height="13.94" fill="#0052ff"/>
<rect x="240.88" y="363.55" width="7.07" height="13.94" fill="#001aff"/>
<rect x="247.35" y="363.55" width="6.47" height="13.94" fill="#00d4ff"/>
<rect x="260.29" y="363.55" width="7.07" height="13.94" fill="#0052ff"/>
<rect x="266.76" y="363.55" width="2.74" height="13.94" fill="#0052ff"/>
<rect x="36.00" y="376.89" width="4.84" height="13.94" fill="#0090ff"/>
<rect x="40.24" y="376.89" width="7.07" height="13.94" fill="#1affe5"/>
<rect x="46.71" y="376.89" width="7.07" height="13.94" fill="#00f6ff"/>
<rect x="53.18" y="376.89" width="7.07" height="13.94" fill="#fff700"/>
<rect x="59.65" y="376.89" width="7.07" height="13.94" fill="#0052ff"/>
<rect x="66.12" y="376.89" width="7.07" height="13.94" fill="#1affe5"/>
<rect x="72.60" y="376.89" width="7.07" height="13.94" fill="#1affe5"/>
<rect x="79.07" y="376.89" width="7.07" height="13.94" fill="#e5ff1a"/>
<rect x="85.54" y="376.89" width="7.07" height="13.94" fill="#80ff80"/>
<rect x="92.01" y="376.89" width="7.07" height="13.94" fill="#c3ff3c"/>
<rect x="98.49" y="376.89" width="7.07" height="13.94" fill="#ff4c00"/>
<rect x="104.96" y="376.89" width="6.47" height="13.94" fill="#e5ff1a"/>
<rect x="124.38" y="376.89" width="7.07" height="13.94" fill="#fff700"/>
<rect x="130.85" y="376.89" width="7.07" height="13.94" fill="#ff4c00"/>
<rect x="137.32" y="376.89" width="7.07" height="13.34" fill="#ff4c00"/>
<rect x="143.79" y="376.89" width="7.07" height="13.94" fill="#ffd500"/>
<rect x="150.26" y="376.89" width="6.47" height="13.94" fill="#5effa2"/>
<rect x="163.21" y="376.89" width="7.07" height="13.94" fill="#80ff80"/>
<rect x="169.68" y="376.89" width="7.07" height="13.34" fill="#0090ff"/>
<rect x="176.15" y="376.89" width="7.07" height="13.34" fill="#800000"/>
<rect x="182.62" y="376.89" width="7.07" height="13.94" fill="#ffd500"/>
<rect x="189.10" y="376.89" width="7.07" height="13.94" fill="#ff9100"/>
<rect x="195.57" y="376.89" width="7.07" height="13.94" fill="#c3ff3c"/>
<rect x="202.04" y="376.89" width="7.07" height="13.94" fill="#5effa2"/>
<rect x="208.51" y="376.89" width="7.07" height="13.94" fill="#fff700"/>
<rect x="214.99" y="376.89" width="7.07" height="13.94" fill="#a2ff5e"/>
<rect x="221.46" y="376.89" width="7.07" height="13.94" fill="#80ff80"/>
<rect x="227.93" y="376.89" width="7.07" height="13.94" fill="#a2ff5e"/>
<rect x="234.40" y="376.89" width="7.07" height="13.94" fill="#80ff80"/>
<rect x="240.88" y="376.89" width="7.07" height="13.94" fill="#0090ff"/>
<rect x="247.35" y="376.89" width="7.07" height="13.94" fill="#00f6ff"/>
<rect x="253.82" y="376.89" width="7.07" height="13.94" fill="#0052ff"/>
<rect x="260.29" y="376.89" width="7.07" height="13.94" fill="#e5ff1a"/>
<rect x="266.76" y="376.89" width="2.74" height="13.94" fill="#006eff"/>
<rect x="36.00" y="390.23" width="4.84" height="13.94" fill="#0090ff"/>
<rect x="40.24" y="390.23" width="7.07" height="13.94" fill="#00d4ff"/>
<rect x="46.71" y="390.23" width="7.07" height="13.94" fill="#00f6ff"/>
<rect x="53.18" y="390.23" width="7.07" height="13.94" fill="#ffd500"/>
<rect x="59.65" y="390.23" width="7.07" height="13.94" fill="#1affe5"/>
<rect x="66.12" y="390.23" width="7.07" height="13.94" fill="#1affe5"/>
<rect x="72.60" y="390.23" width="7.07" height="13.94" fill="#e5ff1a"/>
<rect x="79.07" y="390.23" width="7.07" height="13.94" fill="#ff4c00"/>
<rect x="85.54" y="390.23" width="7.07" height="13.94" fill="#ff4c00"/>
<rect x="92.01" y="390.23" width="7.07" height="13.94" fill="#ffd500"/>
<rect x="98.49" y="390.23" width="7.07" height="13.94" fill="#ff9100"/>
<rect x="104.96" y="390.23" width="7.07" height="13.94" fill="#ff2a00"/>
<rect x="111.43" y="390.23" width="7.07" height="13.94" fill="#ff6e00"/>
<rect x="117.90" y="390.23" width="7.07" height="13.94" fill="#fff700"/>
<rect x="124.38" y="390.23" width="7.07" height="13.94" fill="#80ff80"/>
<rect x="130.85" y="390.23" width="6.47" height="13.94" fill="#ffb300"/>
<rect x="143.79" y="390.23" width="7.07" height="13.94" fill="#00f6ff"/>
<rect x="150.26" y="390.23" width="7.07" height="13.94" fill="#e5ff1a"/>
<rect x="156.74" y="390.23" width="7.07" height="13.94" fill="#00f6ff"/>
<rect x="163.21" y="390.23" width="6.47" height="13.94" fill="#00d4ff"/>
<rect x="182.62" y="390.23" width="7.07" height="13.94" fill="#e5ff1a"/>
<rect x="189.10" y="390.23" width="7.07" height="13.94" fill="#ffd500"/>
<rect x="195.57" y="390.23" width="7.07" height="13.94" fill="#ff9100"/>
<rect x="202.04" y="390.23" width="7.07" height="13.94" fill="#002aff"/>
<rect x="208.51" y="390.23" width="7.07" height="13.94" fill="#0052ff"/>
<rect x="214.99" y="390.23" width="7.07" height="13.94" fill="#e5ff1a"/>
<rect x="221.46" y="390.23" width="7.07" height="13.94" fill="#5effa2"/>
<rect x="227.93" y="390.23" width="7.07" height="13.94" fill="#a2ff5e"/>
<rect x="234.40" y="390.23" width="7.07" height="13.34" fill="#00d4ff"/>
<rect x="240.88" y="390.23" width="7.07" height="13.94" fill="#1affe5"/>
<rect x="247.35" y="390.23" width="7.07" height="13.94" fill="#00d4ff"/>
<rect x="253.82" y="390.23" width="7.07" height="13.94" fill="#00b2ff"/>
<rect x="260.29" y="390.23" width="7.07" height="13.94" fill="#006eff"/>
<rect x="266.76" y="390.23" width="2.74" height="13.34" fill="#006eff"/>
<rect x="36.00" y="403.57" width="4.84" height="13.34" fill="#00f6ff"/>
<rect x="40.24" y="403.57" width="7.07" height="13.94" fill="#006eff"/>
<rect x="46.71" y="403.57" width="7.07" height="13.94" fill="#0052ff"/>
<rect x="53.18" y="403.57" width="7.07" height="13.94" fill="#0090ff"/>
<rect x="59.65" y="403.57" width="7.07" height="13.94" fill="#0052ff"/>
<rect x="66.12" y="403.57" width="7.07" height="13.94" fill="#00d4ff"/>
<rect x="72.60" y="403.57" width="7.07" height="13.94" fill="#5effa2"/>
<rect x="79.07" y="403.57" width="7.07" height="13.94" fill="#e5ff1a"/>
<rect x="85.54" y="403.57" width="7.07" height="13.94" fill="#ff4c00"/>
<rect x="92.01" y="403.57" width="7.07" height="13.94" fill="#e5ff1a"/>
<rect x="98.49" y="403.57" width="7.07" height="13.94" fill="#ff4c00"/>
<rect x="104.96" y="403.57" width="7.07" height="13.94" fill="#ffd500"/>
<rect x="111.43" y="403.57" width="7.07" height="13.94" fill="#ff0800"/>
<rect x="117.90" y="403.57" width="7.07" height="13.94" fill="#ff9100"/>
<rect x="124.38" y="403.57" width="7.07" height="13.94" fill="#00f6ff"/>
<rect x="130.85" y="403.57" width="7.07" height="13.94" fill="#ffb300"/>
<rect x="137.32" y="403.57" width="7.07" height="13.94" fill="#ffd500"/>
<rect x="143.79" y="403.57" width="7.07" height="13.94" fill="#ffb300"/>
<rect x="150.26" y="403.57" width="7.07" height="13.94" fill="#a2ff5e"/>
<rect x="156.74" y="403.57" width="7.07" height="13.34" fill="#a2ff5e"/>
<rect x="163.21" y="403.57" width="7.07" height="13.94" fill="#00d4ff"/>
<rect x="169.68" y="403.57" width="7.07" height="13.94" fill="#002aff"/>
<rect x="176.15" y="403.57" width="7.07" height="13.94" fill="#3cffc3"/>
<rect x="182.62" y="403.57" width="7.07" height="13.94" fill="#a2ff5e"/>
<rect x="189.10" y="403.57" width="7.07" height="13.94" fill="#c30000"/>
<rect x="195.57" y="403.57" width="7.07" height="13.94" fill="#5effa2"/>
<rect x="202.04" y="403.57" width="7.07" height="13.94" fill="#1affe5"/>
<rect x="208.51" y="403.57" width="7.07" height="13.94" fill="#00f6ff"/>
<rect x="214.99" y="403.57" width="7.07" height="13.94" fill="#00d4ff"/>
<rect x="221.46" y="403.57" width="7.07" height="13.94" fill="#a2ff5e"/>
<rect x="227.93" y="403.57" width="6.47" height="13.94" fill="#0090ff"/>
<rect x="240.88" y="403.57" width="7.07" height="13.94" fill="#e5ff1a"/>
<rect x="247.35" y="403.57" width="7.07" height="13.34" fill="#0052ff"/>
<rect x="253.82" y="403.57" width="7.07" height="13.94" fill="#0090ff"/>
<rect x="260.29" y="403.57" width="6.47" height="13.94" fill="#00d4ff"/>
<rect x="40.24" y="416.91" width="7.07" height="13.94" fill="#00f6ff"/>
<rect x="46.71" y="416.91" width="7.07" height="13.34" fill="#00f6ff"/>
<rect x="53.18" y="416.91" width="7.07" height="13.34" fill="#0090ff"/>
<rect x="59.65" y="416.91" width="7.07" height="13.94" fill="#1affe5"/>
<rect x="66.12" y="416.91" width="7.07" height="13.94" fill="#ffd500"/>
<rect x="72.60" y="416.91" width="7.07" height="13.94" fill="#00f6ff"/>
<rect x="79.07" y="416.91" width="7.07" height="13.94" fill="#e50000"/>
<rect x="85.54" y="416.91" width="7.07" height="13.94" fill="#1affe5"/>
<rect x="92.01" y="416.91" width="7.07" height="13.94" fill="#3cffc3"/>
<rect x="98.49" y="416.91" width="7.07" height="13.94" fill="#fff700"/>
<rect x="104.96" y="416.91" width="7.07" height="13.94" fill="#ff0800"/>
<rect x="111.43" y="416.91" width="7.07" height="13.94" fill="#c30000"/>
<rect x="117.90" y="416.91" width="7.07" height="13.94" fill="#ff4c00"/>
<rect x="124.38" y="416.91" width="7.07" height="13.94" fill="#ff9100"/>
<rect x="130.85" y="416.91" width="7.07" height="13.94" fill="#ff4c00"/>
<rect x="137.32" y="416.91" width="7.07" height="13.94" fill="#0090ff"/>
<rect x="143.79" y="416.91" width="7.07" height="13.94" fill="#80ff80"/>
<rect x="150.26" y="416.91" width="6.47" height="13.94" fill="#3cffc3"/>
<rect x="163.21" y="416.91" width="7.07" height="13.94" fill="#0052ff"/>
<rect x="169.68" y="416.91" width="7.07" height="13.94" fill="#00d4ff"/>
<rect x="176.15" y="416.91" width="7.07" height="13.94" fill="#00f6ff"/>
<rect x="182.62" y="416.91" width="7.07" height="13.94" fill="#ffd500"/>
<rect x="189.10" y="416.91" width="7.07" height="13.94" fill="#00d4ff"/>
<rect x="195.57" y="416.91" width="7.07" height="13.94" fill="#5effa2"/>
<rect x="202.04" y="416.91" width="7.07" height="13.94" fill="#80ff80"/>
<rect x="208.51" y="416.91" width="7.07" height="13.94" fill="#ffd500"/>
<rect x="214.99" y="416.91" width="7.07" height="13.94" fill="#e5ff1a"/>
<rect x="221.46" y="416.91" width="7.07" height="13.94" fill="#5effa2"/>
<rect x="227.93" y="416.91" width="7.07" height="13.94" fill="#a2ff5e"/>
<rect x="234.40" y="416.91" width="7.07" height="13.94" fill="#0000e6"/>
<rect x="240.88" y="416.91" width="6.47" height="13.94" fill="#0090ff"/>
<rect x="253.82" y="416.91" width="7.07" height="13.94" fill="#00d4ff"/>
<rect x="260.29" y="416.91" width="6.47" height="13.94" fill="#0052ff"/>
<rect x="36.00" y="430.25" width="4.84" height="13.94" fill="#001aff"/>
<rect x="40.24" y="430.25" width="6.47" height="13.94" fill="#00d4ff"/>
<rect x="59.65" y="430.25" width="7.07" height="13.94" fill="#00d4ff"/>
<rect x="66.12" y="430.25" width="7.07" height="13.94" fill="#a2ff5e"/>
<rect x="72.60" y="430.25" width="7.07" height="13.94" fill="#ff9100"/>
<rect x="79.07" y="430.25" width="7.07" height="13.94" fill="#ffd500"/>
<rect x="85.54" y="430.25" width="7.07" height="13.94" fill="#e5ff1a"/>
<rect x="92.01" y="430.25" width="7.07" height="13.94" fill="#e5ff1a"/>
<rect x="98.49" y="430.25" width="7.07" height="13.94" fill="#ff4c00"/>
<rect x="104.96" y="430.25" width="7.07" height="13.94" fill="#a20000"/>
<rect x="111.43" y="430.25" width="7.07" height="13.94" fill="#a2ff5e"/>
<rect x="117.90" y="430.25" width="7.07" height="13.94" fill="#ffd500"/>
<rect x="124.38" y="430.25" width="7.07" height="13.94" fill="#ff9100"/>
<rect x="130.85" y="430.25" width="7.07" height="13.94" fill="#ffd500"/>
<rect x="137.32" y="430.25" width="7.07" height="13.94" fill="#00f6ff"/>
<rect x="143.79" y="430.25" width="7.07" height="13.94" fill="#ffb300"/>
<rect x="150.26" y="430.25" width="7.07" height="13.94" fill="#ffd500"/>
<rect x="156.74" y="430.25" width="7.07" height="13.94" fill="#ffd500"/>
<rect x="163.21" y="430.25" width="7.07" height="13.34" fill="#ff6e00"/>
<rect x="169.68" y="430.25" width="7.07" height="13.94" fill="#00b2ff"/>
<rect x="176.15" y="430.25" width="7.07" height="13.94" fill="#e5ff1a"/>
<rect x="182.62" y="430.25" width="7.07" height="13.94" fill="#ffd500"/>
<rect x="189.10" y="430.25" width="7.07" height="13.94" fill="#ff0800"/>
<rect x="195.57" y="430.25" width="7.07" height="13.94" fill="#80ff80"/>
<rect x="202.04" y="430.25" width="7.07" height="13.94" fill="#ff0800"/>
<rect x="208.51" y="430.25" width="7.07" height="13.94" fill="#ff4c00"/>
<rect x="214.99" y="430.25" width="7.07" height="13.94" fill="#80ff80"/>
<rect x="221.46" y="430.25" width="7.07" height="13.94" fill="#1affe5"/>
<rect x="227.93" y="430.25" width="7.07" height="13.94" fill="#00f6ff"/>
<rect x="234.40" y="430.25" width="7.07" height="13.94" fill="#00f6ff"/>
<rect x="240.88" y="430.25" width="7.07" height="13.94" fill="#002aff"/>
<rect x="247.35" y="430.25" width="7.07" height="13.94" fill="#001aff"/>
<rect x="253.82" y="430.25" width="7.07" height="13.94" fill="#a2ff5e"/>
<rect x="260.29" y="430.25" width="7.07" height="13.94" fill="#00f6ff"/>
<rect x="266.76" y="430.25" width="2.74" height="13.94" fill="#000080"/>
<rect x="36.00" y="443.59" width="4.84" height="13.34" fill="#006eff"/>
<rect x="40.24" y="443.59" width="7.07" height="13.94" fill="#0052ff"/>
<rect x="46.71" y="443.59" width="7.07" height="13.94" fill="#5effa2"/>
<rect x="53.18" y="443.59" width="7.07" height="13.94" fill="#5effa2"/>
<rect x="59.65" y="443.59" width="7.07" height="13.94" fill="#00d4ff"/>
<rect x="66.12" y="443.59" width="7.07" height="13.94" fill="#e5ff1a"/>
<rect x="72.60" y="443.59" width="7.07" height="13.94" fill="#c3ff3c"/>
<rect x="79.07" y="443.59" width="7.07" height="13.94" fill="#a2ff5e"/>
<rect x="85.54" y="443.59" width="7.07" height="13.94" fill="#e5ff1a"/>
<rect x="92.01" y="443.59" width="7.07" height="13.94" fill="#fff700"/>
<rect x="98.49" y="443.59" width="7.07" height="13.94" fill="#ff0800"/>
<rect x="104.96" y="443.59" width="7.07" height="13.94" fill="#ffb300"/>
<rect x="111.43" y="443.59" width="7.07" height="13.94" fill="#ff6e00"/>
<rect x="117.90" y="443.59" width="7.07" height="13.94" fill="#ff0800"/>
<rect x="124.38" y="443.59" width="7.07" height="13.94" fill="#ffd500"/>
<rect x="130.85" y="443.59" width="7.07" height="13.94" fill="#ffd500"/>
<rect x="137.32" y="443.59" width="7.07" height="13.94" fill="#ff9100"/>
<rect x="143.79" y="443.59" width="7.07" height="13.94" fill="#e5ff1a"/>
<rect x="150.26" y="443.59" width="7.07" height="13.94" fill="#e5ff1a"/>
<rect x="156.74" y="443.59" width="6.47" height="13.94" fill="#5effa2"/>
<rect x="169.68" y="443.59" width="7.07" height="13.94" fill="#ffb300"/>
<rect x="176.15" y="443.59" width="7.07" height="13.94" fill="#ff4c00"/>
<rect x="182.62" y="443.59" width="7.07" height="13.94" fill="#c30000"/>
<rect x="189.10" y="443.59" width="7.07" height="13.94" fill="#e50000"/>
<rect x="195.57" y="443.59" width="7.07" height="13.94" fill="#ff0800"/>
<rect x="202.04" y="443.59" width="7.07" height="13.94" fill="#ff0800"/>
<rect x="208.51" y="443.59" width="7.07" height="13.94" fill="#ff9100"/>
<rect x="214.99" y="443.59" width="7.07" height="13.94" fill="#c3ff3c"/>
<rect x="221.46" y="443.59" width="7.07" height="13.94" fill="#5effa2"/>
<rect x="227.93" y="443.59" width="7.07" height="13.94" fill="#3cffc3"/>
<rect x="234.40" y="443.59" width="7.07" height="13.94" fill="#00d4ff"/>
<rect x="240.88" y="443.59" width="7.07" height="13.94" fill="#00b2ff"/>
<rect x="247.35" y="443.59" width="7.07" height="13.94" fill="#1affe5"/>
<rect x="253.82" y="443.59" width="7.07" height="13.94" fill="#00d4ff"/>
<rect x="260.29" y="443.59" width="7.07" height="13.94" fill="#00d4ff"/>
<rect x="266.76" y="443.59" width="2.74" height="13.94" fill="#0090ff"/>
<rect x="40.24" y="456.93" width="7.07" height="13.94" fill="#00d4ff"/>
<rect x="46.71" y="456.93" width="7.07" height="13.94" fill="#0090ff"/>
<rect x="53.18" y="456.93" width="7.07" height="13.94" fill="#a2ff5e"/>
<rect x="59.65" y="456.93" width="7.07" height="13.94" fill="#00f6ff"/>
<rect x="66.12" y="456.93" width="7.07" height="13.94" fill="#80ff80"/>
<rect x="72.60" y="456.93" width="7.07" height="13.94" fill="#e5ff1a"/>
<rect x="79.07" y="456.93" width="7.07" height="13.94" fill="#ff9100"/>
<rect x="85.54" y="456.93" width="7.07" height="13.94" fill="#ff6e00"/>
<rect x="92.01" y="456.93" width="7.07" height="13.94" fill="#c30000"/>
<rect x="98.49" y="456.93" width="7.07" height="13.94" fill="#ff4c00"/>
<rect x="104.96" y="456.93" width="7.07" height="13.34" fill="#ff9100"/>
<rect x="111.43" y="456.93" width="7.07" height="13.94" fill="#ffb300"/>
<rect x="117.90" y="456.93" width="7.07" height="13.94" fill="#5effa2"/>
<rect x="124.38" y="456.93" width="7.07" height="13.94" fill="#5effa2"/>
<rect x="130.85" y="456.93" width="7.07" height="13.94" fill="#5effa2"/>
<rect x="137.32" y="456.93" width="7.07" height="13.94" fill="#00f6ff"/>
<rect x="143.79" y="456.93" width="7.07" height="13.94" fill="#00f6ff"/>
<rect x="150.26" y="456.93" width="7.07" height="13.94" fill="#1affe5"/>
<rect x="156.74" y="456.93" width="7.07" height="13.94" fill="#c3ff3c"/>
<rect x="163.21" y="456.93" width="7.07" height="13.94" fill="#5effa2"/>
<rect x="169.68" y="456.93" width="7.07" height="13.94" fill="#c3ff3c"/>
<rect x="176.15" y="456.93" width="7.07" height="13.34" fill="#fff700"/>
<rect x="182.62" y="456.93" width="7.07" height="13.94" fill="#00b2ff"/>
<rect x="189.10" y="456.93" width="7.07" height="13.94" fill="#e5ff1a"/>
<rect x="195.57" y="456.93" width="7.07" height="13.94" fill="#5effa2"/>
<rect x="202.04" y="456.93" width="7.07" height="13.94" fill="#5effa2"/>
<rect x="208.51" y="456.93" width="7.07" height="13.94" fill="#00f6ff"/>
<rect x="214.99" y="456.93" width="7.07" height="13.94" fill="#006eff"/>
<rect x="221.46" y="456.93" width="7.07" height="13.94" fill="#0090ff"/>
<rect x="227.93" y="456.93" width="7.07" height="13.94" fill="#0090ff"/>
<rect x="234.40" y="456.93" width="7.07" height="13.34" fill="#a2ff5e"/>
<rect x="240.88" y="456.93" width="7.07" height="13.94" fill="#5effa2"/>
<rect x="247.35" y="456.93" width="7.07" height="13.94" fill="#00d4ff"/>
<rect x="253.82" y="456.93" width="7.07" height="13.94" fill="#006eff"/>
<rect x="260.29" y="456.93" width="7.07" height="13.94" fill="#001aff"/>
<rect x="266.76" y="456.93" width="2.74" height="13.94" fill="#00d4ff"/>
<rect x="36.00" y="470.27" width="4.84" height="13.34" fill="#00d4ff"/>
<rect x="40.24" y="470.27" width="7.07" height="13.94" fill="#5effa2"/>
<rect x="46.71" y="470.27" width="7.07" height="13.94" fill="#00f6ff"/>
<rect x="53.18" y="470.27" width="7.07" height="13.94" fill="#3cffc3"/>
<rect x="59.65" y="470.27" width="7.07" height="13.94" fill="#5effa2"/>
<rect x="66.12" y="470.27" width="7.07" height="13.94" fill="#ffd500"/>
<rect x="72.60" y="470.27" width="7.07" height="13.94" fill="#a2ff5e"/>
<rect x="79.07" y="470.27" width="7.07" height="13.94" fill="#a2ff5e"/>
<rect x="85.54" y="470.27" width="7.07" height="13.34" fill="#ff6e00"/>
<rect x="92.01" y="470.27" width="7.07" height="13.34" fill="#e5ff1a"/>
<rect x="98.49" y="470.27" width="6.47" height="13.94" fill="#5effa2"/>
<rect x="111.43" y="470.27" width="7.07" height="13.34" fill="#ff4c00"/>
<rect x="117.90" y="470.27" width="7.07" height="13.34" fill="#e5ff1a"/>
<rect x="124.38" y="470.27" width="7.07" height="13.34" fill="#c3ff3c"/>
<rect x="130.85" y="470.27" width="7.07" height="13.34" fill="#c3ff3c"/>
<rect x="137.32" y="470.27" width="7.07" height="13.94" fill="#0090ff"/>
<rect x="143.79" y="470.27" width="7.07" height="13.34" fill="#5effa2"/>
<rect x="150.26" y="470.27" width="7.07" height="13.94" fill="#a2ff5e"/>
<rect x="156.74" y="470.27" width="7.07" height="13.94" fill="#a2ff5e"/>
<rect x="163.21" y="470.27" width="7.07" height="13.94" fill="#5effa2"/>
<rect x="169.68" y="470.27" width="6.47" height="13.34" fill="#0090ff"/>
<rect x="182.62" y="470.27" width="7.07" height="13.94" fill="#006eff"/>
<rect x="189.10" y="470.27" width="7.07" height="13.94" fill="#5effa2"/>
<rect x="195.57" y="470.27" width="7.07" height="13.94" fill="#1affe5"/>
<rect x="202.04" y="470.27" width="7.07" height="13.94" fill="#00f6ff"/>
<rect x="208.51" y="470.27" width="7.07" height="13.94" fill="#80ff80"/>
<rect x="214.99" y="470.27" width="7.07" height="13.94" fill="#a2ff5e"/>
<rect x="221.46" y="470.27" width="7.07" height="13.94" fill="#ff4c00"/>
<rect x="227.93" y="470.27" width="6.47" height="13.34" fill="#5effa2"/>
<rect x="240.88" y="470.27" width="7.07" height="13.34" fill="#80ff80"/>
<rect x="247.35" y="470.27" width="7.07" height="13.94" fill="#0052ff"/>
<rect x="253.82" y="470.27" width="7.07" height="13.34" fill="#00f6ff"/>
<rect x="260.29" y="470.27" width="7.07" height="13.34" fill="#00f6ff"/>
<rect x="266.76" y="470.27" width="2.74" height="13.34" fill="#00d4ff"/>
<rect x="40.24" y="483.61" width="7.07" height="13.34" fill="#a2ff5e"/>
<rect x="46.71" y="483.61" width="7.07" height="13.34" fill="#ff9100"/>
<rect x="53.18" y="483.61" width="7.07" height="13.94" fill="#0090ff"/>
<rect x="59.65" y="483.61" width="7.07" height="13.34" fill="#5effa2"/>
<rect x="66.12" y="483.61" width="7.07" height="13.94" fill="#e5ff1a"/>
<rect x="72.60" y="483.61" width="7.07" height="13.94" fill="#1affe5"/>
<rect x="79.07" y="483.61" width="6.47" height="13.94" fill="#5effa2"/>
<rect x="98.49" y="483.61" width="6.47" height="13.94" fill="#a2ff5e"/>
<rect x="137.32" y="483.61" width="6.47" height="13.34" fill="#00d4ff"/>
<rect x="150.26" y="483.61" width="7.07" height="13.34" fill="#e5ff1a"/>
<rect x="156.74" y="483.61" width="7.07" height="13.34" fill="#1affe5"/>
<rect x="163.21" y="483.61" width="6.47" height="13.34" fill="#ffd500"/>
<rect x="182.62" y="483.61" width="7.07" height="13.34" fill="#00d4ff"/>
<rect x="189.10" y="483.61" width="7.07" height="13.34" fill="#ff9100"/>
<rect x="195.57" y="483.61" width="7.07" height="13.34" fill="#1affe5"/>
<rect x="202.04" y="483.61" width="7.07" height="13.34" fill="#e5ff1a"/>
<rect x="208.51" y="483.61" width="7.07" height="13.94" fill="#0090ff"/>
<rect x="214.99" y="483.61" width="7.07" height="13.94" fill="#a2ff5e"/>
<rect x="221.46" y="483.61" width="6.47" height="13.94" fill="#1affe5"/>
<rect x="234.40" y="483.61" width="6.47" height="13.34" fill="#0000db"/>
<rect x="247.35" y="483.61" width="6.47" height="13.94" fill="#1affe5"/>
<rect x="53.18" y="496.95" width="6.47" height="13.34" fill="#0052ff"/>
<rect x="66.12" y="496.95" width="7.07" height="13.34" fill="#ff9100"/>
<rect x="72.60" y="496.95" width="7.07" height="13.94" fill="#ffd500"/>
<rect x="79.07" y="496.95" width="7.07" height="13.94" fill="#5effa2"/>
<rect x="85.54" y="496.95" width="7.07" height="13.94" fill="#00d4ff"/>
<rect x="92.01" y="496.95" width="7.07" height="13.94" fill="#5effa2"/>
<rect x="98.49" y="496.95" width="7.07" height="13.94" fill="#ff4c00"/>
<rect x="104.96" y="496.95" width="6.47" height="13.34" fill="#0090ff"/>
<rect x="117.90" y="496.95" width="7.07" height="13.34" fill="#5effa2"/>
<rect x="124.38" y="496.95" width="6.47" height="13.34" fill="#5effa2"/>
<rect x="169.68" y="496.95" width="6.47" height="13.34" fill="#0052ff"/>
<rect x="208.51" y="496.95" width="7.07" height="13.34" fill="#a2ff5e"/>
<rect x="214.99" y="496.95" width="7.07" height="13.94" fill="#5effa2"/>
<rect x="221.46" y="496.95" width="6.47" height="13.94" fill="#5effa2"/>
<rect x="247.35" y="496.95" width="6.47" height="13.94" fill="#001aff"/>
<rect x="72.60" y="510.29" width="7.07" height="13.34" fill="#ffd500"/>
<rect x="79.07" y="510.29" width="7.07" height="13.34" fill="#a2ff5e"/>
<rect x="85.54" y="510.29" width="7.07" height="13.34" fill="#a2ff5e"/>
<rect x="92.01" y="510.29" width="7.07" height="13.34" fill="#e5ff1a"/>
<rect x="98.49" y="510.29" width="6.47" height="13.34" fill="#a2ff5e"/>
<rect x="111.43" y="510.29" width="6.47" height="13.34" fill="#5effa2"/>
<rect x="214.99" y="510.29" width="7.07" height="13.34" fill="#0052ff"/>
<rect x="221.46" y="510.29" width="7.07" height="13.34" fill="#00d4ff"/>
<rect x="227.93" y="510.29" width="7.07" height="13.34" fill="#1affe5"/>
<rect x="234.40" y="510.29" width="7.07" height="13.34" fill="#a2ff5e"/>
<rect x="240.88" y="510.29" width="7.07" height="13.34" fill="#e5ff1a"/>
<rect x="247.35" y="510.29" width="6.47" height="13.34" fill="#0052ff"/>
</g>
<text x="37.20" y="541.50" font-size="11.50" text-anchor="middle" font-weight="normal" fill="#000" stroke="#000" stroke-width="0.30" >-180</text>
<text x="65.42" y="541.50" font-size="11.50" text-anchor="middle" font-weight="normal" fill="#000" stroke="#000" stroke-width="0.30" >-135</text>
<text x="94.10" y="541.50" font-size="11.50" text-anchor="middle" font-weight="normal" fill="#000" stroke="#000" stroke-width="0.30" >-90</text>
<text x="122.38" y="541.50" font-size="11.50" text-anchor="middle" font-weight="normal" fill="#000" stroke="#000" stroke-width="0.30" >-45</text>
<text x="153.00" y="541.50" font-size="11.50" text-anchor="middle" font-weight="normal" fill="#000" stroke="#000" stroke-width="0.30" >0</text>
<text x="182.22" y="541.50" font-size="11.50" text-anchor="middle" font-weight="normal" fill="#000" stroke="#000" stroke-width="0.30" >45</text>
<text x="210.95" y="541.50" font-size="11.50" text-anchor="middle" font-weight="normal" fill="#000" stroke="#000" stroke-width="0.30" >90</text>
<text x="240.97" y="541.50" font-size="11.50" text-anchor="middle" font-weight="normal" fill="#000" stroke="#000" stroke-width="0.30" >135</text>
<text x="267.50" y="541.50" font-size="11.50" text-anchor="middle" font-weight="normal" fill="#000" stroke="#000" stroke-width="0.30" >180</text>
<text x="30.70" y="532.90" font-size="11.20" text-anchor="end" font-weight="normal" fill="#000" stroke="#000" stroke-width="0.30" >-30</text>
<text x="30.70" y="500.65" font-size="11.20" text-anchor="end" font-weight="normal" fill="#000" stroke="#000" stroke-width="0.30" >-20</text>
<text x="30.70" y="467.30" font-size="11.20" text-anchor="end" font-weight="normal" fill="#000" stroke="#000" stroke-width="0.30" >-10</text>
<text x="30.70" y="433.95" font-size="11.20" text-anchor="end" font-weight="normal" fill="#000" stroke="#000" stroke-width="0.30" >0</text>
<text x="30.70" y="400.60" font-size="11.20" text-anchor="end" font-weight="normal" fill="#000" stroke="#000" stroke-width="0.30" >10</text>
<text x="30.70" y="367.25" font-size="11.20" text-anchor="end" font-weight="normal" fill="#000" stroke="#000" stroke-width="0.30" >20</text>
<text x="30.70" y="338.70" font-size="11.20" text-anchor="end" font-weight="normal" fill="#000" stroke="#000" stroke-width="0.30" >30</text>
<text x="83.60" y="318.50" font-size="17.40" text-anchor="start" font-weight="bold" fill="#000" stroke="#000" stroke-width="0.20" >Averaged Amplitude</text>
<text x="153.00" y="555.30" font-size="14.40" text-anchor="middle" font-weight="bold" fill="#000" stroke="#000" stroke-width="0.20" >Longitude (°)</text>
<text x="0.00" y="0.00" font-size="14.60" text-anchor="middle" font-weight="bold" fill="#000" stroke="#000" stroke-width="0.20" transform="translate(11.00,429.75) rotate(-90)">Latitude (°)</text>
<line x1="35.90" y1="569.60" x2="269.50" y2="569.60" stroke="#ff0000" stroke-width="1.00"/>
<line x1="35.90" y1="569.60" x2="35.90" y2="564.60" stroke="#ff0000" stroke-width="0.90"/>
<line x1="40.77" y1="569.60" x2="40.77" y2="566.80" stroke="#ff0000" stroke-width="0.90"/>
<line x1="45.63" y1="569.60" x2="45.63" y2="566.80" stroke="#ff0000" stroke-width="0.90"/>
<line x1="50.50" y1="569.60" x2="50.50" y2="566.80" stroke="#ff0000" stroke-width="0.90"/>
<line x1="55.37" y1="569.60" x2="55.37" y2="566.80" stroke="#ff0000" stroke-width="0.90"/>
<line x1="60.23" y1="569.60" x2="60.23" y2="566.80" stroke="#ff0000" stroke-width="0.90"/>
<line x1="65.10" y1="569.60" x2="65.10" y2="564.60" stroke="#ff0000" stroke-width="0.90"/>
<line x1="69.97" y1="569.60" x2="69.97" y2="566.80" stroke="#ff0000" stroke-width="0.90"/>
<line x1="74.83" y1="569.60" x2="74.83" y2="566.80" stroke="#ff0000" stroke-width="0.90"/>
<line x1="79.70" y1="569.60" x2="79.70" y2="566.80" stroke="#ff0000" stroke-width="0.90"/>
<line x1="84.57" y1="569.60" x2="84.57" y2="566.80" stroke="#ff0000" stroke-width="0.90"/>
<line x1="89.43" y1="569.60" x2="89.43" y2="566.80" stroke="#ff0000" stroke-width="0.90"/>
<line x1="94.30" y1="569.60" x2="94.30" y2="564.60" stroke="#ff0000" stroke-width="0.90"/>
<line x1="99.17" y1="569.60" x2="99.17" y2="566.80" stroke="#ff0000" stroke-width="0.90"/>
<line x1="104.03" y1="569.60" x2="104.03" y2="566.80" stroke="#ff0000" stroke-width="0.90"/>
<line x1="108.90" y1="569.60" x2="108.90" y2="566.80" stroke="#ff0000" stroke-width="0.90"/>
<line x1="113.77" y1="569.60" x2="113.77" y2="566.80" stroke="#ff0000" stroke-width="0.90"/>
<line x1="118.63" y1="569.60" x2="118.63" y2="566.80" stroke="#ff0000" stroke-width="0.90"/>
<line x1="123.50" y1="569.60" x2="123.50" y2="564.60" stroke="#ff0000" stroke-width="0.90"/>
<line x1="128.37" y1="569.60" x2="128.37" y2="566.80" stroke="#ff0000" stroke-width="0.90"/>
<line x1="133.23" y1="569.60" x2="133.23" y2="566.80" stroke="#ff0000" stroke-width="0.90"/>
<line x1="138.10" y1="569.60" x2="138.10" y2="566.80" stroke="#ff0000" stroke-width="0.90"/>
<line x1="142.97" y1="569.60" x2="142.97" y2="566.80" stroke="#ff0000" stroke-width="0.90"/>
<line x1="147.83" y1="569.60" x2="147.83" y2="566.80" stroke="#ff0000" stroke-width="0.90"/>
<line x1="152.70" y1="569.60" x2="152.70" y2="564.60" stroke="#ff0000" stroke-width="0.90"/>
<line x1="157.57" y1="569.60" x2="157.57" y2="566.80" stroke="#ff0000" stroke-width="0.90"/>
<line x1="162.43" y1="569.60" x2="162.43" y2="566.80" stroke="#ff0000" stroke-width="0.90"/>
<line x1="167.30" y1="569.60" x2="167.30" y2="566.80" stroke="#ff0000" stroke-width="0.90"/>
<line x1="172.17" y1="569.60" x2="172.17" y2="566.80" stroke="#ff0000" stroke-width="0.90"/>
<line x1="177.03" y1="569.60" x2="177.03" y2="566.80" stroke="#ff0000" stroke-width="0.90"/>
<line x1="181.90" y1="569.60" x2="181.90" y2="564.60" stroke="#ff0000" stroke-width="0.90"/>
<line x1="186.77" y1="569.60" x2="186.77" y2="566.80" stroke="#ff0000" stroke-width="0.90"/>
<line x1="191.63" y1="569.60" x2="191.63" y2="566.80" stroke="#ff0000" stroke-width="0.90"/>
<line x1="196.50" y1="569.60" x2="196.50" y2="566.80" stroke="#ff0000" stroke-width="0.90"/>
<line x1="201.37" y1="569.60" x2="201.37" y2="566.80" stroke="#ff0000" stroke-width="0.90"/>
<line x1="206.23" y1="569.60" x2="206.23" y2="566.80" stroke="#ff0000" stroke-width="0.90"/>
<line x1="211.10" y1="569.60" x2="211.10" y2="564.60" stroke="#ff0000" stroke-width="0.90"/>
<line x1="215.97" y1="569.60" x2="215.97" y2="566.80" stroke="#ff0000" stroke-width="0.90"/>
<line x1="220.83" y1="569.60" x2="220.83" y2="566.80" stroke="#ff0000" stroke-width="0.90"/>
<line x1="225.70" y1="569.60" x2="225.70" y2="566.80" stroke="#ff0000" stroke-width="0.90"/>
<line x1="230.57" y1="569.60" x2="230.57" y2="566.80" stroke="#ff0000" stroke-width="0.90"/>
<line x1="235.43" y1="569.60" x2="235.43" y2="566.80" stroke="#ff0000" stroke-width="0.90"/>
<line x1="240.30" y1="569.60" x2="240.30" y2="564.60" stroke="#ff0000" stroke-width="0.90"/>
<line x1="245.17" y1="569.60" x2="245.17" y2="566.80" stroke="#ff0000" stroke-width="0.90"/>
<line x1="250.03" y1="569.60" x2="250.03" y2="566.80" stroke="#ff0000" stroke-width="0.90"/>
<line x1="254.90" y1="569.60" x2="254.90" y2="566.80" stroke="#ff0000" stroke-width="0.90"/>
<line x1="259.77" y1="569.60" x2="259.77" y2="566.80" stroke="#ff0000" stroke-width="0.90"/>
<line x1="264.63" y1="569.60" x2="264.63" y2="566.80" stroke="#ff0000" stroke-width="0.90"/>
<line x1="269.50" y1="569.60" x2="269.50" y2="564.60" stroke="#ff0000" stroke-width="0.90"/>
<text x="36.10" y="581.80" font-size="11.40" text-anchor="middle" font-weight="normal" fill="#ff0000" stroke="#ff0000" stroke-width="0.30" >00</text>
<text x="65.30" y="581.80" font-size="11.40" text-anchor="middle" font-weight="normal" fill="#ff0000" stroke="#ff0000" stroke-width="0.30" >03</text>
<text x="94.50" y="581.80" font-size="11.40" text-anchor="middle" font-weight="normal" fill="#ff0000" stroke="#ff0000" stroke-width="0.30" >06</text>
<text x="123.70" y="581.80" font-size="11.40" text-anchor="middle" font-weight="normal" fill="#ff0000" stroke="#ff0000" stroke-width="0.30" >09</text>
<text x="152.90" y="581.80" font-size="11.40" text-anchor="middle" font-weight="normal" fill="#ff0000" stroke="#ff0000" stroke-width="0.30" >12</text>
<text x="182.10" y="581.80" font-size="11.40" text-anchor="middle" font-weight="normal" fill="#ff0000" stroke="#ff0000" stroke-width="0.30" >15</text>
<text x="211.30" y="581.80" font-size="11.40" text-anchor="middle" font-weight="normal" fill="#ff0000" stroke="#ff0000" stroke-width="0.30" >18</text>
<text x="240.50" y="581.80" font-size="11.40" text-anchor="middle" font-weight="normal" fill="#ff0000" stroke="#ff0000" stroke-width="0.30" >21</text>
<text x="269.70" y="581.80" font-size="11.40" text-anchor="middle" font-weight="normal" fill="#ff0000" stroke="#ff0000" stroke-width="0.30" >24</text>
<text x="153.00" y="594.70" font-size="14.40" text-anchor="middle" font-weight="bold" fill="#ff0000" stroke="#ff0000" stroke-width="0.20" >Local Time (h)</text>
<text x="252.90" y="347.70" font-size="11.00" text-anchor="middle" font-weight="normal" fill="#000" stroke="#000" stroke-width="0.30" >(c)</text>
<rect x="280.50" y="331.10" width="13.00" height="199.40" fill="url(#jetg)"/>
<line x1="293.50" y1="513.95" x2="289.20" y2="513.95" stroke="#000" stroke-width="1.20"/>
<line x1="293.50" y1="501.27" x2="289.20" y2="501.27" stroke="#000" stroke-width="1.20"/>
<line x1="293.50" y1="490.92" x2="289.20" y2="490.92" stroke="#000" stroke-width="1.20"/>
<line x1="293.50" y1="482.16" x2="289.20" y2="482.16" stroke="#000" stroke-width="1.20"/>
<line x1="293.50" y1="474.58" x2="289.20" y2="474.58" stroke="#000" stroke-width="1.20"/>
<line x1="293.50" y1="467.89" x2="289.20" y2="467.89" stroke="#000" stroke-width="1.20"/>
<line x1="293.50" y1="461.90" x2="287.30" y2="461.90" stroke="#000" stroke-width="1.20"/>
<line x1="293.50" y1="422.53" x2="289.20" y2="422.53" stroke="#000" stroke-width="1.20"/>
<line x1="293.50" y1="399.49" x2="289.20" y2="399.49" stroke="#000" stroke-width="1.20"/>
<line x1="293.50" y1="383.15" x2="289.20" y2="383.15" stroke="#000" stroke-width="1.20"/>
<line x1="293.50" y1="370.47" x2="289.20" y2="370.47" stroke="#000" stroke-width="1.20"/>
<line x1="293.50" y1="360.12" x2="289.20" y2="360.12" stroke="#000" stroke-width="1.20"/>
<line x1="293.50" y1="351.36" x2="289.20" y2="351.36" stroke="#000" stroke-width="1.20"/>
<line x1="293.50" y1="343.78" x2="289.20" y2="343.78" stroke="#000" stroke-width="1.20"/>
<line x1="293.50" y1="337.09" x2="289.20" y2="337.09" stroke="#000" stroke-width="1.20"/>
<rect x="280.50" y="331.10" width="13.00" height="199.40" fill="none" stroke="#000" stroke-width="1.0"/>
<text x="297.10" y="466.55" font-size="11.4" fill="#000" stroke="#000" stroke-width="0.3">10<tspan font-size="9.3" dy="-5.3">-1</tspan></text>
<text x="297.10" y="336.35" font-size="11.4" fill="#000" stroke="#000" stroke-width="0.3">10<tspan font-size="9.3" dy="-5.3">0</tspan></text>
<text x="285.30" y="324.60" font-size="13.80" text-anchor="middle" font-weight="normal" fill="#000" stroke="#000" stroke-width="0.30" >[nT]</text>
<line x1="360.50" y1="530.30" x2="360.50" y2="524.90" stroke="#000" stroke-width="1.00"/>
<line x1="360.50" y1="330.20" x2="360.50" y2="335.60" stroke="#000" stroke-width="1.00"/>
<line x1="363.74" y1="530.30" x2="363.74" y2="527.10" stroke="#000" stroke-width="1.00"/>
<line x1="363.74" y1="330.20" x2="363.74" y2="333.40" stroke="#000" stroke-width="1.00"/>
<line x1="366.97" y1="530.30" x2="366.97" y2="527.10" stroke="#000" stroke-width="1.00"/>
<line x1="366.97" y1="330.20" x2="366.97" y2="333.40" stroke="#000" stroke-width="1.00"/>
<line x1="370.21" y1="530.30" x2="370.21" y2="527.10" stroke="#000" stroke-width="1.00"/>
<line x1="370.21" y1="330.20" x2="370.21" y2="333.40" stroke="#000" stroke-width="1.00"/>
<line x1="373.44" y1="530.30" x2="373.44" y2="527.10" stroke="#000" stroke-width="1.00"/>
<line x1="373.44" y1="330.20" x2="373.44" y2="333.40" stroke="#000" stroke-width="1.00"/>
<line x1="376.68" y1="530.30" x2="376.68" y2="527.10" stroke="#000" stroke-width="1.00"/>
<line x1="376.68" y1="330.20" x2="376.68" y2="333.40" stroke="#000" stroke-width="1.00"/>
<line x1="379.92" y1="530.30" x2="379.92" y2="527.10" stroke="#000" stroke-width="1.00"/>
<line x1="379.92" y1="330.20" x2="379.92" y2="333.40" stroke="#000" stroke-width="1.00"/>
<line x1="383.15" y1="530.30" x2="383.15" y2="527.10" stroke="#000" stroke-width="1.00"/>
<line x1="383.15" y1="330.20" x2="383.15" y2="333.40" stroke="#000" stroke-width="1.00"/>
<line x1="386.39" y1="530.30" x2="386.39" y2="527.10" stroke="#000" stroke-width="1.00"/>
<line x1="386.39" y1="330.20" x2="386.39" y2="333.40" stroke="#000" stroke-width="1.00"/>
<line x1="389.62" y1="530.30" x2="389.62" y2="524.90" stroke="#000" stroke-width="1.00"/>
<line x1="389.62" y1="330.20" x2="389.62" y2="335.60" stroke="#000" stroke-width="1.00"/>
<line x1="392.86" y1="530.30" x2="392.86" y2="527.10" stroke="#000" stroke-width="1.00"/>
<line x1="392.86" y1="330.20" x2="392.86" y2="333.40" stroke="#000" stroke-width="1.00"/>
<line x1="396.10" y1="530.30" x2="396.10" y2="527.10" stroke="#000" stroke-width="1.00"/>
<line x1="396.10" y1="330.20" x2="396.10" y2="333.40" stroke="#000" stroke-width="1.00"/>
<line x1="399.33" y1="530.30" x2="399.33" y2="527.10" stroke="#000" stroke-width="1.00"/>
<line x1="399.33" y1="330.20" x2="399.33" y2="333.40" stroke="#000" stroke-width="1.00"/>
<line x1="402.57" y1="530.30" x2="402.57" y2="527.10" stroke="#000" stroke-width="1.00"/>
<line x1="402.57" y1="330.20" x2="402.57" y2="333.40" stroke="#000" stroke-width="1.00"/>
<line x1="405.81" y1="530.30" x2="405.81" y2="527.10" stroke="#000" stroke-width="1.00"/>
<line x1="405.81" y1="330.20" x2="405.81" y2="333.40" stroke="#000" stroke-width="1.00"/>
<line x1="409.04" y1="530.30" x2="409.04" y2="527.10" stroke="#000" stroke-width="1.00"/>
<line x1="409.04" y1="330.20" x2="409.04" y2="333.40" stroke="#000" stroke-width="1.00"/>
<line x1="412.28" y1="530.30" x2="412.28" y2="527.10" stroke="#000" stroke-width="1.00"/>
<line x1="412.28" y1="330.20" x2="412.28" y2="333.40" stroke="#000" stroke-width="1.00"/>
<line x1="415.51" y1="530.30" x2="415.51" y2="527.10" stroke="#000" stroke-width="1.00"/>
<line x1="415.51" y1="330.20" x2="415.51" y2="333.40" stroke="#000" stroke-width="1.00"/>
<line x1="418.75" y1="530.30" x2="418.75" y2="524.90" stroke="#000" stroke-width="1.00"/>
<line x1="418.75" y1="330.20" x2="418.75" y2="335.60" stroke="#000" stroke-width="1.00"/>
<line x1="421.99" y1="530.30" x2="421.99" y2="527.10" stroke="#000" stroke-width="1.00"/>
<line x1="421.99" y1="330.20" x2="421.99" y2="333.40" stroke="#000" stroke-width="1.00"/>
<line x1="425.22" y1="530.30" x2="425.22" y2="527.10" stroke="#000" stroke-width="1.00"/>
<line x1="425.22" y1="330.20" x2="425.22" y2="333.40" stroke="#000" stroke-width="1.00"/>
<line x1="428.46" y1="530.30" x2="428.46" y2="527.10" stroke="#000" stroke-width="1.00"/>
<line x1="428.46" y1="330.20" x2="428.46" y2="333.40" stroke="#000" stroke-width="1.00"/>
<line x1="431.69" y1="530.30" x2="431.69" y2="527.10" stroke="#000" stroke-width="1.00"/>
<line x1="431.69" y1="330.20" x2="431.69" y2="333.40" stroke="#000" stroke-width="1.00"/>
<line x1="434.93" y1="530.30" x2="434.93" y2="527.10" stroke="#000" stroke-width="1.00"/>
<line x1="434.93" y1="330.20" x2="434.93" y2="333.40" stroke="#000" stroke-width="1.00"/>
<line x1="438.17" y1="530.30" x2="438.17" y2="527.10" stroke="#000" stroke-width="1.00"/>
<line x1="438.17" y1="330.20" x2="438.17" y2="333.40" stroke="#000" stroke-width="1.00"/>
<line x1="441.40" y1="530.30" x2="441.40" y2="527.10" stroke="#000" stroke-width="1.00"/>
<line x1="441.40" y1="330.20" x2="441.40" y2="333.40" stroke="#000" stroke-width="1.00"/>
<line x1="444.64" y1="530.30" x2="444.64" y2="527.10" stroke="#000" stroke-width="1.00"/>
<line x1="444.64" y1="330.20" x2="444.64" y2="333.40" stroke="#000" stroke-width="1.00"/>
<line x1="447.88" y1="530.30" x2="447.88" y2="524.90" stroke="#000" stroke-width="1.00"/>
<line x1="447.88" y1="330.20" x2="447.88" y2="335.60" stroke="#000" stroke-width="1.00"/>
<line x1="451.11" y1="530.30" x2="451.11" y2="527.10" stroke="#000" stroke-width="1.00"/>
<line x1="451.11" y1="330.20" x2="451.11" y2="333.40" stroke="#000" stroke-width="1.00"/>
<line x1="454.35" y1="530.30" x2="454.35" y2="527.10" stroke="#000" stroke-width="1.00"/>
<line x1="454.35" y1="330.20" x2="454.35" y2="333.40" stroke="#000" stroke-width="1.00"/>
<line x1="457.58" y1="530.30" x2="457.58" y2="527.10" stroke="#000" stroke-width="1.00"/>
<line x1="457.58" y1="330.20" x2="457.58" y2="333.40" stroke="#000" stroke-width="1.00"/>
<line x1="460.82" y1="530.30" x2="460.82" y2="527.10" stroke="#000" stroke-width="1.00"/>
<line x1="460.82" y1="330.20" x2="460.82" y2="333.40" stroke="#000" stroke-width="1.00"/>
<line x1="464.06" y1="530.30" x2="464.06" y2="527.10" stroke="#000" stroke-width="1.00"/>
<line x1="464.06" y1="330.20" x2="464.06" y2="333.40" stroke="#000" stroke-width="1.00"/>
<line x1="467.29" y1="530.30" x2="467.29" y2="527.10" stroke="#000" stroke-width="1.00"/>
<line x1="467.29" y1="330.20" x2="467.29" y2="333.40" stroke="#000" stroke-width="1.00"/>
<line x1="470.53" y1="530.30" x2="470.53" y2="527.10" stroke="#000" stroke-width="1.00"/>
<line x1="470.53" y1="330.20" x2="470.53" y2="333.40" stroke="#000" stroke-width="1.00"/>
<line x1="473.76" y1="530.30" x2="473.76" y2="527.10" stroke="#000" stroke-width="1.00"/>
<line x1="473.76" y1="330.20" x2="473.76" y2="333.40" stroke="#000" stroke-width="1.00"/>
<line x1="477.00" y1="530.30" x2="477.00" y2="524.90" stroke="#000" stroke-width="1.00"/>
<line x1="477.00" y1="330.20" x2="477.00" y2="335.60" stroke="#000" stroke-width="1.00"/>
<line x1="480.24" y1="530.30" x2="480.24" y2="527.10" stroke="#000" stroke-width="1.00"/>
<line x1="480.24" y1="330.20" x2="480.24" y2="333.40" stroke="#000" stroke-width="1.00"/>
<line x1="483.47" y1="530.30" x2="483.47" y2="527.10" stroke="#000" stroke-width="1.00"/>
<line x1="483.47" y1="330.20" x2="483.47" y2="333.40" stroke="#000" stroke-width="1.00"/>
<line x1="486.71" y1="530.30" x2="486.71" y2="527.10" stroke="#000" stroke-width="1.00"/>
<line x1="486.71" y1="330.20" x2="486.71" y2="333.40" stroke="#000" stroke-width="1.00"/>
<line x1="489.94" y1="530.30" x2="489.94" y2="527.10" stroke="#000" stroke-width="1.00"/>
<line x1="489.94" y1="330.20" x2="489.94" y2="333.40" stroke="#000" stroke-width="1.00"/>
<line x1="493.18" y1="530.30" x2="493.18" y2="527.10" stroke="#000" stroke-width="1.00"/>
<line x1="493.18" y1="330.20" x2="493.18" y2="333.40" stroke="#000" stroke-width="1.00"/>
<line x1="496.42" y1="530.30" x2="496.42" y2="527.10" stroke="#000" stroke-width="1.00"/>
<line x1="496.42" y1="330.20" x2="496.42" y2="333.40" stroke="#000" stroke-width="1.00"/>
<line x1="499.65" y1="530.30" x2="499.65" y2="527.10" stroke="#000" stroke-width="1.00"/>
<line x1="499.65" y1="330.20" x2="499.65" y2="333.40" stroke="#000" stroke-width="1.00"/>
<line x1="502.89" y1="530.30" x2="502.89" y2="527.10" stroke="#000" stroke-width="1.00"/>
<line x1="502.89" y1="330.20" x2="502.89" y2="333.40" stroke="#000" stroke-width="1.00"/>
<line x1="506.12" y1="530.30" x2="506.12" y2="524.90" stroke="#000" stroke-width="1.00"/>
<line x1="506.12" y1="330.20" x2="506.12" y2="335.60" stroke="#000" stroke-width="1.00"/>
<line x1="509.36" y1="530.30" x2="509.36" y2="527.10" stroke="#000" stroke-width="1.00"/>
<line x1="509.36" y1="330.20" x2="509.36" y2="333.40" stroke="#000" stroke-width="1.00"/>
<line x1="512.60" y1="530.30" x2="512.60" y2="527.10" stroke="#000" stroke-width="1.00"/>
<line x1="512.60" y1="330.20" x2="512.60" y2="333.40" stroke="#000" stroke-width="1.00"/>
<line x1="515.83" y1="530.30" x2="515.83" y2="527.10" stroke="#000" stroke-width="1.00"/>
<line x1="515.83" y1="330.20" x2="515.83" y2="333.40" stroke="#000" stroke-width="1.00"/>
<line x1="519.07" y1="530.30" x2="519.07" y2="527.10" stroke="#000" stroke-width="1.00"/>
<line x1="519.07" y1="330.20" x2="519.07" y2="333.40" stroke="#000" stroke-width="1.00"/>
<line x1="522.31" y1="530.30" x2="522.31" y2="527.10" stroke="#000" stroke-width="1.00"/>
<line x1="522.31" y1="330.20" x2="522.31" y2="333.40" stroke="#000" stroke-width="1.00"/>
<line x1="525.54" y1="530.30" x2="525.54" y2="527.10" stroke="#000" stroke-width="1.00"/>
<line x1="525.54" y1="330.20" x2="525.54" y2="333.40" stroke="#000" stroke-width="1.00"/>
<line x1="528.78" y1="530.30" x2="528.78" y2="527.10" stroke="#000" stroke-width="1.00"/>
<line x1="528.78" y1="330.20" x2="528.78" y2="333.40" stroke="#000" stroke-width="1.00"/>
<line x1="532.01" y1="530.30" x2="532.01" y2="527.10" stroke="#000" stroke-width="1.00"/>
<line x1="532.01" y1="330.20" x2="532.01" y2="333.40" stroke="#000" stroke-width="1.00"/>
<line x1="535.25" y1="530.30" x2="535.25" y2="524.90" stroke="#000" stroke-width="1.00"/>
<line x1="535.25" y1="330.20" x2="535.25" y2="335.60" stroke="#000" stroke-width="1.00"/>
<line x1="538.49" y1="530.30" x2="538.49" y2="527.10" stroke="#000" stroke-width="1.00"/>
<line x1="538.49" y1="330.20" x2="538.49" y2="333.40" stroke="#000" stroke-width="1.00"/>
<line x1="541.72" y1="530.30" x2="541.72" y2="527.10" stroke="#000" stroke-width="1.00"/>
<line x1="541.72" y1="330.20" x2="541.72" y2="333.40" stroke="#000" stroke-width="1.00"/>
<line x1="544.96" y1="530.30" x2="544.96" y2="527.10" stroke="#000" stroke-width="1.00"/>
<line x1="544.96" y1="330.20" x2="544.96" y2="333.40" stroke="#000" stroke-width="1.00"/>
<line x1="548.19" y1="530.30" x2="548.19" y2="527.10" stroke="#000" stroke-width="1.00"/>
<line x1="548.19" y1="330.20" x2="548.19" y2="333.40" stroke="#000" stroke-width="1.00"/>
<line x1="551.43" y1="530.30" x2="551.43" y2="527.10" stroke="#000" stroke-width="1.00"/>
<line x1="551.43" y1="330.20" x2="551.43" y2="333.40" stroke="#000" stroke-width="1.00"/>
<line x1="554.67" y1="530.30" x2="554.67" y2="527.10" stroke="#000" stroke-width="1.00"/>
<line x1="554.67" y1="330.20" x2="554.67" y2="333.40" stroke="#000" stroke-width="1.00"/>
<line x1="557.90" y1="530.30" x2="557.90" y2="527.10" stroke="#000" stroke-width="1.00"/>
<line x1="557.90" y1="330.20" x2="557.90" y2="333.40" stroke="#000" stroke-width="1.00"/>
<line x1="561.14" y1="530.30" x2="561.14" y2="527.10" stroke="#000" stroke-width="1.00"/>
<line x1="561.14" y1="330.20" x2="561.14" y2="333.40" stroke="#000" stroke-width="1.00"/>
<line x1="564.38" y1="530.30" x2="564.38" y2="524.90" stroke="#000" stroke-width="1.00"/>
<line x1="564.38" y1="330.20" x2="564.38" y2="335.60" stroke="#000" stroke-width="1.00"/>
<line x1="567.61" y1="530.30" x2="567.61" y2="527.10" stroke="#000" stroke-width="1.00"/>
<line x1="567.61" y1="330.20" x2="567.61" y2="333.40" stroke="#000" stroke-width="1.00"/>
<line x1="570.85" y1="530.30" x2="570.85" y2="527.10" stroke="#000" stroke-width="1.00"/>
<line x1="570.85" y1="330.20" x2="570.85" y2="333.40" stroke="#000" stroke-width="1.00"/>
<line x1="574.08" y1="530.30" x2="574.08" y2="527.10" stroke="#000" stroke-width="1.00"/>
<line x1="574.08" y1="330.20" x2="574.08" y2="333.40" stroke="#000" stroke-width="1.00"/>
<line x1="577.32" y1="530.30" x2="577.32" y2="527.10" stroke="#000" stroke-width="1.00"/>
<line x1="577.32" y1="330.20" x2="577.32" y2="333.40" stroke="#000" stroke-width="1.00"/>
<line x1="580.56" y1="530.30" x2="580.56" y2="527.10" stroke="#000" stroke-width="1.00"/>
<line x1="580.56" y1="330.20" x2="580.56" y2="333.40" stroke="#000" stroke-width="1.00"/>
<line x1="583.79" y1="530.30" x2="583.79" y2="527.10" stroke="#000" stroke-width="1.00"/>
<line x1="583.79" y1="330.20" x2="583.79" y2="333.40" stroke="#000" stroke-width="1.00"/>
<line x1="587.03" y1="530.30" x2="587.03" y2="527.10" stroke="#000" stroke-width="1.00"/>
<line x1="587.03" y1="330.20" x2="587.03" y2="333.40" stroke="#000" stroke-width="1.00"/>
<line x1="590.26" y1="530.30" x2="590.26" y2="527.10" stroke="#000" stroke-width="1.00"/>
<line x1="590.26" y1="330.20" x2="590.26" y2="333.40" stroke="#000" stroke-width="1.00"/>
<line x1="593.50" y1="530.30" x2="593.50" y2="524.90" stroke="#000" stroke-width="1.00"/>
<line x1="593.50" y1="330.20" x2="593.50" y2="335.60" stroke="#000" stroke-width="1.00"/>
<line x1="360.50" y1="530.30" x2="365.90" y2="530.30" stroke="#000" stroke-width="1.00"/>
<line x1="593.50" y1="530.30" x2="588.10" y2="530.30" stroke="#000" stroke-width="1.00"/>
<line x1="360.50" y1="523.63" x2="363.70" y2="523.63" stroke="#000" stroke-width="1.00"/>
<line x1="593.50" y1="523.63" x2="590.30" y2="523.63" stroke="#000" stroke-width="1.00"/>
<line x1="360.50" y1="516.96" x2="363.70" y2="516.96" stroke="#000" stroke-width="1.00"/>
<line x1="593.50" y1="516.96" x2="590.30" y2="516.96" stroke="#000" stroke-width="1.00"/>
<line x1="360.50" y1="510.29" x2="363.70" y2="510.29" stroke="#000" stroke-width="1.00"/>
<line x1="593.50" y1="510.29" x2="590.30" y2="510.29" stroke="#000" stroke-width="1.00"/>
<line x1="360.50" y1="503.62" x2="363.70" y2="503.62" stroke="#000" stroke-width="1.00"/>
<line x1="593.50" y1="503.62" x2="590.30" y2="503.62" stroke="#000" stroke-width="1.00"/>
<line x1="360.50" y1="496.95" x2="365.90" y2="496.95" stroke="#000" stroke-width="1.00"/>
<line x1="593.50" y1="496.95" x2="588.10" y2="496.95" stroke="#000" stroke-width="1.00"/>
<line x1="360.50" y1="490.28" x2="363.70" y2="490.28" stroke="#000" stroke-width="1.00"/>
<line x1="593.50" y1="490.28" x2="590.30" y2="490.28" stroke="#000" stroke-width="1.00"/>
<line x1="360.50" y1="483.61" x2="363.70" y2="483.61" stroke="#000" stroke-width="1.00"/>
<line x1="593.50" y1="483.61" x2="590.30" y2="483.61" stroke="#000" stroke-width="1.00"/>
<line x1="360.50" y1="476.94" x2="363.70" y2="476.94" stroke="#000" stroke-width="1.00"/>
<line x1="593.50" y1="476.94" x2="590.30" y2="476.94" stroke="#000" stroke-width="1.00"/>
<line x1="360.50" y1="470.27" x2="363.70" y2="470.27" stroke="#000" stroke-width="1.00"/>
<line x1="593.50" y1="470.27" x2="590.30" y2="470.27" stroke="#000" stroke-width="1.00"/>
<line x1="360.50" y1="463.60" x2="365.90" y2="463.60" stroke="#000" stroke-width="1.00"/>
<line x1="593.50" y1="463.60" x2="588.10" y2="463.60" stroke="#000" stroke-width="1.00"/>
<line x1="360.50" y1="456.93" x2="363.70" y2="456.93" stroke="#000" stroke-width="1.00"/>
<line x1="593.50" y1="456.93" x2="590.30" y2="456.93" stroke="#000" stroke-width="1.00"/>
<line x1="360.50" y1="450.26" x2="363.70" y2="450.26" stroke="#000" stroke-width="1.00"/>
<line x1="593.50" y1="450.26" x2="590.30" y2="450.26" stroke="#000" stroke-width="1.00"/>
<line x1="360.50" y1="443.59" x2="363.70" y2="443.59" stroke="#000" stroke-width="1.00"/>
<line x1="593.50" y1="443.59" x2="590.30" y2="443.59" stroke="#000" stroke-width="1.00"/>
<line x1="360.50" y1="436.92" x2="363.70" y2="436.92" stroke="#000" stroke-width="1.00"/>
<line x1="593.50" y1="436.92" x2="590.30" y2="436.92" stroke="#000" stroke-width="1.00"/>
<line x1="360.50" y1="430.25" x2="365.90" y2="430.25" stroke="#000" stroke-width="1.00"/>
<line x1="593.50" y1="430.25" x2="588.10" y2="430.25" stroke="#000" stroke-width="1.00"/>
<line x1="360.50" y1="423.58" x2="363.70" y2="423.58" stroke="#000" stroke-width="1.00"/>
<line x1="593.50" y1="423.58" x2="590.30" y2="423.58" stroke="#000" stroke-width="1.00"/>
<line x1="360.50" y1="416.91" x2="363.70" y2="416.91" stroke="#000" stroke-width="1.00"/>
<line x1="593.50" y1="416.91" x2="590.30" y2="416.91" stroke="#000" stroke-width="1.00"/>
<line x1="360.50" y1="410.24" x2="363.70" y2="410.24" stroke="#000" stroke-width="1.00"/>
<line x1="593.50" y1="410.24" x2="590.30" y2="410.24" stroke="#000" stroke-width="1.00"/>
<line x1="360.50" y1="403.57" x2="363.70" y2="403.57" stroke="#000" stroke-width="1.00"/>
<line x1="593.50" y1="403.57" x2="590.30" y2="403.57" stroke="#000" stroke-width="1.00"/>
<line x1="360.50" y1="396.90" x2="365.90" y2="396.90" stroke="#000" stroke-width="1.00"/>
<line x1="593.50" y1="396.90" x2="588.10" y2="396.90" stroke="#000" stroke-width="1.00"/>
<line x1="360.50" y1="390.23" x2="363.70" y2="390.23" stroke="#000" stroke-width="1.00"/>
<line x1="593.50" y1="390.23" x2="590.30" y2="390.23" stroke="#000" stroke-width="1.00"/>
<line x1="360.50" y1="383.56" x2="363.70" y2="383.56" stroke="#000" stroke-width="1.00"/>
<line x1="593.50" y1="383.56" x2="590.30" y2="383.56" stroke="#000" stroke-width="1.00"/>
<line x1="360.50" y1="376.89" x2="363.70" y2="376.89" stroke="#000" stroke-width="1.00"/>
<line x1="593.50" y1="376.89" x2="590.30" y2="376.89" stroke="#000" stroke-width="1.00"/>
<line x1="360.50" y1="370.22" x2="363.70" y2="370.22" stroke="#000" stroke-width="1.00"/>
<line x1="593.50" y1="370.22" x2="590.30" y2="370.22" stroke="#000" stroke-width="1.00"/>
<line x1="360.50" y1="363.55" x2="365.90" y2="363.55" stroke="#000" stroke-width="1.00"/>
<line x1="593.50" y1="363.55" x2="588.10" y2="363.55" stroke="#000" stroke-width="1.00"/>
<line x1="360.50" y1="356.88" x2="363.70" y2="356.88" stroke="#000" stroke-width="1.00"/>
<line x1="593.50" y1="356.88" x2="590.30" y2="356.88" stroke="#000" stroke-width="1.00"/>
<line x1="360.50" y1="350.21" x2="363.70" y2="350.21" stroke="#000" stroke-width="1.00"/>
<line x1="593.50" y1="350.21" x2="590.30" y2="350.21" stroke="#000" stroke-width="1.00"/>
<line x1="360.50" y1="343.54" x2="363.70" y2="343.54" stroke="#000" stroke-width="1.00"/>
<line x1="593.50" y1="343.54" x2="590.30" y2="343.54" stroke="#000" stroke-width="1.00"/>
<line x1="360.50" y1="336.87" x2="363.70" y2="336.87" stroke="#000" stroke-width="1.00"/>
<line x1="593.50" y1="336.87" x2="590.30" y2="336.87" stroke="#000" stroke-width="1.00"/>
<line x1="360.50" y1="330.20" x2="365.90" y2="330.20" stroke="#000" stroke-width="1.00"/>
<line x1="593.50" y1="330.20" x2="588.10" y2="330.20" stroke="#000" stroke-width="1.00"/>
<rect x="360.50" y="330.20" width="233.00" height="200.10" fill="none" stroke="#111" stroke-width="0.85"/>
<g>
<rect x="370.71" y="336.87" width="6.47" height="13.94" fill="#1affe5"/>
<rect x="383.65" y="336.87" width="7.07" height="13.34" fill="#0052ff"/>
<rect x="390.12" y="336.87" width="6.47" height="13.94" fill="#0090ff"/>
<rect x="428.96" y="336.87" width="6.47" height="13.34" fill="#0090ff"/>
<rect x="448.38" y="336.87" width="6.47" height="13.34" fill="#1affe5"/>
<rect x="519.57" y="336.87" width="7.07" height="13.94" fill="#00d4ff"/>
<rect x="526.04" y="336.87" width="7.07" height="13.94" fill="#5effa2"/>
<rect x="532.51" y="336.87" width="7.07" height="13.94" fill="#00d4ff"/>
<rect x="538.99" y="336.87" width="7.07" height="13.94" fill="#0090ff"/>
<rect x="545.46" y="336.87" width="7.07" height="13.94" fill="#0052ff"/>
<rect x="551.93" y="336.87" width="6.47" height="13.94" fill="#1affe5"/>
<rect x="360.00" y="350.21" width="4.84" height="13.34" fill="#ff9100"/>
<rect x="364.24" y="350.21" width="7.07" height="13.94" fill="#0090ff"/>
<rect x="370.71" y="350.21" width="6.47" height="13.94" fill="#0090ff"/>
<rect x="390.12" y="350.21" width="7.07" height="13.94" fill="#00d4ff"/>
<rect x="396.60" y="350.21" width="7.07" height="13.94" fill="#001aff"/>
<rect x="403.07" y="350.21" width="6.47" height="13.94" fill="#001aff"/>
<rect x="416.01" y="350.21" width="7.07" height="13.94" fill="#0090ff"/>
<rect x="422.49" y="350.21" width="6.47" height="13.34" fill="#0090ff"/>
<rect x="480.74" y="350.21" width="6.47" height="13.94" fill="#0052ff"/>
<rect x="493.68" y="350.21" width="6.47" height="13.94" fill="#0052ff"/>
<rect x="513.10" y="350.21" width="7.07" height="13.94" fill="#0052ff"/>
<rect x="519.57" y="350.21" width="7.07" height="13.34" fill="#001aff"/>
<rect x="526.04" y="350.21" width="7.07" height="13.94" fill="#001aff"/>
<rect x="532.51" y="350.21" width="7.07" height="13.94" fill="#001aff"/>
<rect x="538.99" y="350.21" width="7.07" height="13.94" fill="#0090ff"/>
<rect x="545.46" y="350.21" width="7.07" height="13.34" fill="#0090ff"/>
<rect x="551.93" y="350.21" width="7.07" height="13.94" fill="#0090ff"/>
<rect x="558.40" y="350.21" width="7.07" height="13.94" fill="#0052ff"/>
<rect x="564.88" y="350.21" width="7.07" height="13.94" fill="#0052ff"/>
<rect x="571.35" y="350.21" width="6.47" height="13.94" fill="#1affe5"/>
<rect x="584.29" y="350.21" width="6.47" height="13.94" fill="#ffd500"/>
<rect x="364.24" y="363.55" width="7.07" height="13.94" fill="#ffd500"/>
<rect x="370.71" y="363.55" width="7.07" height="13.94" fill="#e5ff1a"/>
<rect x="377.18" y="363.55" width="7.07" height="13.94" fill="#00d4ff"/>
<rect x="383.65" y="363.55" width="7.07" height="13.94" fill="#0052ff"/>
<rect x="390.12" y="363.55" width="7.07" height="13.94" fill="#001aff"/>
<rect x="396.60" y="363.55" width="7.07" height="13.94" fill="#0052ff"/>
<rect x="403.07" y="363.55" width="7.07" height="13.94" fill="#0052ff"/>
<rect x="409.54" y="363.55" width="7.07" height="13.94" fill="#a2ff5e"/>
<rect x="416.01" y="363.55" width="6.47" height="13.94" fill="#e5ff1a"/>
<rect x="448.38" y="363.55" width="6.47" height="13.94" fill="#001aff"/>
<rect x="467.79" y="363.55" width="7.07" height="13.94" fill="#0052ff"/>
<rect x="474.26" y="363.55" width="7.07" height="13.94" fill="#0052ff"/>
<rect x="480.74" y="363.55" width="7.07" height="13.34" fill="#0052ff"/>
<rect x="487.21" y="363.55" width="7.07" height="13.94" fill="#0052ff"/>
<rect x="493.68" y="363.55" width="6.47" height="13.94" fill="#0052ff"/>
<rect x="506.62" y="363.55" width="7.07" height="13.94" fill="#0052ff"/>
<rect x="513.10" y="363.55" width="6.47" height="13.94" fill="#0052ff"/>
<rect x="526.04" y="363.55" width="7.07" height="13.94" fill="#0052ff"/>
<rect x="532.51" y="363.55" width="7.07" height="13.94" fill="#001aff"/>
<rect x="538.99" y="363.55" width="6.47" height="13.94" fill="#001aff"/>
<rect x="551.93" y="363.55" width="7.07" height="13.94" fill="#0052ff"/>
<rect x="558.40" y="363.55" width="7.07" height="13.94" fill="#0052ff"/>
<rect x="564.88" y="363.55" width="7.07" height="13.94" fill="#0052ff"/>
<rect x="571.35" y="363.55" width="6.47" height="13.94" fill="#1affe5"/>
<rect x="584.29" y="363.55" width="7.07" height="13.94" fill="#1affe5"/>
<rect x="590.76" y="363.55" width="2.74" height="13.94" fill="#a2ff5e"/>
<rect x="360.00" y="376.89" width="4.84" height="13.94" fill="#0052ff"/>
<rect x="364.24" y="376.89" width="7.07" height="13.94" fill="#00d4ff"/>
<rect x="370.71" y="376.89" width="7.07" height="13.94" fill="#001aff"/>
<rect x="377.18" y="376.89" width="7.07" height="13.94" fill="#001aff"/>
<rect x="383.65" y="376.89" width="7.07" height="13.94" fill="#0052ff"/>
<rect x="390.12" y="376.89" width="7.07" height="13.94" fill="#0090ff"/>
<rect x="396.60" y="376.89" width="7.07" height="13.94" fill="#00d4ff"/>
<rect x="403.07" y="376.89" width="7.07" height="13.94" fill="#1affe5"/>
<rect x="409.54" y="376.89" width="7.07" height="13.94" fill="#00d4ff"/>
<rect x="416.01" y="376.89" width="7.07" height="13.94" fill="#00d4ff"/>
<rect x="422.49" y="376.89" width="7.07" height="13.94" fill="#00d4ff"/>
<rect x="428.96" y="376.89" width="6.47" height="13.94" fill="#a2ff5e"/>
<rect x="448.38" y="376.89" width="7.07" height="13.94" fill="#00d4ff"/>
<rect x="454.85" y="376.89" width="7.07" height="13.94" fill="#0090ff"/>
<rect x="461.32" y="376.89" width="7.07" height="13.34" fill="#0052ff"/>
<rect x="467.79" y="376.89" width="7.07" height="13.94" fill="#0090ff"/>
<rect x="474.26" y="376.89" width="6.47" height="13.94" fill="#5effa2"/>
<rect x="487.21" y="376.89" width="7.07" height="13.94" fill="#0052ff"/>
<rect x="493.68" y="376.89" width="7.07" height="13.34" fill="#00d4ff"/>
<rect x="500.15" y="376.89" width="7.07" height="13.34" fill="#0090ff"/>
<rect x="506.62" y="376.89" width="7.07" height="13.94" fill="#00d4ff"/>
<rect x="513.10" y="376.89" width="7.07" height="13.94" fill="#001aff"/>
<rect x="519.57" y="376.89" width="7.07" height="13.94" fill="#0052ff"/>
<rect x="526.04" y="376.89" width="7.07" height="13.94" fill="#0052ff"/>
<rect x="532.51" y="376.89" width="7.07" height="13.94" fill="#a2ff5e"/>
<rect x="538.99" y="376.89" width="7.07" height="13.94" fill="#0090ff"/>
<rect x="545.46" y="376.89" width="7.07" height="13.94" fill="#00d4ff"/>
<rect x="551.93" y="376.89" width="7.07" height="13.94" fill="#0052ff"/>
<rect x="558.40" y="376.89" width="7.07" height="13.94" fill="#0090ff"/>
<rect x="564.88" y="376.89" width="7.07" height="13.94" fill="#0090ff"/>
<rect x="571.35" y="376.89" width="7.07" height="13.94" fill="#0052ff"/>
<rect x="577.82" y="376.89" width="7.07" height="13.94" fill="#00d4ff"/>
<rect x="584.29" y="376.89" width="7.07" height="13.94" fill="#00d4ff"/>
<rect x="590.76" y="376.89" width="2.74" height="13.94" fill="#00d4ff"/>
<rect x="360.00" y="390.23" width="4.84" height="13.94" fill="#5effa2"/>
<rect x="364.24" y="390.23" width="7.07" height="13.94" fill="#a2ff5e"/>
<rect x="370.71" y="390.23" width="7.07" height="13.94" fill="#00d4ff"/>
<rect x="377.18" y="390.23" width="7.07" height="13.94" fill="#0000db"/>
<rect x="383.65" y="390.23" width="7.07" height="13.94" fill="#5effa2"/>
<rect x="390.12" y="390.23" width="7.07" height="13.94" fill="#5effa2"/>
<rect x="396.60" y="390.23" width="7.07" height="13.94" fill="#0090ff"/>
<rect x="403.07" y="390.23" width="7.07" height="13.94" fill="#00d4ff"/>
<rect x="409.54" y="390.23" width="7.07" height="13.94" fill="#00d4ff"/>
<rect x="416.01" y="390.23" width="7.07" height="13.94" fill="#0090ff"/>
<rect x="422.49" y="390.23" width="7.07" height="13.94" fill="#0090ff"/>
<rect x="428.96" y="390.23" width="7.07" height="13.94" fill="#0090ff"/>
<rect x="435.43" y="390.23" width="7.07" height="13.94" fill="#00d4ff"/>
<rect x="441.90" y="390.23" width="7.07" height="13.94" fill="#0052ff"/>
<rect x="448.38" y="390.23" width="7.07" height="13.94" fill="#0090ff"/>
<rect x="454.85" y="390.23" width="6.47" height="13.94" fill="#0052ff"/>
<rect x="467.79" y="390.23" width="7.07" height="13.94" fill="#00d4ff"/>
<rect x="474.26" y="390.23" width="7.07" height="13.94" fill="#0052ff"/>
<rect x="480.74" y="390.23" width="7.07" height="13.94" fill="#0090ff"/>
<rect x="487.21" y="390.23" width="6.47" height="13.94" fill="#00d4ff"/>
<rect x="506.62" y="390.23" width="7.07" height="13.94" fill="#1affe5"/>
<rect x="513.10" y="390.23" width="7.07" height="13.94" fill="#0052ff"/>
<rect x="519.57" y="390.23" width="7.07" height="13.94" fill="#0052ff"/>
<rect x="526.04" y="390.23" width="7.07" height="13.94" fill="#1affe5"/>
<rect x="532.51" y="390.23" width="7.07" height="13.94" fill="#1affe5"/>
<rect x="538.99" y="390.23" width="7.07" height="13.94" fill="#001aff"/>
<rect x="545.46" y="390.23" width="7.07" height="13.94" fill="#001aff"/>
<rect x="551.93" y="390.23" width="7.07" height="13.94" fill="#00d4ff"/>
<rect x="558.40" y="390.23" width="7.07" height="13.34" fill="#00d4ff"/>
<rect x="564.88" y="390.23" width="7.07" height="13.94" fill="#00d4ff"/>
<rect x="571.35" y="390.23" width="7.07" height="13.94" fill="#a2ff5e"/>
<rect x="577.82" y="390.23" width="7.07" height="13.94" fill="#0090ff"/>
<rect x="584.29" y="390.23" width="7.07" height="13.94" fill="#0052ff"/>
<rect x="590.76" y="390.23" width="2.74" height="13.34" fill="#00d4ff"/>
<rect x="360.00" y="403.57" width="4.84" height="13.34" fill="#a2ff5e"/>
<rect x="364.24" y="403.57" width="7.07" height="13.94" fill="#e5ff1a"/>
<rect x="370.71" y="403.57" width="7.07" height="13.94" fill="#0090ff"/>
<rect x="377.18" y="403.57" width="7.07" height="13.94" fill="#00d4ff"/>
<rect x="383.65" y="403.57" width="7.07" height="13.94" fill="#0052ff"/>
<rect x="390.12" y="403.57" width="7.07" height="13.94" fill="#0052ff"/>
<rect x="396.60" y="403.57" width="7.07" height="13.94" fill="#0052ff"/>
<rect x="403.07" y="403.57" width="7.07" height="13.94" fill="#1affe5"/>
<rect x="409.54" y="403.57" width="7.07" height="13.94" fill="#5effa2"/>
<rect x="416.01" y="403.57" width="7.07" height="13.94" fill="#1affe5"/>
<rect x="422.49" y="403.57" width="7.07" height="13.94" fill="#0090ff"/>
<rect x="428.96" y="403.57" width="7.07" height="13.94" fill="#0090ff"/>
<rect x="435.43" y="403.57" width="7.07" height="13.94" fill="#1affe5"/>
<rect x="441.90" y="403.57" width="7.07" height="13.94" fill="#00d4ff"/>
<rect x="448.38" y="403.57" width="7.07" height="13.94" fill="#0000db"/>
<rect x="454.85" y="403.57" width="7.07" height="13.94" fill="#0090ff"/>
<rect x="461.32" y="403.57" width="7.07" height="13.94" fill="#001aff"/>
<rect x="467.79" y="403.57" width="7.07" height="13.94" fill="#00d4ff"/>
<rect x="474.26" y="403.57" width="7.07" height="13.94" fill="#00d4ff"/>
<rect x="480.74" y="403.57" width="7.07" height="13.34" fill="#00d4ff"/>
<rect x="487.21" y="403.57" width="7.07" height="13.94" fill="#1affe5"/>
<rect x="493.68" y="403.57" width="7.07" height="13.94" fill="#1affe5"/>
<rect x="500.15" y="403.57" width="7.07" height="13.94" fill="#001aff"/>
<rect x="506.62" y="403.57" width="7.07" height="13.94" fill="#0052ff"/>
<rect x="513.10" y="403.57" width="7.07" height="13.94" fill="#0090ff"/>
<rect x="519.57" y="403.57" width="7.07" height="13.94" fill="#0090ff"/>
<rect x="526.04" y="403.57" width="7.07" height="13.94" fill="#1affe5"/>
<rect x="532.51" y="403.57" width="7.07" height="13.94" fill="#0052ff"/>
<rect x="538.99" y="403.57" width="7.07" height="13.94" fill="#0090ff"/>
<rect x="545.46" y="403.57" width="7.07" height="13.94" fill="#0090ff"/>
<rect x="551.93" y="403.57" width="6.47" height="13.94" fill="#1affe5"/>
<rect x="564.88" y="403.57" width="7.07" height="13.94" fill="#001aff"/>
<rect x="571.35" y="403.57" width="7.07" height="13.34" fill="#0052ff"/>
<rect x="577.82" y="403.57" width="7.07" height="13.94" fill="#0090ff"/>
<rect x="584.29" y="403.57" width="6.47" height="13.94" fill="#1affe5"/>
<rect x="364.24" y="416.91" width="7.07" height="13.94" fill="#00d4ff"/>
<rect x="370.71" y="416.91" width="7.07" height="13.34" fill="#5effa2"/>
<rect x="377.18" y="416.91" width="7.07" height="13.34" fill="#0090ff"/>
<rect x="383.65" y="416.91" width="7.07" height="13.94" fill="#0052ff"/>
<rect x="390.12" y="416.91" width="7.07" height="13.94" fill="#0090ff"/>
<rect x="396.60" y="416.91" width="7.07" height="13.94" fill="#00d4ff"/>
<rect x="403.07" y="416.91" width="7.07" height="13.94" fill="#5effa2"/>
<rect x="409.54" y="416.91" width="7.07" height="13.94" fill="#00d4ff"/>
<rect x="416.01" y="416.91" width="7.07" height="13.94" fill="#00d4ff"/>
<rect x="422.49" y="416.91" width="7.07" height="13.94" fill="#0052ff"/>
<rect x="428.96" y="416.91" width="7.07" height="13.94" fill="#00d4ff"/>
<rect x="435.43" y="416.91" width="7.07" height="13.94" fill="#00d4ff"/>
<rect x="441.90" y="416.91" width="7.07" height="13.94" fill="#0052ff"/>
<rect x="448.38" y="416.91" width="7.07" height="13.94" fill="#0090ff"/>
<rect x="454.85" y="416.91" width="7.07" height="13.94" fill="#0052ff"/>
<rect x="461.32" y="416.91" width="7.07" height="13.94" fill="#1affe5"/>
<rect x="467.79" y="416.91" width="7.07" height="13.94" fill="#00d4ff"/>
<rect x="474.26" y="416.91" width="6.47" height="13.94" fill="#1affe5"/>
<rect x="487.21" y="416.91" width="7.07" height="13.94" fill="#001aff"/>
<rect x="493.68" y="416.91" width="7.07" height="13.94" fill="#001aff"/>
<rect x="500.15" y="416.91" width="7.07" height="13.94" fill="#001aff"/>
<rect x="506.62" y="416.91" width="7.07" height="13.94" fill="#00d4ff"/>
<rect x="513.10" y="416.91" width="7.07" height="13.94" fill="#001aff"/>
<rect x="519.57" y="416.91" width="7.07" height="13.94" fill="#001aff"/>
<rect x="526.04" y="416.91" width="7.07" height="13.94" fill="#0090ff"/>
<rect x="532.51" y="416.91" width="7.07" height="13.94" fill="#00d4ff"/>
<rect x="538.99" y="416.91" width="7.07" height="13.94" fill="#00d4ff"/>
<rect x="545.46" y="416.91" width="7.07" height="13.94" fill="#00d4ff"/>
<rect x="551.93" y="416.91" width="7.07" height="13.94" fill="#0052ff"/>
<rect x="558.40" y="416.91" width="7.07" height="13.94" fill="#00d4ff"/>
<rect x="564.88" y="416.91" width="6.47" height="13.94" fill="#ff9100"/>
<rect x="577.82" y="416.91" width="7.07" height="13.94" fill="#00d4ff"/>
<rect x="584.29" y="416.91" width="6.47" height="13.94" fill="#00d4ff"/>
<rect x="360.00" y="430.25" width="4.84" height="13.94" fill="#1affe5"/>
<rect x="364.24" y="430.25" width="6.47" height="13.94" fill="#a2ff5e"/>
<rect x="383.65" y="430.25" width="7.07" height="13.94" fill="#0090ff"/>
<rect x="390.12" y="430.25" width="7.07" height="13.94" fill="#001aff"/>
<rect x="396.60" y="430.25" width="7.07" height="13.94" fill="#1affe5"/>
<rect x="403.07" y="430.25" width="7.07" height="13.94" fill="#0090ff"/>
<rect x="409.54" y="430.25" width="7.07" height="13.94" fill="#0052ff"/>
<rect x="416.01" y="430.25" width="7.07" height="13.94" fill="#00d4ff"/>
<rect x="422.49" y="430.25" width="7.07" height="13.94" fill="#00d4ff"/>
<rect x="428.96" y="430.25" width="7.07" height="13.94" fill="#001aff"/>
<rect x="435.43" y="430.25" width="7.07" height="13.94" fill="#00d4ff"/>
<rect x="441.90" y="430.25" width="7.07" height="13.94" fill="#0090ff"/>
<rect x="448.38" y="430.25" width="7.07" height="13.94" fill="#0090ff"/>
<rect x="454.85" y="430.25" width="7.07" height="13.94" fill="#0052ff"/>
<rect x="461.32" y="430.25" width="7.07" height="13.94" fill="#00d4ff"/>
<rect x="467.79" y="430.25" width="7.07" height="13.94" fill="#0090ff"/>
<rect x="474.26" y="430.25" width="7.07" height="13.94" fill="#0090ff"/>
<rect x="480.74" y="430.25" width="7.07" height="13.94" fill="#00d4ff"/>
<rect x="487.21" y="430.25" width="7.07" height="13.34" fill="#00d4ff"/>
<rect x="493.68" y="430.25" width="7.07" height="13.94" fill="#0052ff"/>
<rect x="500.15" y="430.25" width="7.07" height="13.94" fill="#001aff"/>
<rect x="506.62" y="430.25" width="7.07" height="13.94" fill="#0090ff"/>
<rect x="513.10" y="430.25" width="7.07" height="13.94" fill="#e5ff1a"/>
<rect x="519.57" y="430.25" width="7.07" height="13.94" fill="#001aff"/>
<rect x="526.04" y="430.25" width="7.07" height="13.94" fill="#1affe5"/>
<rect x="532.51" y="430.25" width="7.07" height="13.94" fill="#0090ff"/>
<rect x="538.99" y="430.25" width="7.07" height="13.94" fill="#0052ff"/>
<rect x="545.46" y="430.25" width="7.07" height="13.94" fill="#0052ff"/>
<rect x="551.93" y="430.25" width="7.07" height="13.94" fill="#00d4ff"/>
<rect x="558.40" y="430.25" width="7.07" height="13.94" fill="#5effa2"/>
<rect x="564.88" y="430.25" width="7.07" height="13.94" fill="#5effa2"/>
<rect x="571.35" y="430.25" width="7.07" height="13.94" fill="#0090ff"/>
<rect x="577.82" y="430.25" width="7.07" height="13.94" fill="#1affe5"/>
<rect x="584.29" y="430.25" width="7.07" height="13.94" fill="#00d4ff"/>
<rect x="590.76" y="430.25" width="2.74" height="13.94" fill="#0000db"/>
<rect x="360.00" y="443.59" width="4.84" height="13.34" fill="#00d4ff"/>
<rect x="364.24" y="443.59" width="7.07" height="13.94" fill="#00d4ff"/>
<rect x="370.71" y="443.59" width="7.07" height="13.94" fill="#0052ff"/>
<rect x="377.18" y="443.59" width="7.07" height="13.94" fill="#00d4ff"/>
<rect x="383.65" y="443.59" width="7.07" height="13.94" fill="#0090ff"/>
<rect x="390.12" y="443.59" width="7.07" height="13.94" fill="#0052ff"/>
<rect x="396.60" y="443.59" width="7.07" height="13.94" fill="#0090ff"/>
<rect x="403.07" y="443.59" width="7.07" height="13.94" fill="#0090ff"/>
<rect x="409.54" y="443.59" width="7.07" height="13.94" fill="#0090ff"/>
<rect x="416.01" y="443.59" width="7.07" height="13.94" fill="#0052ff"/>
<rect x="422.49" y="443.59" width="7.07" height="13.94" fill="#00d4ff"/>
<rect x="428.96" y="443.59" width="7.07" height="13.94" fill="#1affe5"/>
<rect x="435.43" y="443.59" width="7.07" height="13.94" fill="#00d4ff"/>
<rect x="441.90" y="443.59" width="7.07" height="13.94" fill="#0090ff"/>
<rect x="448.38" y="443.59" width="7.07" height="13.94" fill="#0090ff"/>
<rect x="454.85" y="443.59" width="7.07" height="13.94" fill="#0090ff"/>
<rect x="461.32" y="443.59" width="7.07" height="13.94" fill="#001aff"/>
<rect x="467.79" y="443.59" width="7.07" height="13.94" fill="#1affe5"/>
<rect x="474.26" y="443.59" width="7.07" height="13.94" fill="#0052ff"/>
<rect x="480.74" y="443.59" width="6.47" height="13.94" fill="#0090ff"/>
<rect x="493.68" y="443.59" width="7.07" height="13.94" fill="#5effa2"/>
<rect x="500.15" y="443.59" width="7.07" height="13.94" fill="#5effa2"/>
<rect x="506.62" y="443.59" width="7.07" height="13.94" fill="#a2ff5e"/>
<rect x="513.10" y="443.59" width="7.07" height="13.94" fill="#00d4ff"/>
<rect x="519.57" y="443.59" width="7.07" height="13.94" fill="#1affe5"/>
<rect x="526.04" y="443.59" width="7.07" height="13.94" fill="#0052ff"/>
<rect x="532.51" y="443.59" width="7.07" height="13.94" fill="#00d4ff"/>
<rect x="538.99" y="443.59" width="7.07" height="13.94" fill="#0052ff"/>
<rect x="545.46" y="443.59" width="7.07" height="13.94" fill="#1affe5"/>
<rect x="551.93" y="443.59" width="7.07" height="13.94" fill="#0052ff"/>
<rect x="558.40" y="443.59" width="7.07" height="13.94" fill="#001aff"/>
<rect x="564.88" y="443.59" width="7.07" height="13.94" fill="#a2ff5e"/>
<rect x="571.35" y="443.59" width="7.07" height="13.94" fill="#a2ff5e"/>
<rect x="577.82" y="443.59" width="7.07" height="13.94" fill="#0090ff"/>
<rect x="584.29" y="443.59" width="7.07" height="13.94" fill="#00d4ff"/>
<rect x="590.76" y="443.59" width="2.74" height="13.94" fill="#5effa2"/>
<rect x="364.24" y="456.93" width="7.07" height="13.94" fill="#0052ff"/>
<rect x="370.71" y="456.93" width="7.07" height="13.94" fill="#0052ff"/>
<rect x="377.18" y="456.93" width="7.07" height="13.94" fill="#0090ff"/>
<rect x="383.65" y="456.93" width="7.07" height="13.94" fill="#0090ff"/>
<rect x="390.12" y="456.93" width="7.07" height="13.94" fill="#0090ff"/>
<rect x="396.60" y="456.93" width="7.07" height="13.94" fill="#0090ff"/>
<rect x="403.07" y="456.93" width="7.07" height="13.94" fill="#0052ff"/>
<rect x="409.54" y="456.93" width="7.07" height="13.94" fill="#0052ff"/>
<rect x="416.01" y="456.93" width="7.07" height="13.94" fill="#0052ff"/>
<rect x="422.49" y="456.93" width="7.07" height="13.94" fill="#0090ff"/>
<rect x="428.96" y="456.93" width="7.07" height="13.34" fill="#0090ff"/>
<rect x="435.43" y="456.93" width="7.07" height="13.94" fill="#00d4ff"/>
<rect x="441.90" y="456.93" width="7.07" height="13.94" fill="#0052ff"/>
<rect x="448.38" y="456.93" width="7.07" height="13.94" fill="#001aff"/>
<rect x="454.85" y="456.93" width="7.07" height="13.94" fill="#001aff"/>
<rect x="461.32" y="456.93" width="7.07" height="13.94" fill="#00d4ff"/>
<rect x="467.79" y="456.93" width="7.07" height="13.94" fill="#00d4ff"/>
<rect x="474.26" y="456.93" width="7.07" height="13.94" fill="#00d4ff"/>
<rect x="480.74" y="456.93" width="7.07" height="13.94" fill="#0090ff"/>
<rect x="487.21" y="456.93" width="7.07" height="13.94" fill="#00d4ff"/>
<rect x="493.68" y="456.93" width="7.07" height="13.94" fill="#0090ff"/>
<rect x="500.15" y="456.93" width="7.07" height="13.34" fill="#00d4ff"/>
<rect x="506.62" y="456.93" width="7.07" height="13.94" fill="#001aff"/>
<rect x="513.10" y="456.93" width="7.07" height="13.94" fill="#5effa2"/>
<rect x="519.57" y="456.93" width="7.07" height="13.94" fill="#0052ff"/>
<rect x="526.04" y="456.93" width="7.07" height="13.94" fill="#00d4ff"/>
<rect x="532.51" y="456.93" width="7.07" height="13.94" fill="#00d4ff"/>
<rect x="538.99" y="456.93" width="7.07" height="13.94" fill="#ff9100"/>
<rect x="545.46" y="456.93" width="7.07" height="13.94" fill="#1affe5"/>
<rect x="551.93" y="456.93" width="7.07" height="13.94" fill="#001aff"/>
<rect x="558.40" y="456.93" width="7.07" height="13.34" fill="#1affe5"/>
<rect x="564.88" y="456.93" width="7.07" height="13.94" fill="#1affe5"/>
<rect x="571.35" y="456.93" width="7.07" height="13.94" fill="#00d4ff"/>
<rect x="577.82" y="456.93" width="7.07" height="13.94" fill="#0090ff"/>
<rect x="584.29" y="456.93" width="7.07" height="13.94" fill="#1affe5"/>
<rect x="590.76" y="456.93" width="2.74" height="13.94" fill="#5effa2"/>
<rect x="360.00" y="470.27" width="4.84" height="13.34" fill="#1affe5"/>
<rect x="364.24" y="470.27" width="7.07" height="13.94" fill="#5effa2"/>
<rect x="370.71" y="470.27" width="7.07" height="13.94" fill="#e5ff1a"/>
<rect x="377.18" y="470.27" width="7.07" height="13.94" fill="#0052ff"/>
<rect x="383.65" y="470.27" width="7.07" height="13.94" fill="#0052ff"/>
<rect x="390.12" y="470.27" width="7.07" height="13.94" fill="#0090ff"/>
<rect x="396.60" y="470.27" width="7.07" height="13.94" fill="#0090ff"/>
<rect x="403.07" y="470.27" width="7.07" height="13.94" fill="#1affe5"/>
<rect x="409.54" y="470.27" width="7.07" height="13.34" fill="#0052ff"/>
<rect x="416.01" y="470.27" width="7.07" height="13.34" fill="#00d4ff"/>
<rect x="422.49" y="470.27" width="6.47" height="13.94" fill="#5effa2"/>
<rect x="435.43" y="470.27" width="7.07" height="13.34" fill="#0052ff"/>
<rect x="441.90" y="470.27" width="7.07" height="13.34" fill="#1affe5"/>
<rect x="448.38" y="470.27" width="7.07" height="13.34" fill="#5effa2"/>
<rect x="454.85" y="470.27" width="7.07" height="13.34" fill="#0090ff"/>
<rect x="461.32" y="470.27" width="7.07" height="13.94" fill="#0052ff"/>
<rect x="467.79" y="470.27" width="7.07" height="13.34" fill="#0090ff"/>
<rect x="474.26" y="470.27" width="7.07" height="13.94" fill="#0090ff"/>
<rect x="480.74" y="470.27" width="7.07" height="13.94" fill="#0090ff"/>
<rect x="487.21" y="470.27" width="7.07" height="13.94" fill="#0052ff"/>
<rect x="493.68" y="470.27" width="6.47" height="13.34" fill="#0090ff"/>
<rect x="506.62" y="470.27" width="7.07" height="13.94" fill="#0090ff"/>
<rect x="513.10" y="470.27" width="7.07" height="13.94" fill="#1affe5"/>
<rect x="519.57" y="470.27" width="7.07" height="13.94" fill="#e5ff1a"/>
<rect x="526.04" y="470.27" width="7.07" height="13.94" fill="#00d4ff"/>
<rect x="532.51" y="470.27" width="7.07" height="13.94" fill="#1affe5"/>
<rect x="538.99" y="470.27" width="7.07" height="13.94" fill="#1affe5"/>
<rect x="545.46" y="470.27" width="7.07" height="13.94" fill="#a2ff5e"/>
<rect x="551.93" y="470.27" width="6.47" height="13.34" fill="#0090ff"/>
<rect x="564.88" y="470.27" width="7.07" height="13.34" fill="#00d4ff"/>
<rect x="571.35" y="470.27" width="7.07" height="13.94" fill="#a2ff5e"/>
<rect x="577.82" y="470.27" width="7.07" height="13.34" fill="#00d4ff"/>
<rect x="584.29" y="470.27" width="7.07" height="13.34" fill="#0090ff"/>
<rect x="590.76" y="470.27" width="2.74" height="13.34" fill="#0052ff"/>
<rect x="364.24" y="483.61" width="7.07" height="13.34" fill="#0090ff"/>
<rect x="370.71" y="483.61" width="7.07" height="13.34" fill="#00d4ff"/>
<rect x="377.18" y="483.61" width="7.07" height="13.94" fill="#0000db"/>
<rect x="383.65" y="483.61" width="7.07" height="13.34" fill="#1affe5"/>
<rect x="390.12" y="483.61" width="7.07" height="13.94" fill="#0090ff"/>
<rect x="396.60" y="483.61" width="7.07" height="13.94" fill="#1affe5"/>
<rect x="403.07" y="483.61" width="6.47" height="13.94" fill="#00d4ff"/>
<rect x="422.49" y="483.61" width="6.47" height="13.94" fill="#1affe5"/>
<rect x="461.32" y="483.61" width="6.47" height="13.34" fill="#00d4ff"/>
<rect x="474.26" y="483.61" width="7.07" height="13.34" fill="#001aff"/>
<rect x="480.74" y="483.61" width="7.07" height="13.34" fill="#00d4ff"/>
<rect x="487.21" y="483.61" width="6.47" height="13.34" fill="#00d4ff"/>
<rect x="506.62" y="483.61" width="7.07" height="13.34" fill="#5effa2"/>
<rect x="513.10" y="483.61" width="7.07" height="13.34" fill="#1affe5"/>
<rect x="519.57" y="483.61" width="7.07" height="13.34" fill="#0090ff"/>
<rect x="526.04" y="483.61" width="7.07" height="13.34" fill="#00d4ff"/>
<rect x="532.51" y="483.61" width="7.07" height="13.94" fill="#1affe5"/>
<rect x="538.99" y="483.61" width="7.07" height="13.94" fill="#0052ff"/>
<rect x="545.46" y="483.61" width="6.47" height="13.94" fill="#0052ff"/>
<rect x="558.40" y="483.61" width="6.47" height="13.34" fill="#001aff"/>
<rect x="571.35" y="483.61" width="6.47" height="13.94" fill="#800000"/>
<rect x="377.18" y="496.95" width="6.47" height="13.34" fill="#0052ff"/>
<rect x="390.12" y="496.95" width="7.07" height="13.34" fill="#a2ff5e"/>
<rect x="396.60" y="496.95" width="7.07" height="13.94" fill="#1affe5"/>
<rect x="403.07" y="496.95" width="7.07" height="13.94" fill="#0090ff"/>
<rect x="409.54" y="496.95" width="7.07" height="13.94" fill="#0052ff"/>
<rect x="416.01" y="496.95" width="7.07" height="13.94" fill="#1affe5"/>
<rect x="422.49" y="496.95" width="7.07" height="13.94" fill="#0090ff"/>
<rect x="428.96" y="496.95" width="6.47" height="13.34" fill="#0090ff"/>
<rect x="441.90" y="496.95" width="7.07" height="13.34" fill="#0052ff"/>
<rect x="448.38" y="496.95" width="6.47" height="13.34" fill="#001aff"/>
<rect x="493.68" y="496.95" width="6.47" height="13.34" fill="#ff9100"/>
<rect x="532.51" y="496.95" width="7.07" height="13.34" fill="#0090ff"/>
<rect x="538.99" y="496.95" width="7.07" height="13.94" fill="#0052ff"/>
<rect x="545.46" y="496.95" width="6.47" height="13.94" fill="#0052ff"/>
<rect x="571.35" y="496.95" width="6.47" height="13.94" fill="#0052ff"/>
<rect x="396.60" y="510.29" width="7.07" height="13.34" fill="#0052ff"/>
<rect x="403.07" y="510.29" width="7.07" height="13.34" fill="#001aff"/>
<rect x="409.54" y="510.29" width="7.07" height="13.34" fill="#0052ff"/>
<rect x="416.01" y="510.29" width="7.07" height="13.34" fill="#0052ff"/>
<rect x="422.49" y="510.29" width="6.47" height="13.34" fill="#001aff"/>
<rect x="435.43" y="510.29" width="6.47" height="13.34" fill="#001aff"/>
<rect x="538.99" y="510.29" width="7.07" height="13.34" fill="#0052ff"/>
<rect x="545.46" y="510.29" width="7.07" height="13.34" fill="#0052ff"/>
<rect x="551.93" y="510.29" width="7.07" height="13.34" fill="#0090ff"/>
<rect x="558.40" y="510.29" width="7.07" height="13.34" fill="#0090ff"/>
<rect x="564.88" y="510.29" width="7.07" height="13.34" fill="#0090ff"/>
<rect x="571.35" y="510.29" width="6.47" height="13.34" fill="#ff4c00"/>
</g>
<text x="361.20" y="541.50" font-size="11.50" text-anchor="middle" font-weight="normal" fill="#000" stroke="#000" stroke-width="0.30" >-180</text>
<text x="389.43" y="541.50" font-size="11.50" text-anchor="middle" font-weight="normal" fill="#000" stroke="#000" stroke-width="0.30" >-135</text>
<text x="418.10" y="541.50" font-size="11.50" text-anchor="middle" font-weight="normal" fill="#000" stroke="#000" stroke-width="0.30" >-90</text>
<text x="446.38" y="541.50" font-size="11.50" text-anchor="middle" font-weight="normal" fill="#000" stroke="#000" stroke-width="0.30" >-45</text>
<text x="477.00" y="541.50" font-size="11.50" text-anchor="middle" font-weight="normal" fill="#000" stroke="#000" stroke-width="0.30" >0</text>
<text x="506.23" y="541.50" font-size="11.50" text-anchor="middle" font-weight="normal" fill="#000" stroke="#000" stroke-width="0.30" >45</text>
<text x="534.95" y="541.50" font-size="11.50" text-anchor="middle" font-weight="normal" fill="#000" stroke="#000" stroke-width="0.30" >90</text>
<text x="564.98" y="541.50" font-size="11.50" text-anchor="middle" font-weight="normal" fill="#000" stroke="#000" stroke-width="0.30" >135</text>
<text x="591.50" y="541.50" font-size="11.50" text-anchor="middle" font-weight="normal" fill="#000" stroke="#000" stroke-width="0.30" >180</text>
<text x="354.70" y="532.90" font-size="11.20" text-anchor="end" font-weight="normal" fill="#000" stroke="#000" stroke-width="0.30" >-30</text>
<text x="354.70" y="500.65" font-size="11.20" text-anchor="end" font-weight="normal" fill="#000" stroke="#000" stroke-width="0.30" >-20</text>
<text x="354.70" y="467.30" font-size="11.20" text-anchor="end" font-weight="normal" fill="#000" stroke="#000" stroke-width="0.30" >-10</text>
<text x="354.70" y="433.95" font-size="11.20" text-anchor="end" font-weight="normal" fill="#000" stroke="#000" stroke-width="0.30" >0</text>
<text x="354.70" y="400.60" font-size="11.20" text-anchor="end" font-weight="normal" fill="#000" stroke="#000" stroke-width="0.30" >10</text>
<text x="354.70" y="367.25" font-size="11.20" text-anchor="end" font-weight="normal" fill="#000" stroke="#000" stroke-width="0.30" >20</text>
<text x="354.70" y="338.70" font-size="11.20" text-anchor="end" font-weight="normal" fill="#000" stroke="#000" stroke-width="0.30" >30</text>
<text x="414.10" y="318.00" font-size="17.40" text-anchor="start" font-weight="bold" fill="#000" stroke="#000" stroke-width="0.20" >Peak Frequency</text>
<text x="477.00" y="555.30" font-size="14.40" text-anchor="middle" font-weight="bold" fill="#000" stroke="#000" stroke-width="0.20" >Longitude (°)</text>
<line x1="359.90" y1="569.60" x2="593.50" y2="569.60" stroke="#ff0000" stroke-width="1.00"/>
<line x1="359.90" y1="569.60" x2="359.90" y2="564.60" stroke="#ff0000" stroke-width="0.90"/>
<line x1="364.77" y1="569.60" x2="364.77" y2="566.80" stroke="#ff0000" stroke-width="0.90"/>
<line x1="369.63" y1="569.60" x2="369.63" y2="566.80" stroke="#ff0000" stroke-width="0.90"/>
<line x1="374.50" y1="569.60" x2="374.50" y2="566.80" stroke="#ff0000" stroke-width="0.90"/>
<line x1="379.37" y1="569.60" x2="379.37" y2="566.80" stroke="#ff0000" stroke-width="0.90"/>
<line x1="384.23" y1="569.60" x2="384.23" y2="566.80" stroke="#ff0000" stroke-width="0.90"/>
<line x1="389.10" y1="569.60" x2="389.10" y2="564.60" stroke="#ff0000" stroke-width="0.90"/>
<line x1="393.97" y1="569.60" x2="393.97" y2="566.80" stroke="#ff0000" stroke-width="0.90"/>
<line x1="398.83" y1="569.60" x2="398.83" y2="566.80" stroke="#ff0000" stroke-width="0.90"/>
<line x1="403.70" y1="569.60" x2="403.70" y2="566.80" stroke="#ff0000" stroke-width="0.90"/>
<line x1="408.57" y1="569.60" x2="408.57" y2="566.80" stroke="#ff0000" stroke-width="0.90"/>
<line x1="413.43" y1="569.60" x2="413.43" y2="566.80" stroke="#ff0000" stroke-width="0.90"/>
<line x1="418.30" y1="569.60" x2="418.30" y2="564.60" stroke="#ff0000" stroke-width="0.90"/>
<line x1="423.17" y1="569.60" x2="423.17" y2="566.80" stroke="#ff0000" stroke-width="0.90"/>
<line x1="428.03" y1="569.60" x2="428.03" y2="566.80" stroke="#ff0000" stroke-width="0.90"/>
<line x1="432.90" y1="569.60" x2="432.90" y2="566.80" stroke="#ff0000" stroke-width="0.90"/>
<line x1="437.77" y1="569.60" x2="437.77" y2="566.80" stroke="#ff0000" stroke-width="0.90"/>
<line x1="442.63" y1="569.60" x2="442.63" y2="566.80" stroke="#ff0000" stroke-width="0.90"/>
<line x1="447.50" y1="569.60" x2="447.50" y2="564.60" stroke="#ff0000" stroke-width="0.90"/>
<line x1="452.37" y1="569.60" x2="452.37" y2="566.80" stroke="#ff0000" stroke-width="0.90"/>
<line x1="457.23" y1="569.60" x2="457.23" y2="566.80" stroke="#ff0000" stroke-width="0.90"/>
<line x1="462.10" y1="569.60" x2="462.10" y2="566.80" stroke="#ff0000" stroke-width="0.90"/>
<line x1="466.97" y1="569.60" x2="466.97" y2="566.80" stroke="#ff0000" stroke-width="0.90"/>
<line x1="471.83" y1="569.60" x2="471.83" y2="566.80" stroke="#ff0000" stroke-width="0.90"/>
<line x1="476.70" y1="569.60" x2="476.70" y2="564.60" stroke="#ff0000" stroke-width="0.90"/>
<line x1="481.57" y1="569.60" x2="481.57" y2="566.80" stroke="#ff0000" stroke-width="0.90"/>
<line x1="486.43" y1="569.60" x2="486.43" y2="566.80" stroke="#ff0000" stroke-width="0.90"/>
<line x1="491.30" y1="569.60" x2="491.30" y2="566.80" stroke="#ff0000" stroke-width="0.90"/>
<line x1="496.17" y1="569.60" x2="496.17" y2="566.80" stroke="#ff0000" stroke-width="0.90"/>
<line x1="501.03" y1="569.60" x2="501.03" y2="566.80" stroke="#ff0000" stroke-width="0.90"/>
<line x1="505.90" y1="569.60" x2="505.90" y2="564.60" stroke="#ff0000" stroke-width="0.90"/>
<line x1="510.77" y1="569.60" x2="510.77" y2="566.80" stroke="#ff0000" stroke-width="0.90"/>
<line x1="515.63" y1="569.60" x2="515.63" y2="566.80" stroke="#ff0000" stroke-width="0.90"/>
<line x1="520.50" y1="569.60" x2="520.50" y2="566.80" stroke="#ff0000" stroke-width="0.90"/>
<line x1="525.37" y1="569.60" x2="525.37" y2="566.80" stroke="#ff0000" stroke-width="0.90"/>
<line x1="530.23" y1="569.60" x2="530.23" y2="566.80" stroke="#ff0000" stroke-width="0.90"/>
<line x1="535.10" y1="569.60" x2="535.10" y2="564.60" stroke="#ff0000" stroke-width="0.90"/>
<line x1="539.97" y1="569.60" x2="539.97" y2="566.80" stroke="#ff0000" stroke-width="0.90"/>
<line x1="544.83" y1="569.60" x2="544.83" y2="566.80" stroke="#ff0000" stroke-width="0.90"/>
<line x1="549.70" y1="569.60" x2="549.70" y2="566.80" stroke="#ff0000" stroke-width="0.90"/>
<line x1="554.57" y1="569.60" x2="554.57" y2="566.80" stroke="#ff0000" stroke-width="0.90"/>
<line x1="559.43" y1="569.60" x2="559.43" y2="566.80" stroke="#ff0000" stroke-width="0.90"/>
<line x1="564.30" y1="569.60" x2="564.30" y2="564.60" stroke="#ff0000" stroke-width="0.90"/>
<line x1="569.17" y1="569.60" x2="569.17" y2="566.80" stroke="#ff0000" stroke-width="0.90"/>
<line x1="574.03" y1="569.60" x2="574.03" y2="566.80" stroke="#ff0000" stroke-width="0.90"/>
<line x1="578.90" y1="569.60" x2="578.90" y2="566.80" stroke="#ff0000" stroke-width="0.90"/>
<line x1="583.77" y1="569.60" x2="583.77" y2="566.80" stroke="#ff0000" stroke-width="0.90"/>
<line x1="588.63" y1="569.60" x2="588.63" y2="566.80" stroke="#ff0000" stroke-width="0.90"/>
<line x1="593.50" y1="569.60" x2="593.50" y2="564.60" stroke="#ff0000" stroke-width="0.90"/>
<text x="358.70" y="581.80" font-size="11.40" text-anchor="middle" font-weight="normal" fill="#ff0000" stroke="#ff0000" stroke-width="0.30" >00</text>
<text x="387.90" y="581.80" font-size="11.40" text-anchor="middle" font-weight="normal" fill="#ff0000" stroke="#ff0000" stroke-width="0.30" >03</text>
<text x="417.10" y="581.80" font-size="11.40" text-anchor="middle" font-weight="normal" fill="#ff0000" stroke="#ff0000" stroke-width="0.30" >06</text>
<text x="446.30" y="581.80" font-size="11.40" text-anchor="middle" font-weight="normal" fill="#ff0000" stroke="#ff0000" stroke-width="0.30" >09</text>
<text x="475.50" y="581.80" font-size="11.40" text-anchor="middle" font-weight="normal" fill="#ff0000" stroke="#ff0000" stroke-width="0.30" >12</text>
<text x="504.70" y="581.80" font-size="11.40" text-anchor="middle" font-weight="normal" fill="#ff0000" stroke="#ff0000" stroke-width="0.30" >15</text>
<text x="533.90" y="581.80" font-size="11.40" text-anchor="middle" font-weight="normal" fill="#ff0000" stroke="#ff0000" stroke-width="0.30" >18</text>
<text x="563.10" y="581.80" font-size="11.40" text-anchor="middle" font-weight="normal" fill="#ff0000" stroke="#ff0000" stroke-width="0.30" >21</text>
<text x="592.30" y="581.80" font-size="11.40" text-anchor="middle" font-weight="normal" fill="#ff0000" stroke="#ff0000" stroke-width="0.30" >24</text>
<text x="477.00" y="594.70" font-size="14.40" text-anchor="middle" font-weight="bold" fill="#ff0000" stroke="#ff0000" stroke-width="0.20" >Local Time (h)</text>
<text x="576.90" y="347.70" font-size="11.00" text-anchor="middle" font-weight="normal" fill="#000" stroke="#000" stroke-width="0.30" >(d)</text>
<rect x="603.30" y="329.30" width="12.00" height="200.00" fill="url(#jetg)"/>
<line x1="615.30" y1="524.33" x2="611.00" y2="524.33" stroke="#000" stroke-width="1.20"/>
<line x1="615.30" y1="518.42" x2="611.00" y2="518.42" stroke="#000" stroke-width="1.20"/>
<line x1="615.30" y1="512.51" x2="611.00" y2="512.51" stroke="#000" stroke-width="1.20"/>
<line x1="615.30" y1="506.60" x2="609.10" y2="506.60" stroke="#000" stroke-width="1.20"/>
<line x1="615.30" y1="500.69" x2="611.00" y2="500.69" stroke="#000" stroke-width="1.20"/>
<line x1="615.30" y1="494.78" x2="611.00" y2="494.78" stroke="#000" stroke-width="1.20"/>
<line x1="615.30" y1="488.87" x2="611.00" y2="488.87" stroke="#000" stroke-width="1.20"/>
<line x1="615.30" y1="482.96" x2="611.00" y2="482.96" stroke="#000" stroke-width="1.20"/>
<line x1="615.30" y1="477.05" x2="611.00" y2="477.05" stroke="#000" stroke-width="1.20"/>
<line x1="615.30" y1="471.14" x2="611.00" y2="471.14" stroke="#000" stroke-width="1.20"/>
<line x1="615.30" y1="465.23" x2="611.00" y2="465.23" stroke="#000" stroke-width="1.20"/>
<line x1="615.30" y1="459.32" x2="611.00" y2="459.32" stroke="#000" stroke-width="1.20"/>
<line x1="615.30" y1="453.41" x2="611.00" y2="453.41" stroke="#000" stroke-width="1.20"/>
<line x1="615.30" y1="447.50" x2="609.10" y2="447.50" stroke="#000" stroke-width="1.20"/>
<line x1="615.30" y1="441.59" x2="611.00" y2="441.59" stroke="#000" stroke-width="1.20"/>
<line x1="615.30" y1="435.68" x2="611.00" y2="435.68" stroke="#000" stroke-width="1.20"/>
<line x1="615.30" y1="429.77" x2="611.00" y2="429.77" stroke="#000" stroke-width="1.20"/>
<line x1="615.30" y1="423.86" x2="611.00" y2="423.86" stroke="#000" stroke-width="1.20"/>
<line x1="615.30" y1="417.95" x2="611.00" y2="417.95" stroke="#000" stroke-width="1.20"/>
<line x1="615.30" y1="412.04" x2="611.00" y2="412.04" stroke="#000" stroke-width="1.20"/>
<line x1="615.30" y1="406.13" x2="611.00" y2="406.13" stroke="#000" stroke-width="1.20"/>
<line x1="615.30" y1="400.22" x2="611.00" y2="400.22" stroke="#000" stroke-width="1.20"/>
<line x1="615.30" y1="394.31" x2="611.00" y2="394.31" stroke="#000" stroke-width="1.20"/>
<line x1="615.30" y1="388.40" x2="609.10" y2="388.40" stroke="#000" stroke-width="1.20"/>
<line x1="615.30" y1="382.49" x2="611.00" y2="382.49" stroke="#000" stroke-width="1.20"/>
<line x1="615.30" y1="376.58" x2="611.00" y2="376.58" stroke="#000" stroke-width="1.20"/>
<line x1="615.30" y1="370.67" x2="611.00" y2="370.67" stroke="#000" stroke-width="1.20"/>
<line x1="615.30" y1="364.76" x2="611.00" y2="364.76" stroke="#000" stroke-width="1.20"/>
<line x1="615.30" y1="358.85" x2="611.00" y2="358.85" stroke="#000" stroke-width="1.20"/>
<line x1="615.30" y1="352.94" x2="611.00" y2="352.94" stroke="#000" stroke-width="1.20"/>
<line x1="615.30" y1="347.03" x2="611.00" y2="347.03" stroke="#000" stroke-width="1.20"/>
<line x1="615.30" y1="341.12" x2="611.00" y2="341.12" stroke="#000" stroke-width="1.20"/>
<line x1="615.30" y1="335.21" x2="611.00" y2="335.21" stroke="#000" stroke-width="1.20"/>
<rect x="603.30" y="329.30" width="12.00" height="200.00" fill="none" stroke="#000" stroke-width="1.0"/>
<text x="618.20" y="512.10" font-size="11.60" text-anchor="start" font-weight="normal" fill="#000" stroke="#000" stroke-width="0.30" >1.0</text>
<text x="618.20" y="453.00" font-size="11.60" text-anchor="start" font-weight="normal" fill="#000" stroke="#000" stroke-width="0.30" >2.0</text>
<text x="618.20" y="393.90" font-size="11.60" text-anchor="start" font-weight="normal" fill="#000" stroke="#000" stroke-width="0.30" >3.0</text>
<text x="618.20" y="335.40" font-size="11.60" text-anchor="start" font-weight="normal" fill="#000" stroke="#000" stroke-width="0.30" >4.0</text>
<text x="607.00" y="324.00" font-size="13.80" text-anchor="middle" font-weight="normal" fill="#000" stroke="#000" stroke-width="0.30" >[Hz]</text>
</svg></body></html>
